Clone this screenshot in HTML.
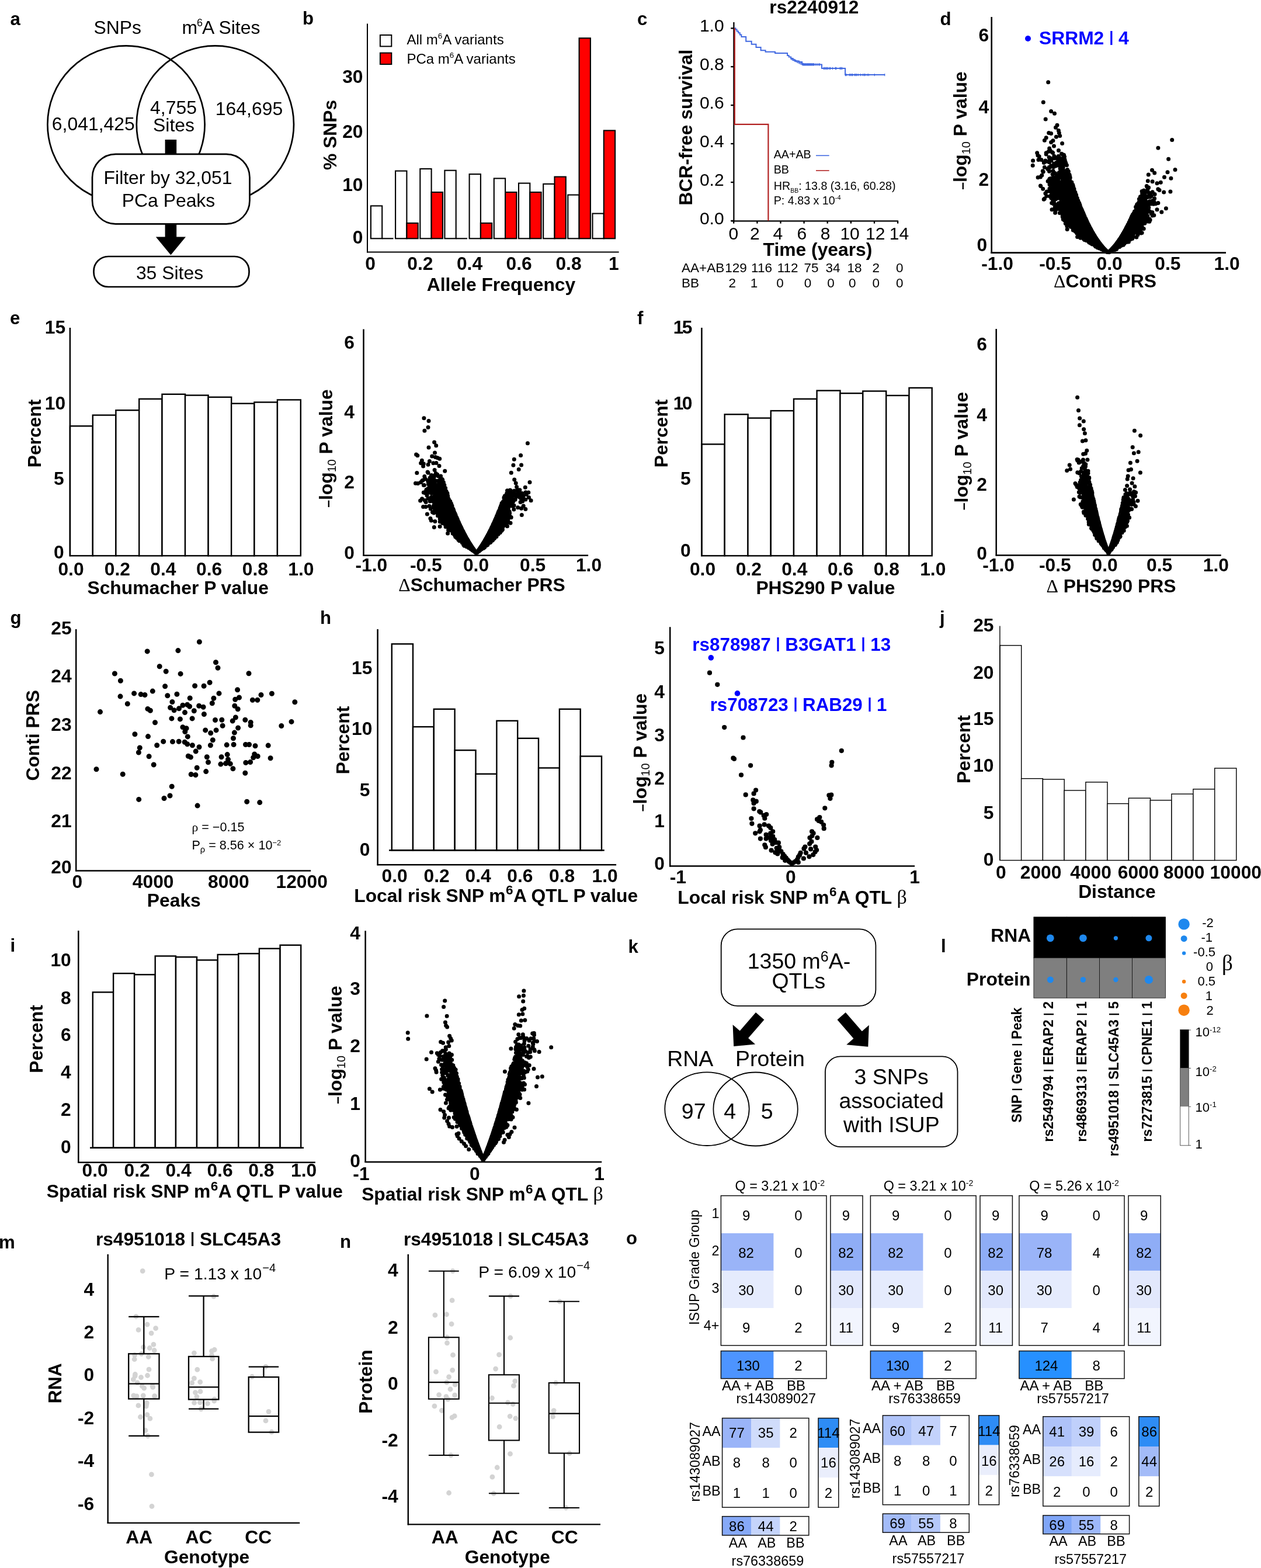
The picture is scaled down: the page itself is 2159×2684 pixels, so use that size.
<!DOCTYPE html>
<html lang="en"><head><meta charset="utf-8"><title>Figure</title>
<style>html,body{margin:0;padding:0;background:#fff}body{width:2159px;height:2684px;overflow:hidden}svg{display:block;font-family:"Liberation Sans",sans-serif;fill:#000}</style></head><body>
<svg xmlns="http://www.w3.org/2000/svg" width="2159" height="2684" viewBox="0 0 2159 2684">
<text x="17.5" y="43" font-size="31.2" font-weight="bold">a</text>
<circle cx="216" cy="213" r="134.6" fill="none" stroke="#000" stroke-width="2.7"/>
<circle cx="368.4" cy="213" r="134.6" fill="none" stroke="#000" stroke-width="2.7"/>
<text x="201.2" y="57.6" font-size="31.9" text-anchor="middle">SNPs</text>
<text x="311.5" y="57.6" font-size="31.9">m<tspan font-size="18" dy="-12.5" dx="-1">6</tspan><tspan dy="12.5" dx="-1">A Sites</tspan></text>
<text x="159.8" y="222.7" font-size="31.9" text-anchor="middle">6,041,425</text>
<text x="297" y="195.4" font-size="31.9" text-anchor="middle">4,755</text>
<text x="297.5" y="224.5" font-size="31.9" text-anchor="middle">Sites</text>
<text x="426.5" y="197" font-size="31.9" text-anchor="middle">164,695</text>
<rect x="282.6" y="239" width="19.6" height="26" fill="#000"/>
<rect x="158" y="263.8" width="269.5" height="119.5" fill="#fff" stroke="#000" stroke-width="2.7" rx="40"/>
<text x="287.5" y="315" font-size="31.9" text-anchor="middle">Filter by 32,051</text>
<text x="288.5" y="353.8" font-size="31.9" text-anchor="middle">PCa Peaks</text>
<path d="M282.6 382 H302.2 V405.5 H318 L292.4 436.5 L266.8 405.5 H282.6 Z" fill="#000"/>
<rect x="160.5" y="439" width="266" height="52" fill="#fff" stroke="#000" stroke-width="2.7" rx="25"/>
<text x="290.5" y="478.2" font-size="31.9" text-anchor="middle">35 Sites</text>
<text x="518" y="42.3" font-size="31.2" font-weight="bold">b</text>
<rect x="634.9" y="352.4" width="19.3" height="55.9" fill="#fff" stroke="#000" stroke-width="2.1"/>
<line x1="654.2" y1="408.3" x2="673.5" y2="408.3" stroke="#000" stroke-width="2.1"/>
<rect x="677.1" y="292.6" width="19.3" height="115.7" fill="#fff" stroke="#000" stroke-width="2.1"/>
<rect x="696.4" y="381.9" width="19.3" height="26.4" fill="#f00" stroke="#000" stroke-width="2.1"/>
<rect x="719.3" y="289" width="19.3" height="119.3" fill="#fff" stroke="#000" stroke-width="2.1"/>
<rect x="738.6" y="329" width="19.3" height="79.3" fill="#f00" stroke="#000" stroke-width="2.1"/>
<rect x="761.4" y="291.7" width="19.3" height="116.6" fill="#fff" stroke="#000" stroke-width="2.1"/>
<line x1="780.7" y1="408.3" x2="800" y2="408.3" stroke="#000" stroke-width="2.1"/>
<rect x="803.6" y="298.1" width="19.3" height="110.2" fill="#fff" stroke="#000" stroke-width="2.1"/>
<rect x="822.9" y="381.9" width="19.3" height="26.4" fill="#f00" stroke="#000" stroke-width="2.1"/>
<rect x="845.8" y="305.4" width="19.3" height="102.9" fill="#fff" stroke="#000" stroke-width="2.1"/>
<rect x="865.1" y="329" width="19.3" height="79.3" fill="#f00" stroke="#000" stroke-width="2.1"/>
<rect x="888" y="313.6" width="19.3" height="94.7" fill="#fff" stroke="#000" stroke-width="2.1"/>
<rect x="907.3" y="329" width="19.3" height="79.3" fill="#f00" stroke="#000" stroke-width="2.1"/>
<rect x="930.2" y="314.9" width="19.3" height="93.4" fill="#fff" stroke="#000" stroke-width="2.1"/>
<rect x="949.5" y="302.6" width="19.3" height="105.7" fill="#f00" stroke="#000" stroke-width="2.1"/>
<rect x="972.3" y="333.6" width="19.3" height="74.7" fill="#fff" stroke="#000" stroke-width="2.1"/>
<rect x="991.6" y="65.3" width="19.3" height="343" fill="#f00" stroke="#000" stroke-width="2.1"/>
<rect x="1014.5" y="365.5" width="19.3" height="42.8" fill="#fff" stroke="#000" stroke-width="2.1"/>
<rect x="1033.8" y="223.4" width="19.3" height="184.9" fill="#f00" stroke="#000" stroke-width="2.1"/>
<line x1="629" y1="40.5" x2="629" y2="432.6" stroke="#000" stroke-width="2"/>
<line x1="628" y1="431.6" x2="1059.6" y2="431.6" stroke="#000" stroke-width="2"/>
<text x="621.5" y="141.5" font-size="31.8" font-weight="bold" text-anchor="end">30</text>
<text x="621.5" y="235.8" font-size="31.8" font-weight="bold" text-anchor="end">20</text>
<text x="621.5" y="327.3" font-size="31.8" font-weight="bold" text-anchor="end">10</text>
<text x="621.5" y="417.3" font-size="31.8" font-weight="bold" text-anchor="end">0</text>
<text x="634" y="462.3" font-size="31.8" font-weight="bold" text-anchor="middle">0</text>
<text x="719.4" y="462.3" font-size="31.8" font-weight="bold" text-anchor="middle">0.2</text>
<text x="804" y="462.3" font-size="31.8" font-weight="bold" text-anchor="middle">0.4</text>
<text x="888.7" y="462.3" font-size="31.8" font-weight="bold" text-anchor="middle">0.6</text>
<text x="973.5" y="462.3" font-size="31.8" font-weight="bold" text-anchor="middle">0.8</text>
<text x="1050.8" y="462.3" font-size="31.8" font-weight="bold" text-anchor="middle">1</text>
<text x="858" y="498.3" font-size="31.8" font-weight="bold" text-anchor="middle">Allele Frequency</text>
<text transform="translate(576 231) rotate(-90)" font-size="31.8" font-weight="bold" text-anchor="middle">% SNPs</text>
<rect x="650.9" y="60" width="19.4" height="19.4" fill="#fff" stroke="#000" stroke-width="2"/>
<rect x="650.9" y="90.6" width="19.4" height="19.4" fill="#f00" stroke="#000" stroke-width="2"/>
<text x="696.4" y="75.6" font-size="24">All m<tspan font-size="13.5" dy="-9.5">6</tspan><tspan dy="9.5">A variants</tspan></text>
<text x="696.4" y="108.5" font-size="24">PCa m<tspan font-size="13.5" dy="-9.5">6</tspan><tspan dy="9.5">A variants</tspan></text>
<text x="1091" y="43.3" font-size="31.2" font-weight="bold">c</text>
<text x="1393.8" y="23.2" font-size="31.6" font-weight="bold" text-anchor="middle">rs2240912</text>
<line x1="1256.4" y1="38" x2="1256.4" y2="379.5" stroke="#000" stroke-width="2.3"/>
<line x1="1251.6" y1="378.4" x2="1537.9" y2="378.4" stroke="#000" stroke-width="2.3"/>
<line x1="1251.2" y1="48.4" x2="1256.4" y2="48.4" stroke="#000" stroke-width="2.3"/>
<text x="1239.6" y="54" font-size="30" text-anchor="end">1.0</text>
<line x1="1251.2" y1="114.2" x2="1256.4" y2="114.2" stroke="#000" stroke-width="2.3"/>
<text x="1239.6" y="119.8" font-size="30" text-anchor="end">0.8</text>
<line x1="1251.2" y1="180.1" x2="1256.4" y2="180.1" stroke="#000" stroke-width="2.3"/>
<text x="1239.6" y="185.7" font-size="30" text-anchor="end">0.6</text>
<line x1="1251.2" y1="246" x2="1256.4" y2="246" stroke="#000" stroke-width="2.3"/>
<text x="1239.6" y="251.6" font-size="30" text-anchor="end">0.4</text>
<line x1="1251.2" y1="312" x2="1256.4" y2="312" stroke="#000" stroke-width="2.3"/>
<text x="1239.6" y="317.6" font-size="30" text-anchor="end">0.2</text>
<line x1="1251.2" y1="377.9" x2="1256.4" y2="377.9" stroke="#000" stroke-width="2.3"/>
<text x="1239.6" y="383.5" font-size="30" text-anchor="end">0.0</text>
<line x1="1256.2" y1="378" x2="1256.2" y2="382.6" stroke="#000" stroke-width="2.3"/>
<text x="1255.8" y="409.8" font-size="30" text-anchor="middle">0</text>
<line x1="1296.4" y1="378" x2="1296.4" y2="382.6" stroke="#000" stroke-width="2.3"/>
<text x="1292.3" y="409.8" font-size="30" text-anchor="middle">2</text>
<line x1="1336.5" y1="378" x2="1336.5" y2="382.6" stroke="#000" stroke-width="2.3"/>
<text x="1331.9" y="409.8" font-size="30" text-anchor="middle">4</text>
<line x1="1376.6" y1="378" x2="1376.6" y2="382.6" stroke="#000" stroke-width="2.3"/>
<text x="1372.9" y="409.8" font-size="30" text-anchor="middle">6</text>
<line x1="1416.7" y1="378" x2="1416.7" y2="382.6" stroke="#000" stroke-width="2.3"/>
<text x="1413" y="409.8" font-size="30" text-anchor="middle">8</text>
<line x1="1456.9" y1="378" x2="1456.9" y2="382.6" stroke="#000" stroke-width="2.3"/>
<text x="1455.1" y="409.8" font-size="30" text-anchor="middle">10</text>
<line x1="1497" y1="378" x2="1497" y2="382.6" stroke="#000" stroke-width="2.3"/>
<text x="1498.8" y="409.8" font-size="30" text-anchor="middle">12</text>
<line x1="1537.1" y1="378" x2="1537.1" y2="382.6" stroke="#000" stroke-width="2.3"/>
<text x="1539.5" y="409.8" font-size="30" text-anchor="middle">14</text>
<text x="1400" y="438" font-size="31.8" font-weight="bold" text-anchor="middle">Time (years)</text>
<text transform="translate(1184.9 218) rotate(-90)" font-size="31.8" font-weight="bold" text-anchor="middle">BCR-free survival</text>
<path d="M1257.3 48.2H1259.4V50.4H1261.6V53.4H1264.2V56.3H1266.8V59.4H1269.4V62.9H1275.5V62.9H1277.2V70.7H1285.8V70.7H1286.7V75.8H1291.9V75.8H1294.5V81H1301.4V81H1302.6V86.2H1310.1V86.2H1310.6V88.8H1326V88.8H1327V90.9H1345.9V90.9H1348.1V94.9H1350.7V97.5H1354.2V100.1H1357.6V102.7H1361.1V104.4H1368V106.1H1373.2V108.7H1374.9V110.4H1406.1V110.4H1407V117H1445.9V117H1447.1V128.1H1515.1V128.1" fill="none" stroke="#4169e1" stroke-width="2"/>
<path d="M1354.2 97.9v4.4M1355.8 98.7v4.4M1357.4 99.5v4.4M1359 100.3v4.4M1360.6 101.1v4.4M1362.2 101.9v4.4M1363.8 102.7v4.4M1365.4 103.5v4.4M1367 104.3v4.4M1368.6 105.1v4.4M1370.2 105.9v4.4M1371.8 106.7v4.4M1373.4 107.5v4.4M1374.9 108.2v4.4M1375.8 108.2v4.4M1377 108.2v4.4M1378.2 108.2v4.4M1379.4 108.2v4.4M1380.7 108.2v4.4M1381.9 108.2v4.4M1383.1 108.2v4.4M1384.3 108.2v4.4M1385.5 108.2v4.4M1386.7 108.2v4.4M1387.9 108.2v4.4M1389.1 108.2v4.4M1390.3 108.2v4.4M1391.6 108.2v4.4M1392.8 108.2v4.4M1394 108.2v4.4M1396.6 108.2v4.4M1399.2 108.2v4.4M1401.8 108.2v4.4M1403.5 108.2v4.4M1410.4 114.8v4.4M1412.1 114.8v4.4M1413.9 114.8v4.4M1415.6 114.8v4.4M1417.3 114.8v4.4M1419.9 114.8v4.4M1421.7 114.8v4.4M1425.5 114.8v4.4M1430.3 114.8v4.4M1431.7 114.8v4.4M1438.1 114.8v4.4M1439.8 114.8v4.4M1441.6 114.8v4.4M1447.6 125.9v4.4M1449 125.9v4.4M1454.5 125.9v4.4M1456.3 125.9v4.4M1458.3 125.9v4.4M1459.7 125.9v4.4M1463.2 125.9v4.4M1464.9 125.9v4.4M1466.6 125.9v4.4M1469.2 125.9v4.4M1473.6 125.9v4.4M1477.4 125.9v4.4M1479.6 125.9v4.4M1481.3 125.9v4.4M1484.8 125.9v4.4M1487.4 125.9v4.4M1497.3 125.9v4.4M1514.7 125.9v4.4" fill="none" stroke="#4169e1" stroke-width="1.2"/>
<path d="M1257.8 48.2V212.8H1315.4V378" fill="none" stroke="#b22222" stroke-width="2.2"/>
<text x="1324.7" y="271" font-size="19.7">AA+AB</text>
<line x1="1397" y1="266.3" x2="1419.7" y2="266.3" stroke="#4169e1" stroke-width="1.6"/>
<text x="1324.7" y="296.5" font-size="19.7">BB</text>
<line x1="1397" y1="292" x2="1419.7" y2="292" stroke="#b22222" stroke-width="1.6"/>
<text x="1324.7" y="324.8" font-size="19.7">HR<tspan font-size="10.5" dy="5.5">BB</tspan><tspan dy="-5.5">: 13.8 (3.16, 60.28)</tspan></text>
<text x="1324.7" y="350.4" font-size="19.7">P: 4.83 x 10<tspan font-size="11" dy="-8">-4</tspan></text>
<text x="1167" y="466" font-size="22.5">AA+AB</text>
<text x="1167" y="492" font-size="22.5">BB</text>
<text x="1260" y="466" font-size="22.5" text-anchor="middle">129</text>
<text x="1304" y="466" font-size="22.5" text-anchor="middle">116</text>
<text x="1348.7" y="466" font-size="22.5" text-anchor="middle">112</text>
<text x="1389" y="466" font-size="22.5" text-anchor="middle">75</text>
<text x="1426" y="466" font-size="22.5" text-anchor="middle">34</text>
<text x="1463" y="466" font-size="22.5" text-anchor="middle">18</text>
<text x="1499.8" y="466" font-size="22.5" text-anchor="middle">2</text>
<text x="1540.3" y="466" font-size="22.5" text-anchor="middle">0</text>
<text x="1253.7" y="492" font-size="22.5" text-anchor="middle">2</text>
<text x="1291" y="492" font-size="22.5" text-anchor="middle">1</text>
<text x="1335.6" y="492" font-size="22.5" text-anchor="middle">0</text>
<text x="1383" y="492" font-size="22.5" text-anchor="middle">0</text>
<text x="1422.5" y="492" font-size="22.5" text-anchor="middle">0</text>
<text x="1459.3" y="492" font-size="22.5" text-anchor="middle">0</text>
<text x="1499.8" y="492" font-size="22.5" text-anchor="middle">0</text>
<text x="1540.3" y="492" font-size="22.5" text-anchor="middle">0</text>
<text x="1609.5" y="42.9" font-size="31.2" font-weight="bold">d</text>
<line x1="1697.7" y1="29" x2="1697.7" y2="433.9" stroke="#000" stroke-width="2.6"/>
<line x1="1696.4" y1="432.6" x2="2099" y2="432.6" stroke="#000" stroke-width="2.6"/>
<text x="1693.1" y="70.5" font-size="31.8" font-weight="bold" text-anchor="end">6</text>
<text x="1693.1" y="194.3" font-size="31.8" font-weight="bold" text-anchor="end">4</text>
<text x="1693.1" y="318" font-size="31.8" font-weight="bold" text-anchor="end">2</text>
<text x="1690.2" y="430.1" font-size="31.8" font-weight="bold" text-anchor="end">0</text>
<text x="1707.6" y="461.9" font-size="31.8" font-weight="bold" text-anchor="middle">-1.0</text>
<text x="1806.6" y="461.9" font-size="31.8" font-weight="bold" text-anchor="middle">-0.5</text>
<text x="1899.6" y="461.9" font-size="31.8" font-weight="bold" text-anchor="middle">0.0</text>
<text x="1999.4" y="461.9" font-size="31.8" font-weight="bold" text-anchor="middle">0.5</text>
<text x="2100.6" y="461.9" font-size="31.8" font-weight="bold" text-anchor="middle">1.0</text>
<text x="1892" y="492.4" font-size="31.8" font-weight="bold" text-anchor="middle"><tspan font-family="'Liberation Serif','DejaVu Serif',serif" font-weight="normal">Δ</tspan>Conti PRS</text>
<text transform="translate(1655 223.6) rotate(-90)" font-size="31.8" font-weight="bold" text-anchor="middle"><tspan font-size="23">–</tspan>log<tspan font-size="20" font-weight="normal" dy="5.5">10</tspan><tspan dy="-5.5"> P value</tspan></text>
<path d="M1794.7 140.8h0M1786.3 174.9h0M1799.6 190.6h0M1805.5 194.3h0M1790.2 203.9h0M1810 214.3h0M1807.5 218.2h0M1812.4 223.5h0M1813.3 227.5h0M1795.7 227.5h0M1799.6 228.4h0M1814.7 232.4h0M1808.4 234.3h0M1791.2 235.7h0M1788.4 240.2h0M1802.9 240.8h0M1799.6 243.5h0M1818.6 245.5h0M1804.5 250h0M1796.7 253.9h0M1798.2 257.8h0M1791.2 261.8h0M1796.1 269.2h0M1778 273.5h0M1782.9 273.5h0M1787.3 278.4h0M1768.2 283.3h0M1788.4 286.3h0M1793.7 289.2h0M1799.6 285.3h0M1804.5 284.3h0M1781.4 302.9h0M1781.8 318.4h0M1792.2 328h0M1799.6 334.3h0M1801 358.8h0M2006.7 239.4h0M1982.9 253.3h0M2000.6 272.2h0M2012 290.4h0M1972.5 291.2h0M1976.7 296.1h0M1999 294.7h0M1966.3 299h0M1993.5 303.3h0M2004.9 305.3h0M1965.3 309.8h0M1973.1 310.8h0M1987.3 312.2h0M1981 313.7h0M1992.7 329h0M1988.8 363.1h0M1982.9 347.5h0M1981 358.8h0M1977.1 332.4h0M1955.1 327.5h0M1973.1 369h0M1812.5 257.6h0M1795.4 259.3h0M1801.4 260.6h0M1802.6 261.6h0M1775.7 261.8h0M1817.5 263.2h0M1791.2 264h0M1819.2 264.4h0M1821.5 265.3h0M1776.9 266h0M1804.8 267.3h0M1812 267.5h0M1779.2 267.8h0M1822.5 268.3h0M1813.5 269.5h0M1809.4 270.2h0M1809.8 270.7h0M1819.8 271h0M1805 271.1h0M1798.6 271.1h0M1810.5 271.8h0M1817.8 272.4h0M1823 273.3h0M1813.6 273.3h0M1797.4 273.7h0M1813.5 274.5h0M1812 274.6h0M1789.9 275h0M1799.8 275h0M1768.6 275.1h0M1822.8 276h0M1791.9 276.2h0M1817.3 276.3h0M1820.4 276.6h0M1823.9 276.8h0M1796.5 277.7h0M1809 278.3h0M1817.9 278.3h0M1824.4 278.5h0M1816.9 279.4h0M1824.9 279.4h0M1804.6 280h0M1815 280.7h0M1824.1 281.5h0M1822.3 281.6h0M1820 281.7h0M1818.7 282.6h0M1826.4 282.7h0M1807.5 282.8h0M1810.4 282.8h0M1816.1 283.3h0M1799.7 283.8h0M1807.8 284.1h0M1814.9 284.8h0M1803.9 285.7h0M1796.2 286.3h0M1820.2 286.8h0M1815.1 288.8h0M1795.8 289h0M1827.5 290.5h0M1819.9 290.7h0M1803 292.4h0M1828.2 292.5h0M1821.9 292.6h0M1785.3 292.7h0M1796.5 293.3h0M1829.4 293.5h0M1786.2 293.9h0M1821.3 294.1h0M1821 294.5h0M1814.6 295h0M1817.9 295.3h0M1813.4 295.3h0M1804.2 295.5h0M1815.4 295.9h0M1828.1 295.9h0M1823.2 296h0M1806.5 296.4h0M1818.9 296.7h0M1821.6 297h0M1816 297.4h0M1802.1 298.4h0M1831 298.9h0M1813.5 299.3h0M1825.3 299.6h0M1783.8 300.1h0M1809.5 300.2h0M1813.8 300.5h0M1831.4 300.6h0M1825.8 300.7h0M1818.7 301.1h0M1822.4 301.4h0M1828.5 301.6h0M1831.5 302h0M1823.7 302.1h0M1829.8 302.8h0M1826.5 303h0M1832 303.2h0M1803.7 303.2h0M1818 303.3h0M1777.1 303.8h0M1817.4 304.1h0M1832.2 304.2h0M1813.5 304.6h0M1829.2 305h0M1827.4 305h0M1805.9 305h0M1802.5 305.6h0M1798.8 305.6h0M1797.2 305.9h0M1828.1 306h0M1830.9 306.1h0M1824.1 306.2h0M1809 306.4h0M1796.6 306.9h0M1811.8 306.9h0M1825.8 307.4h0M1801.4 307.5h0M1830.3 308h0M1822.1 308.2h0M1819.5 308.3h0M1821.9 308.8h0M1831.8 308.9h0M1807.3 309.4h0M1829.7 309.4h0M1830.1 309.7h0M1802.3 309.9h0M1812.5 310.2h0M1823.2 310.2h0M1794.1 310.3h0M1832 310.4h0M1830.7 310.8h0M1821 310.9h0M1813 311.2h0M1800.1 311.3h0M1819.4 311.3h0M1804.6 311.6h0M1826.9 311.8h0M1834.9 312h0M1822.1 312.2h0M1817.1 312.3h0M1810.4 312.6h0M1801.1 312.7h0M1820.3 312.9h0M1832.5 312.9h0M1830.5 313.2h0M1810 313.3h0M1820.9 313.5h0M1813.4 313.6h0M1820.1 313.8h0M1804.2 314.3h0M1827.3 314.4h0M1827.6 314.6h0M1829.7 314.8h0M1807.9 314.9h0M1824.3 315.2h0M1820.9 315.6h0M1824.3 315.7h0M1797 315.8h0M1830.7 315.9h0M1826.7 316.1h0M1811.2 316.2h0M1802.7 316.3h0M1836.7 316.3h0M1820.4 316.4h0M1832.3 316.6h0M1819.5 316.6h0M1836.5 317.2h0M1814.5 317.3h0M1824.7 317.7h0M1811.7 318h0M1826 318h0M1822.9 318h0M1819.2 318.1h0M1831.9 318.1h0M1781.4 318.1h0M1835.1 318.2h0M1815.9 318.3h0M1807.2 318.3h0M1803.6 318.3h0M1963.3 318.5h0M1836.6 318.5h0M1819.1 318.8h0M1802.8 318.8h0M1837.4 318.8h0M1833.3 319.1h0M1823.1 319.1h0M1963.6 319.2h0M1809.9 319.4h0M1825.6 319.4h0M1828.9 319.4h0M1833.6 319.6h0M1828.2 319.8h0M1824.7 319.8h0M1815.9 319.9h0M1798.9 320h0M1964.7 320.4h0M1815.9 320.5h0M1829.7 320.6h0M1809.6 320.7h0M1966.6 320.9h0M1822.2 320.9h0M1837.9 321.1h0M1821.2 321.7h0M1803.2 321.7h0M1823.8 321.7h0M1813.6 321.8h0M1832.9 322h0M1838.1 322.4h0M1812.6 322.5h0M1824.8 322.7h0M1836.5 322.7h0M1832.2 322.7h0M1822.2 322.8h0M1796.9 323.1h0M1828.7 323.1h0M1838.3 323.2h0M1785.7 323.3h0M1839 323.5h0M1836.4 323.7h0M1820.3 323.7h0M1982.8 323.8h0M1824.2 323.9h0M1808.6 324h0M1805.1 324.2h0M1816.1 324.2h0M1836.9 324.4h0M1810.7 324.5h0M1832.1 324.9h0M1837.5 325h0M1810.7 325.1h0M1818.7 325.2h0M1823.8 325.2h0M1964.8 325.2h0M1831 325.4h0M1985 325.5h0M1819.6 325.6h0M1836.6 325.7h0M1821.8 325.8h0M1824.6 325.8h0M1832.6 325.9h0M1808.8 325.9h0M1805.9 325.9h0M1958.4 326.1h0M1838.3 326.4h0M1806.1 326.6h0M1812.8 326.7h0M1801.4 326.7h0M1837.1 326.8h0M1821.5 326.9h0M1814.1 326.9h0M1825.6 327h0M1830.9 327.5h0M1813.3 327.6h0M1835.9 327.6h0M1839.7 327.6h0M1798.3 327.8h0M1825.3 328h0M1819.7 328h0M2003.9 328.1h0M1830.6 328.3h0M1838.8 328.4h0M1973.2 328.7h0M1827.2 328.8h0M1840.5 328.9h0M1833.2 328.9h0M1812.7 329h0M1804.9 329h0M1829.5 329h0M1814.8 329.1h0M1802.5 329.1h0M1961.2 329.1h0M1824.9 329.3h0M1808.6 329.4h0M1841 329.4h0M1840.2 329.7h0M1822.7 329.7h0M1830.4 329.8h0M1836.6 329.8h0M1826.2 330h0M1833.7 330.1h0M1967.2 330.1h0M1819.1 330.2h0M1809.2 330.2h0M1816.7 330.7h0M1821.6 330.8h0M1833.1 330.8h0M1825 330.8h0M1839.5 330.8h0M1789.9 331h0M1835.2 331.1h0M1955.6 331.2h0M1841 331.3h0M1968.7 331.5h0M1825.9 331.6h0M1816.6 331.7h0M1837.2 331.8h0M1821.1 331.8h0M1833.2 331.8h0M1839.8 331.9h0M1826.4 331.9h0M1830.7 332h0M1804.5 332.2h0M1837.3 332.7h0M1832.2 332.9h0M1820.7 333.1h0M1829.5 333.1h0M1814 333.2h0M1841.5 333.3h0M1842.5 333.5h0M1837.2 333.7h0M1818.8 333.7h0M1825.5 333.7h0M1827.5 333.9h0M1840.2 334h0M1842.4 334h0M1835.6 334.1h0M1811.1 334.2h0M1817.6 334.7h0M1824.1 334.7h0M1960.8 334.7h0M1810.5 334.7h0M1804.8 334.8h0M1840.8 335h0M1814.1 335h0M1842.7 335h0M1834.3 335.1h0M1829.4 335.2h0M1971.1 335.4h0M1823.7 335.4h0M1791.7 335.5h0M1819.8 335.6h0M1840 335.6h0M1822.9 335.7h0M1828.6 335.7h0M1817.4 336h0M1963.5 336.1h0M1797.5 336.1h0M1842.8 336.2h0M1829.6 336.2h0M1815 336.3h0M1832.7 336.4h0M1826.8 336.5h0M1839.3 336.5h0M1821.5 336.6h0M1952.4 336.7h0M1840 336.7h0M1837.4 336.8h0M1813.9 336.9h0M1832.1 336.9h0M1969.2 337.2h0M1964.6 337.4h0M1804.9 337.4h0M1842.2 337.5h0M1800.5 337.5h0M1831.3 337.6h0M1828 337.6h0M1842.7 337.6h0M1957 337.7h0M1843.3 337.9h0M1809.1 337.9h0M1822.4 338h0M1833.1 338.1h0M1957.7 338.2h0M1827.4 338.4h0M1838.8 338.4h0M1819 338.5h0M1816 338.6h0M1843.2 338.7h0M1824.5 338.8h0M1835.7 338.8h0M1799.8 338.9h0M1812.2 338.9h0M1832.5 339.1h0M1844.3 339.2h0M1840.2 339.3h0M1808.4 339.5h0M1824.5 339.6h0M1815.3 339.6h0M1976.6 339.8h0M1836.6 339.9h0M1840.1 339.9h0M1818.3 339.9h0M1951.3 339.9h0M1788.4 340h0M1830.5 340.1h0M1958.2 340.1h0M1841.8 340.5h0M1817.6 340.6h0M1958.4 340.6h0M1829.5 340.7h0M1823.9 340.7h0M1844.3 340.8h0M1950.4 340.8h0M1807.7 340.8h0M1837.5 341h0M1822.3 341.1h0M1816.8 341.2h0M1802.2 341.3h0M1787.2 341.3h0M1827.7 341.4h0M1841.3 341.4h0M1952 341.6h0M1833.4 341.6h0M1820.9 341.7h0M1831.2 341.8h0M1828.6 341.9h0M1825.8 342.1h0M1842.1 342.1h0M1838.3 342.2h0M1844.1 342.3h0M1821.1 342.4h0M1834 342.6h0M1830 342.8h0M1817.1 342.9h0M1957.2 342.9h0M1825.6 342.9h0M1821.4 343h0M1840.1 343.1h0M1954.3 343.1h0M1975.1 343.2h0M1845.3 343.4h0M1837.2 343.4h0M1845.9 343.4h0M1961.3 343.6h0M1825.7 343.6h0M1818.5 343.7h0M1842.1 343.8h0M1972.8 343.9h0M1837.9 343.9h0M1845.2 344h0M1831.4 344.1h0M1820.4 344.4h0M1950.7 344.6h0M1839.5 344.7h0M1830.1 344.7h0M1968.2 344.8h0M1836.2 344.8h0M1845.2 345.1h0M1958.2 345.3h0M1971.4 345.3h0M1962.7 345.4h0M1826.2 345.4h0M1840.1 345.8h0M1836.6 345.8h0M1821.2 345.9h0M1841.9 345.9h0M1832.8 346h0M1804.5 346h0M1976.1 346.1h0M1950.6 346.2h0M1962.6 346.2h0M1953.8 346.2h0M1830.9 346.3h0M1963.8 346.4h0M1841.7 346.6h0M1834.3 346.7h0M1824.5 346.7h0M1847.1 346.7h0M1832.3 346.8h0M1957.5 346.8h0M1828.9 346.9h0M1967.2 346.9h0M1839.6 347.2h0M1814.8 347.5h0M1844.5 347.5h0M1973 347.5h0M1825.5 347.5h0M1800.7 347.6h0M1823.8 347.6h0M1949.2 347.6h0M1836.4 347.7h0M1847.8 347.7h0M1829.8 347.8h0M1841.4 347.9h0M1812.3 347.9h0M1814.8 348.2h0M1834.5 348.2h0M1822 348.3h0M1958.9 348.3h0M1952.7 348.3h0M1967.3 348.5h0M1842 348.6h0M1821.5 348.6h0M1837.8 348.6h0M1977 348.6h0M1978.6 348.7h0M1952.6 348.8h0M1803.9 348.9h0M1830.2 348.9h0M1970.4 348.9h0M1818.1 348.9h0M1845.6 349h0M1950.2 349h0M1840 349.1h0M1848.2 349.2h0M1974.9 349.3h0M1836 349.5h0M1832.6 349.5h0M1843.8 349.7h0M1815.4 349.7h0M1826.9 349.7h0M1825.5 349.8h0M1946.9 349.8h0M1838.9 349.8h0M1818.8 349.8h0M1961.1 349.9h0M1829.2 350h0M1951.2 350h0M1847.2 350.2h0M1837.3 350.5h0M1808.8 350.5h0M1948.5 350.6h0M1839.7 350.6h0M1830.1 350.6h0M1824.5 350.7h0M1845.4 350.8h0M1819.3 350.9h0M1847.4 350.9h0M1849 350.9h0M1842.1 351h0M1952.5 351.1h0M1961.9 351.1h0M1825.9 351.3h0M1835.4 351.4h0M1965.2 351.5h0M1946.2 351.5h0M1814.5 351.6h0M1831.7 351.6h0M1807.9 351.7h0M1827.6 351.7h0M1824.7 351.7h0M1809.8 351.8h0M1838 351.8h0M1845.2 352h0M1822.2 352.1h0M1952.8 352.1h0M1835.3 352.1h0M1842.8 352.3h0M1806.7 352.3h0M1965.6 352.4h0M1848.6 352.5h0M1838.4 352.6h0M1952.4 352.7h0M1844.6 352.9h0M1820.5 352.9h0M1848.5 353h0M1830 353h0M1831.4 353h0M1840.2 353h0M1960.3 353.1h0M1835.4 353.1h0M1827 353.4h0M1965.6 353.5h0M1837 353.7h0M1965.1 353.7h0M1824.4 353.7h0M1843.9 353.7h0M1807.7 353.7h0M1945.8 353.7h0M1828.8 353.8h0M1948.2 353.8h0M1834.2 354h0M1952.1 354h0M1839.2 354h0M1816.9 354.1h0M1847.9 354.1h0M1849.8 354.1h0M1955.1 354.2h0M1944.6 354.2h0M1830.9 354.6h0M1806.2 354.7h0M1828.4 354.8h0M1847.1 354.8h0M1820.4 354.8h0M1833.4 354.9h0M1840 354.9h0M1849.9 354.9h0M1958.3 354.9h0M1843.6 355h0M1822.1 355.1h0M1946.3 355.3h0M1825.6 355.4h0M1949.2 355.4h0M1952.2 355.4h0M1966.8 355.5h0M1839.2 355.6h0M1829.4 355.7h0M1812.3 355.7h0M1846.9 355.8h0M1823.3 355.9h0M1834.6 355.9h0M1843.1 356.1h0M1966.3 356.2h0M1850.5 356.2h0M1955.5 356.3h0M1952.1 356.3h0M1818.9 356.4h0M1828.9 356.4h0M1839.8 356.4h0M1850.8 356.6h0M1948 356.6h0M1823.1 356.6h0M1996.4 356.7h0M1956.2 356.7h0M1952.9 356.7h0M1806.1 356.8h0M1829.3 356.8h0M1958.9 356.9h0M1816.7 356.9h0M1831 356.9h0M1838.1 356.9h0M1846.5 356.9h0M1842.8 356.9h0M1819.7 357h0M1835.5 357.1h0M1825.7 357.1h0M1960.9 357.3h0M1840.7 357.5h0M1812.1 357.5h0M1847.8 357.6h0M1849.6 357.6h0M1824.2 357.8h0M1964 357.8h0M1836.1 357.8h0M1960.4 357.9h0M1851.2 357.9h0M1830.9 357.9h0M1843.9 357.9h0M1828.8 358h0M1950 358.1h0M1946.1 358.1h0M1851.8 358.2h0M1838.4 358.2h0M1816.3 358.3h0M1847.8 358.6h0M1955.6 358.6h0M1835.5 358.6h0M1825.4 358.7h0M1843.9 358.7h0M1840.3 358.8h0M1818.5 358.9h0M1846.8 359.1h0M1945.1 359.2h0M1851.8 359.4h0M1957.7 359.4h0M1831.3 359.5h0M1835.7 359.5h0M1953 359.6h0M1958.3 359.6h0M1850.3 359.6h0M1826.1 359.7h0M1844 359.7h0M1946.7 359.7h0M1841.2 359.7h0M1848.3 359.8h0M1829.4 359.8h0M1835.1 359.9h0M1950.7 360.1h0M1832.5 360.2h0M1818.7 360.3h0M1820.1 360.3h0M1959.5 360.4h0M1945.2 360.6h0M1846.4 360.6h0M1837.3 360.6h0M1944.5 360.7h0M1852.9 360.7h0M1825.1 360.8h0M1819 360.9h0M1807 360.9h0M1850.5 360.9h0M1841.5 360.9h0M1953.8 361h0M1822.5 361.1h0M1832 361.2h0M1944 361.3h0M1949.3 361.3h0M1956.6 361.5h0M1838.3 361.6h0M1953.4 361.6h0M1846.6 361.6h0M1833 361.6h0M1844.8 361.7h0M1825.2 361.7h0M1835.7 361.9h0M1823.2 361.9h0M1963.8 361.9h0M1942.5 361.9h0M1851.7 361.9h0M1968.6 362.1h0M1831.7 362.1h0M1828.5 362.1h0M1957.9 362.2h0M1842.5 362.3h0M1949.4 362.3h0M1962.8 362.3h0M1847.6 362.6h0M1945.8 362.6h0M1845 362.7h0M1954.1 362.8h0M1943.1 362.8h0M1836.1 362.8h0M1853.5 362.8h0M1829.4 362.8h0M1841.4 362.9h0M1831.5 362.9h0M1853.7 363h0M1826.3 363.1h0M1820.5 363.5h0M1840.9 363.6h0M1972.9 363.6h0M1839.9 363.6h0M1851.2 363.7h0M1831 363.7h0M1822.2 363.7h0M1846.1 363.7h0M1836.2 363.8h0M1819.2 363.8h0M1849.2 363.9h0M1942.5 363.9h0M1853.5 364h0M1854.4 364.2h0M1949.2 364.2h0M1958.4 364.2h0M1806.6 364.3h0M1963.4 364.4h0M1814.3 364.4h0M1825 364.5h0M1843.7 364.6h0M1952.9 364.6h0M1834.2 364.7h0M1841.1 364.7h0M1941.8 364.7h0M1828.2 364.8h0M1944.1 364.8h0M1830.9 364.8h0M1854.6 364.9h0M1838 364.9h0M1824.4 364.9h0M1821.9 364.9h0M1848.7 365h0M1961.3 365.2h0M1947.4 365.3h0M1941 365.3h0M1854.9 365.4h0M1819 365.5h0M1971.1 365.5h0M1849.9 365.7h0M1838.1 365.8h0M1942.8 365.8h0M1844.6 365.8h0M1948.4 365.8h0M1841.8 365.8h0M1953.8 365.8h0M1852.2 365.9h0M1824.9 366.2h0M1959.9 366.2h0M1941 366.3h0M1950 366.3h0M1855.3 366.4h0M1834.1 366.5h0M1945.9 366.6h0M1846.8 366.6h0M1841.8 366.6h0M1827.8 366.7h0M1949.1 366.8h0M1942.2 366.8h0M1850.6 366.8h0M1835.6 366.9h0M1839.4 366.9h0M1847.8 367h0M1844.7 367.1h0M1854.5 367.1h0M1832.7 367.2h0M1822.4 367.3h0M1827.1 367.5h0M1939.3 367.5h0M1962.9 367.5h0M1853.1 367.7h0M1944.7 367.8h0M1840.1 367.8h0M1832.2 367.8h0M1942.3 367.8h0M1855.6 367.8h0M1835.3 367.9h0M1947.1 368.1h0M1843.5 368.1h0M1962.6 368.3h0M1848.7 368.3h0M1825.2 368.3h0M1856.1 368.5h0M1830.9 368.5h0M1975.8 368.6h0M1950.7 368.6h0M1846.2 368.6h0M1852.5 368.7h0M1840.1 368.7h0M1826 368.7h0M1953.3 368.8h0M1947 368.9h0M1953.7 368.9h0M1835.7 368.9h0M1828.9 368.9h0M1942.7 368.9h0M1855.5 369h0M1843.5 369h0M1832.6 369.1h0M1941.3 369.1h0M1958 369.2h0M1939.7 369.3h0M1851.1 369.3h0M1939.4 369.5h0M1819.2 369.5h0M1837.9 369.6h0M1849.8 369.6h0M1856.1 369.6h0M1853.1 369.7h0M1842 369.7h0M1945.3 369.7h0M1938.2 369.8h0M1832.1 369.8h0M1836.4 369.8h0M1844.7 369.9h0M1964.8 369.9h0M1963.5 370h0M1947.3 370h0M1856.9 370.2h0M1950.2 370.2h0M1940.4 370.2h0M1848.7 370.4h0M1840.4 370.6h0M1835.5 370.7h0M1844.9 370.7h0M1838 370.8h0M1851.6 370.8h0M1937.7 370.8h0M1952.9 370.9h0M1855.4 370.9h0M1847.8 371h0M1822.6 371h0M1856.9 371h0M1832.8 371.1h0M1956.3 371.1h0M1828.3 371.1h0M1941 371.3h0M1819.3 371.3h0M1945.1 371.3h0M1950.3 371.3h0M1843 371.6h0M1958.5 371.6h0M1846.1 371.7h0M1945.5 371.7h0M1942.1 371.7h0M1851 371.7h0M1953 371.7h0M1834.9 371.8h0M1856.3 371.8h0M1830.1 371.8h0M1841.3 371.8h0M1939.1 372h0M1838.6 372.1h0M1950 372.1h0M1956.1 372.3h0M1856.3 372.5h0M1850.2 372.5h0M1843.7 372.6h0M1855.4 372.6h0M1833.2 372.7h0M1937.7 372.7h0M1958.2 372.7h0M1946.3 372.7h0M1856.8 372.7h0M1846.3 372.8h0M1837.6 372.8h0M1827.2 372.8h0M1852.7 372.8h0M1857.6 372.9h0M1943.6 372.9h0M1958.9 372.9h0M1939.4 373.1h0M1959 373.2h0M1841.9 373.3h0M1936.6 373.3h0M1849.1 373.4h0M1834.5 373.6h0M1858.4 373.6h0M1959.6 373.6h0M1831.1 373.7h0M1844.2 373.7h0M1850.7 373.8h0M1936.8 373.8h0M1855.1 373.8h0M1838.3 373.9h0M1858.5 373.9h0M1954 374h0M1946.1 374h0M1828 374.1h0M1949 374.1h0M1848.9 374.2h0M1941.2 374.3h0M1826 374.3h0M1963.5 374.5h0M1858.9 374.6h0M1944.3 374.6h0M1950.7 374.6h0M1842.2 374.6h0M1851.9 374.7h0M1857 374.7h0M1830.1 374.7h0M1833.6 374.7h0M1838.8 374.7h0M1846 374.8h0M1953.3 374.8h0M1842.5 374.9h0M1849.1 375h0M1968.1 375.1h0M1939 375.2h0M1957.1 375.2h0M1827.1 375.3h0M1853.5 375.3h0M1820.3 375.4h0M1938.1 375.5h0M1944.4 375.5h0M1834.9 375.6h0M1857.7 375.6h0M1859.3 375.6h0M1852.9 375.7h0M1943 375.7h0M1847.9 375.8h0M1832.5 375.8h0M1840.7 375.8h0M1837.9 375.8h0M1845.1 375.8h0M1828.5 375.9h0M1965 375.9h0M1946.9 375.9h0M1937.7 376h0M1935.4 376.2h0M1856.1 376.5h0M1858.5 376.6h0M1848.3 376.6h0M1859.8 376.6h0M1833.1 376.6h0M1969.1 376.6h0M1845.6 376.6h0M1852.9 376.6h0M1946.4 376.7h0M1934.9 376.7h0M1948.4 376.7h0M1939.3 376.7h0M1841.9 376.8h0M1955.3 377h0M1942.1 377h0M1959.2 377.1h0M1822.4 377.1h0M1855.5 377.1h0M1849 377.3h0M1838.2 377.4h0M1830.8 377.4h0M1859.9 377.5h0M1843.6 377.6h0M1938.1 377.6h0M1825.4 377.6h0M1944.8 377.6h0M1949 377.6h0M1860 377.7h0M1840.4 377.8h0M1946.8 377.8h0M1939.7 377.8h0M1848.9 377.9h0M1855.5 377.9h0M1852.4 377.9h0M1935.2 377.9h0M1830.3 377.9h0M1836.7 378h0M1846.2 378h0M1955.4 378.1h0M1935 378.4h0M1833.4 378.4h0M1951.4 378.5h0M1860.7 378.5h0M1859.7 378.6h0M1840.3 378.7h0M1944.2 378.7h0M1940.9 378.7h0M1847.8 378.7h0M1854.8 378.7h0M1959.3 378.8h0M1947 378.8h0M1949.7 378.8h0M1963 378.8h0M1965.6 378.9h0M1843.4 378.9h0M1850.7 378.9h0M1860.7 378.9h0M1937 379h0M1834.4 379.2h0M1967.9 379.3h0M1837.6 379.5h0M1854.9 379.6h0M1859.3 379.6h0M1944.2 379.6h0M1937.1 379.6h0M1847.7 379.7h0M1836.9 379.7h0M1845 379.8h0M1933.7 379.8h0M1842.3 379.8h0M1857.5 379.9h0M1939 379.9h0M1949.3 379.9h0M1852.1 379.9h0M1861.1 379.9h0M1834.1 379.9h0M1952.8 380h0M1957.3 380.2h0M1832.6 380.3h0M1830.9 380.4h0M1945.3 380.5h0M1940.7 380.5h0M1852.1 380.6h0M1848.7 380.7h0M1861.3 380.7h0M1933.7 380.7h0M1841.4 380.7h0M1949.3 380.7h0M1854.8 380.8h0M1859 380.8h0M1939.2 380.8h0M1944.9 380.8h0M1933 380.9h0M1957.2 380.9h0M1861.8 380.9h0M1953.3 381h0M1936.7 381h0M1843.2 381.1h0M1827.5 381.1h0M1848.9 381.3h0M1835.4 381.5h0M1839.1 381.5h0M1851.5 381.6h0M1858.7 381.6h0M1945.8 381.6h0M1959 381.6h0M1932.8 381.6h0M1949.9 381.7h0M1861.8 381.7h0M1939.4 381.8h0M1943.5 381.8h0M1854.2 381.8h0M1832.7 381.9h0M1837.8 381.9h0M1842.9 382h0M1935.3 382h0M1862.2 382h0M1847.9 382h0M1959.9 382.3h0M1955.9 382.4h0M1848.3 382.5h0M1824.3 382.5h0M1859.5 382.5h0M1843.3 382.6h0M1838.5 382.6h0M1940.6 382.6h0M1854.3 382.6h0M1950.6 382.6h0M1948.1 382.8h0M1850.7 382.8h0M1934.8 382.8h0M1837.1 382.9h0M1846 382.9h0M1856.7 382.9h0M1834.4 383h0M1842.3 383h0M1942.6 383.1h0M1861.2 383.2h0M1955.8 383.3h0M1933.3 383.4h0M1862.7 383.4h0M1937.7 383.5h0M1850.8 383.6h0M1841.3 383.7h0M1848.1 383.7h0M1857.9 383.7h0M1853 383.8h0M1944.3 383.8h0M1862.1 383.8h0M1935.8 383.8h0M1939.5 383.9h0M1844.9 384h0M1830.4 384h0M1933 384.1h0M1863.3 384.1h0M1931.7 384.2h0M1836.8 384.4h0M1863.6 384.5h0M1858.1 384.5h0M1945.1 384.5h0M1941.7 384.6h0M1844.4 384.6h0M1857 384.6h0M1931.6 384.7h0M1851 384.7h0M1862.2 384.8h0M1931 384.8h0M1848 384.8h0M1935.5 384.9h0M1839.8 384.9h0M1863.7 384.9h0M1945.7 385h0M1854.2 385h0M1938.7 385.3h0M1947 385.3h0M1953.6 385.4h0M1837.3 385.5h0M1860.7 385.5h0M1863.9 385.5h0M1930.9 385.6h0M1854 385.7h0M1844.4 385.7h0M1849.8 385.7h0M1932.8 385.7h0M1948.5 385.7h0M1857.2 385.8h0M1941.3 385.8h0M1936.1 385.9h0M1951.6 385.9h0M1834.9 385.9h0M1861.6 386h0M1841.7 386h0M1944.2 386.1h0M1864.3 386.2h0M1847.1 386.2h0M1826.9 386.6h0M1939.6 386.6h0M1861.3 386.6h0M1946.4 386.7h0M1933.9 386.7h0M1856.8 386.7h0M1850.6 386.7h0M1847 386.7h0M1937.1 386.7h0M1864.5 386.8h0M1840.9 386.8h0M1864.7 386.8h0M1853.2 386.8h0M1931.5 386.9h0M1930.2 386.9h0M1826.8 387h0M1836.5 387.1h0M1833.8 387.1h0M1947.8 387.2h0M1943.9 387.3h0M1952.4 387.3h0M1860.7 387.3h0M1854.5 387.5h0M1865.1 387.6h0M1847.5 387.6h0M1844.8 387.7h0M1930.4 387.7h0M1942.4 387.7h0M1933.1 387.8h0M1858.7 387.8h0M1836.7 387.8h0M1862.3 387.8h0M1944.8 387.8h0M1849.6 387.9h0M1938.5 387.9h0M1929.4 388h0M1833.4 388.3h0M1855 388.3h0M1839.2 388.3h0M1955.3 388.4h0M1936.7 388.5h0M1863.8 388.5h0M1942.5 388.6h0M1951.8 388.6h0M1854.1 388.6h0M1841.5 388.7h0M1930.8 388.7h0M1865.4 388.7h0M1859.7 388.8h0M1934.2 388.8h0M1846 388.8h0M1857 388.9h0M1948.2 388.9h0M1940.3 388.9h0M1851.9 388.9h0M1944.1 389.1h0M1849 389.3h0M1929 389.3h0M1865.6 389.5h0M1863 389.5h0M1844.9 389.5h0M1937.6 389.6h0M1859.1 389.7h0M1849 389.7h0M1854.1 389.7h0M1865 389.7h0M1933.3 389.9h0M1940.3 390h0M1866.3 390h0M1836.5 390.1h0M1928.3 390.1h0M1944.8 390.2h0M1843.5 390.4h0M1866.7 390.5h0M1859.8 390.5h0M1858.4 390.5h0M1951.6 390.6h0M1843 390.6h0M1934.3 390.6h0M1929.9 390.7h0M1852.5 390.7h0M1849.3 390.8h0M1855.6 390.8h0M1945.2 390.9h0M1863.6 390.9h0M1940.5 390.9h0M1866.4 391h0M1937.3 391h0M1860.4 391.1h0M1842 391.1h0M1845.5 391.2h0M1867 391.4h0M1837.9 391.4h0M1946.5 391.5h0M1954.7 391.5h0M1930.3 391.5h0M1855.5 391.6h0M1850.8 391.6h0M1958.2 391.6h0M1860 391.7h0M1853 391.7h0M1867 391.7h0M1940 391.7h0M1942.8 391.8h0M1933.6 391.8h0M1863.9 391.8h0M1840.5 391.9h0M1937.2 391.9h0M1845.7 392h0M1947.5 392.1h0M1929.4 392.2h0M1867.6 392.2h0M1928.4 392.3h0M1927.3 392.3h0M1827.2 392.5h0M1856.1 392.5h0M1867.7 392.5h0M1841.4 392.6h0M1847.7 392.6h0M1863.2 392.6h0M1930.9 392.6h0M1933.5 392.6h0M1853.9 392.7h0M1859.2 392.8h0M1928 392.8h0M1844.2 392.8h0M1937.5 392.9h0M1865.8 393h0M1927 393h0M1839.5 393h0M1940.9 393.1h0M1943.7 393.1h0M1850.5 393.2h0M1868 393.4h0M1926.8 393.5h0M1861.5 393.6h0M1857.4 393.6h0M1866 393.7h0M1939.1 393.7h0M1932.7 393.7h0M1845.8 393.7h0M1850.8 393.8h0M1944.6 393.8h0M1841 393.8h0M1868.4 393.8h0M1854.8 393.9h0M1837.4 393.9h0M1935.1 393.9h0M1929.8 394h0M1948.2 394.1h0M1941.2 394.2h0M1861.1 394.4h0M1926 394.4h0M1866.3 394.6h0M1849.6 394.6h0M1868.3 394.6h0M1856 394.7h0M1852.5 394.7h0M1937.9 394.7h0M1863.9 394.7h0M1860 394.7h0M1927.8 394.7h0M1940 394.8h0M1931.3 394.8h0M1934.2 394.9h0M1943.4 394.9h0M1925.9 395.1h0M1869 395.1h0M1945.6 395.1h0M1847.9 395.2h0M1951.9 395.3h0M1852.1 395.5h0M1860.3 395.5h0M1936.4 395.6h0M1855 395.7h0M1868.8 395.7h0M1866.1 395.7h0M1862.9 395.8h0M1845.5 395.8h0M1926.7 395.8h0M1933.1 395.8h0M1930 395.8h0M1939 395.9h0M1850.4 395.9h0M1951.3 396h0M1858.1 396h0M1925.3 396h0M1869.6 396.2h0M1941.9 396.2h0M1949.6 396.2h0M1841.2 396.3h0M1945.8 396.3h0M1869.8 396.4h0M1861.4 396.6h0M1846 396.6h0M1925.5 396.6h0M1866.9 396.7h0M1936.7 396.7h0M1869.8 396.7h0M1858 396.7h0M1854.3 396.7h0M1864.1 396.8h0M1940.9 396.8h0M1930.2 396.8h0M1924.7 396.9h0M1932.9 396.9h0M1849.7 397h0M1845.4 397.1h0M1927.7 397.5h0M1870 397.6h0M1853.3 397.6h0M1858.1 397.6h0M1935.6 397.6h0M1924.5 397.7h0M1945.3 397.7h0M1862 397.7h0M1937.1 397.7h0M1870.5 397.7h0M1867.1 397.7h0M1924.2 397.7h0M1931 397.7h0M1856.1 397.8h0M1942.5 397.9h0M1927.6 398h0M1870.7 398h0M1955.1 398.4h0M1865.9 398.5h0M1860.6 398.5h0M1871.1 398.6h0M1852.9 398.6h0M1931.6 398.6h0M1938 398.6h0M1924.7 398.6h0M1851.4 398.7h0M1924 398.7h0M1869.1 398.7h0M1927.1 398.7h0M1940.9 398.7h0M1857.1 398.7h0M1935.2 398.7h0M1863.1 398.8h0M1953.8 398.9h0M1871.3 399h0M1923.5 399.2h0M1843.7 399.3h0M1931.2 399.3h0M1867.2 399.5h0M1854.2 399.5h0M1940.9 399.5h0M1848.5 399.5h0M1858.4 399.6h0M1938.6 399.7h0M1864.1 399.7h0M1929.8 399.7h0M1926.8 399.7h0M1936.1 399.8h0M1870 399.8h0M1924 399.9h0M1933.5 399.9h0M1851.8 399.9h0M1871.6 400h0M1860.6 400h0M1922.8 400.1h0M1872 400.3h0M1856.2 400.4h0M1865.9 400.5h0M1939.7 400.5h0M1847.8 400.6h0M1922.5 400.6h0M1870 400.7h0M1926 400.7h0M1863.2 400.7h0M1859.2 400.8h0M1932.6 400.8h0M1930.3 400.8h0M1855.5 400.9h0M1938 400.9h0M1872.4 400.9h0M1866.4 400.9h0M1922.9 401.6h0M1862.2 401.6h0M1928.4 401.6h0M1869.9 401.7h0M1925.9 401.7h0M1855.9 401.7h0M1932.8 401.7h0M1922.2 401.7h0M1933.8 401.7h0M1872.6 401.7h0M1865.2 401.7h0M1938 401.7h0M1859.3 401.9h0M1947.9 402.1h0M1851.3 402.4h0M1873.1 402.5h0M1868.8 402.5h0M1921.6 402.5h0M1927.5 402.6h0M1860.7 402.6h0M1873.5 402.6h0M1939.9 402.6h0M1855.4 402.7h0M1867.1 402.7h0M1929.4 402.7h0M1871.2 402.8h0M1938.6 402.8h0M1933.3 402.8h0M1925.2 402.8h0M1921.6 402.9h0M1864 402.9h0M1936.4 402.9h0M1858.8 403h0M1873.8 403h0M1921.4 403.1h0M1920.9 403.2h0M1853 403.3h0M1874 403.5h0M1849 403.6h0M1859.7 403.6h0M1928 403.7h0M1932.6 403.7h0M1921.8 403.7h0M1872 403.7h0M1867.9 403.7h0M1852.8 403.7h0M1864.2 403.8h0M1924.3 404h0M1856.1 404h0M1920.6 404.1h0M1936.5 404.1h0M1940 404.2h0M1932.1 404.3h0M1860.2 404.3h0M1874 404.3h0M1920.2 404.5h0M1868.5 404.6h0M1923 404.7h0M1874.1 404.7h0M1927 404.7h0M1859 404.7h0M1934.8 404.7h0M1871 404.7h0M1874.7 404.8h0M1865.9 404.8h0M1853.7 404.8h0M1931.3 404.8h0M1937.7 404.8h0M1863 404.9h0M1920.2 405h0M1851.2 405.4h0M1940.5 405.4h0M1874.8 405.5h0M1844.6 405.5h0M1922.7 405.6h0M1927.3 405.6h0M1919.7 405.6h0M1861.1 405.6h0M1932.3 405.7h0M1872 405.7h0M1869.1 405.7h0M1924.9 405.7h0M1929.7 405.8h0M1866.1 405.8h0M1858.2 405.9h0M1853.7 405.9h0M1875.4 405.9h0M1919.8 406h0M1945.8 406.1h0M1919.3 406.1h0M1875.7 406.2h0M1934.2 406.4h0M1861.3 406.5h0M1875.6 406.6h0M1865.7 406.6h0M1870.9 406.7h0M1925 406.7h0M1868.2 406.7h0M1922.2 406.7h0M1858.7 406.8h0M1932.7 406.8h0M1929.2 406.8h0M1919 406.8h0M1863.2 407h0M1934.6 407h0M1855.7 407h0M1876.2 407.1h0M1849.9 407.3h0M1938.2 407.3h0M1918.5 407.4h0M1875.4 407.5h0M1918.4 407.6h0M1932.4 407.6h0M1927.4 407.6h0M1869 407.7h0M1876.5 407.7h0M1861.9 407.7h0M1864.8 407.7h0M1923.9 407.7h0M1872 407.7h0M1859.3 407.8h0M1930.3 407.9h0M1936.9 408h0M1920.4 408h0M1876.8 408h0M1918 408.3h0M1938.6 408.4h0M1876.9 408.5h0M1875.5 408.5h0M1868.6 408.6h0M1924.6 408.6h0M1859.2 408.6h0M1872.8 408.8h0M1921.9 408.8h0M1919 408.8h0M1927.3 408.8h0M1865.8 408.8h0M1877.4 408.9h0M1930.1 408.9h0M1862.6 409h0M1934.4 409h0M1855.5 409.1h0M1917.9 409.1h0M1917.3 409.2h0M1877.9 409.5h0M1871.9 409.5h0M1930.7 409.6h0M1917.3 409.6h0M1868 409.7h0M1865 409.7h0M1877.1 409.7h0M1921 409.7h0M1860.2 409.7h0M1874.2 409.7h0M1916.7 409.8h0M1923.8 409.8h0M1878.2 410.1h0M1926.8 410.2h0M1934.6 410.2h0M1917 410.5h0M1870.7 410.5h0M1930.1 410.6h0M1856.7 410.6h0M1916.2 410.6h0M1925 410.7h0M1919.9 410.7h0M1875.1 410.7h0M1864.4 410.8h0M1877.6 410.8h0M1868.7 410.8h0M1878.6 410.8h0M1932.9 410.9h0M1861.9 410.9h0M1916.3 411h0M1929.6 411.1h0M1879.1 411.3h0M1859.6 411.4h0M1921.9 411.5h0M1873 411.5h0M1866.7 411.6h0M1924.8 411.6h0M1875.9 411.7h0M1916 411.7h0M1869.9 411.7h0M1865.1 411.7h0M1879 411.7h0M1920 411.7h0M1862.2 411.9h0M1879.5 412h0M1915.3 412h0M1931.5 412h0M1879.8 412.3h0M1872.9 412.5h0M1925.1 412.5h0M1867.6 412.6h0M1928.4 412.6h0M1916.4 412.6h0M1919 412.7h0M1879.9 412.7h0M1875.1 412.7h0M1915 412.7h0M1871.1 412.8h0M1863.1 412.8h0M1922.5 412.9h0M1931.2 412.9h0M1914.4 413.2h0M1880.1 413.3h0M1880.7 413.5h0M1867.2 413.6h0M1876.6 413.6h0M1914.4 413.6h0M1925.4 413.6h0M1918 413.7h0M1872.8 413.7h0M1922.7 413.8h0M1879.2 413.8h0M1868.7 413.8h0M1927.9 414h0M1932.4 414h0M1913.8 414.1h0M1881.1 414.3h0M1866.9 414.5h0M1917.8 414.5h0M1922.5 414.5h0M1873.3 414.6h0M1928.6 414.6h0M1879.9 414.7h0M1920.1 414.7h0M1876.2 414.7h0M1915.9 414.7h0M1913.3 414.8h0M1870.9 414.9h0M1864.8 415h0M1881.6 415h0M1913 415.1h0M1926.1 415.2h0M1881.9 415.3h0M1878.5 415.5h0M1881.9 415.6h0M1876 415.7h0M1919.1 415.7h0M1873 415.7h0M1915.9 415.7h0M1921.8 415.7h0M1913.1 415.8h0M1870.6 415.8h0M1912.4 415.9h0M1924.4 416h0M1882.3 416h0M1867.1 416.2h0M1882.7 416.3h0M1912 416.4h0M1882.9 416.5h0M1879.5 416.6h0M1923.1 416.7h0M1877 416.7h0M1873.2 416.7h0M1914.8 416.7h0M1912.1 416.7h0M1918.7 416.8h0M1882.5 416.9h0M1924.9 417h0M1883.2 417.5h0M1876.5 417.5h0M1911.8 417.5h0M1883.6 417.5h0M1871.7 417.6h0M1918.7 417.6h0M1911.3 417.6h0M1915.1 417.7h0M1880.9 417.7h0M1910.9 417.9h0M1874.1 417.9h0M1869.9 418h0M1923.7 418.1h0M1884.1 418.1h0M1919 418.2h0M1911 418.3h0M1878.1 418.5h0M1910.5 418.6h0M1884.5 418.6h0M1882 418.7h0M1874 418.7h0M1921.2 418.7h0M1913.1 418.8h0M1910.2 418.9h0M1916.9 418.9h0M1877.7 418.9h0M1884.7 419h0M1923.3 419.3h0M1884.8 419.5h0M1910.1 419.5h0M1913.7 419.6h0M1877.5 419.6h0M1916.6 419.6h0M1874.2 419.7h0M1880.1 419.7h0M1883 419.8h0M1909.5 419.8h0M1920 419.9h0M1885.3 420h0M1909.3 420.1h0M1885.8 420.4h0M1908.9 420.5h0M1915.8 420.5h0M1911.5 420.6h0M1886.1 420.6h0M1874.8 420.6h0M1881 420.7h0M1884.2 420.7h0M1918.8 420.7h0M1913.7 420.8h0M1877.6 420.8h0M1908.7 420.9h0M1886.7 421.3h0M1908.2 421.3h0M1886.6 421.6h0M1914.7 421.6h0M1908.1 421.7h0M1884.1 421.7h0M1880.9 421.7h0M1887 421.7h0M1911.9 421.7h0M1907.7 421.9h0M1878.7 422h0M1875.8 422.1h0M1915.8 422.3h0M1887.6 422.4h0M1907.2 422.4h0M1907.1 422.6h0M1887.5 422.6h0M1909.5 422.6h0M1916.8 422.6h0M1885.1 422.7h0M1911.8 422.8h0M1879.2 422.8h0M1881.7 422.9h0M1906.8 423h0M1888.2 423.2h0M1912.9 423.6h0M1888.6 423.6h0M1906.3 423.6h0M1909 423.7h0M1885 423.7h0M1878.9 423.7h0M1881.8 423.8h0M1888.7 423.9h0M1912.8 424.1h0M1905.7 424.1h0M1905.4 424.5h0M1889.2 424.5h0M1884.9 424.7h0M1889.6 424.7h0M1906.9 424.7h0M1905.2 424.7h0M1910.7 424.8h0M1889.7 425h0M1882 425.1h0M1904.7 425.2h0M1889.9 425.5h0M1907.5 425.6h0M1904.4 425.6h0M1888.3 425.6h0M1886 425.7h0M1890.6 425.8h0M1910 425.9h0M1904.3 426h0M1891 426.2h0M1911.6 426.4h0M1903.5 426.5h0M1903.4 426.6h0M1885.6 426.6h0M1891.4 426.6h0M1888.9 426.7h0M1905.9 426.7h0M1891.5 426.9h0M1903 427.2h0M1892 427.2h0M1892.3 427.6h0M1888.3 427.6h0M1908.8 427.6h0M1903.2 427.6h0M1902.4 427.7h0M1905.8 427.8h0M1892.6 427.9h0M1901.9 428.2h0M1893 428.3h0M1892.5 428.5h0M1901.5 428.6h0M1889.4 428.6h0M1904 428.7h0M1901.3 428.8h0M1893.6 428.8h0M1901 429.1h0M1893.9 429.2h0M1892.6 429.6h0M1900.5 429.6h0M1894.3 429.6h0M1903.5 429.6h0M1899.9 430.1h0M1894.9 430.5h0M1900.5 430.5h0M1895.5 430.9h0M1900 431.1h0M1895.5 431.5h0M1899 431.7h0" fill="none" stroke="#000" stroke-width="7" stroke-linecap="round"/>
<circle cx="1760" cy="66" r="5" fill="#00f"/>
<text x="1779" y="75.8" font-size="31.8" font-weight="bold" fill="#00f">SRRM2 <tspan font-size="25.4" dy="-4.1">|</tspan><tspan dy="4.1"> 4</tspan></text>
<text x="17" y="554.9" font-size="31.2" font-weight="bold">e</text>
<rect x="119.9" y="729.3" width="38.9" height="222" fill="#fff" stroke="#000" stroke-width="2.4"/>
<rect x="158.8" y="710.6" width="39.6" height="240.7" fill="#fff" stroke="#000" stroke-width="2.4"/>
<rect x="198.4" y="702.2" width="39.9" height="249.1" fill="#fff" stroke="#000" stroke-width="2.4"/>
<rect x="238.2" y="682.9" width="39.2" height="268.5" fill="#fff" stroke="#000" stroke-width="2.4"/>
<rect x="277.5" y="674.8" width="39.6" height="276.5" fill="#fff" stroke="#000" stroke-width="2.4"/>
<rect x="317" y="676.6" width="39.6" height="274.7" fill="#fff" stroke="#000" stroke-width="2.4"/>
<rect x="356.6" y="679.8" width="39.6" height="271.6" fill="#fff" stroke="#000" stroke-width="2.4"/>
<rect x="396.1" y="690.7" width="39.2" height="260.7" fill="#fff" stroke="#000" stroke-width="2.4"/>
<rect x="435.4" y="688.5" width="39.6" height="262.8" fill="#fff" stroke="#000" stroke-width="2.4"/>
<rect x="474.9" y="684.4" width="39.9" height="266.9" fill="#fff" stroke="#000" stroke-width="2.4"/>
<line x1="119.9" y1="561.1" x2="119.9" y2="952.3" stroke="#000" stroke-width="2.5"/>
<text x="112.2" y="570.6" font-size="31.8" font-weight="bold" text-anchor="end">15</text>
<text x="112.2" y="700.5" font-size="31.8" font-weight="bold" text-anchor="end">10</text>
<text x="109.6" y="830.2" font-size="31.8" font-weight="bold" text-anchor="end">5</text>
<text x="109.6" y="955.7" font-size="31.8" font-weight="bold" text-anchor="end">0</text>
<text x="121.5" y="984.8" font-size="31.8" font-weight="bold" text-anchor="middle">0.0</text>
<text x="200.9" y="984.8" font-size="31.8" font-weight="bold" text-anchor="middle">0.2</text>
<text x="279.4" y="984.8" font-size="31.8" font-weight="bold" text-anchor="middle">0.4</text>
<text x="358.1" y="984.8" font-size="31.8" font-weight="bold" text-anchor="middle">0.6</text>
<text x="436.9" y="984.8" font-size="31.8" font-weight="bold" text-anchor="middle">0.8</text>
<text x="515.4" y="984.8" font-size="31.8" font-weight="bold" text-anchor="middle">1.0</text>
<text x="304.7" y="1016.7" font-size="31.8" font-weight="bold" text-anchor="middle">Schumacher P value</text>
<text transform="translate(70.3 742) rotate(-90)" font-size="31.8" font-weight="bold" text-anchor="middle">Percent</text>
<line x1="622.5" y1="563.6" x2="622.5" y2="951.7" stroke="#000" stroke-width="2.5"/>
<line x1="621.5" y1="950.7" x2="1007.1" y2="950.7" stroke="#000" stroke-width="2.5"/>
<text x="607" y="597.4" font-size="31.8" font-weight="bold" text-anchor="end">6</text>
<text x="607" y="715.9" font-size="31.8" font-weight="bold" text-anchor="end">4</text>
<text x="607" y="835.7" font-size="31.8" font-weight="bold" text-anchor="end">2</text>
<text x="607" y="957.2" font-size="31.8" font-weight="bold" text-anchor="end">0</text>
<text x="635.9" y="977.8" font-size="31.8" font-weight="bold" text-anchor="middle">-1.0</text>
<text x="729.3" y="977.8" font-size="31.8" font-weight="bold" text-anchor="middle">-0.5</text>
<text x="815" y="977.8" font-size="31.8" font-weight="bold" text-anchor="middle">0.0</text>
<text x="912.1" y="977.8" font-size="31.8" font-weight="bold" text-anchor="middle">0.5</text>
<text x="1008" y="977.8" font-size="31.8" font-weight="bold" text-anchor="middle">1.0</text>
<text x="825" y="1012" font-size="31.8" font-weight="bold" text-anchor="middle"><tspan font-family="'Liberation Serif','DejaVu Serif',serif" font-weight="normal">Δ</tspan>Schumacher PRS</text>
<text transform="translate(569.4 767.6) rotate(-90)" font-size="31.8" font-weight="bold" text-anchor="middle"><tspan font-size="23">–</tspan>log<tspan font-size="20" font-weight="normal" dy="5.5">10</tspan><tspan dy="-5.5"> P value</tspan></text>
<path d="M725.9 715.7h0M734 720.4h0M733 731.4h0M726.9 737.3h0M743.6 757h0M746.7 762.8h0M734 766.1h0M744.5 775.1h0M712.6 777.9h0M714.8 779.7h0M739.7 781.1h0M745.5 782.6h0M749.1 783.7h0M752.7 785.2h0M722.4 788.3h0M720.6 792.7h0M725.3 793.8h0M735.4 789.5h0M733 795.2h0M724.6 798.1h0M741.9 792.7h0M746.9 792.4h0M752 797.4h0M761.7 806.3h0M744.1 804.6h0M733 809.2h0M726.8 815.4h0M740.5 814h0M728.2 819.8h0M732.5 822.6h0M733.3 825.5h0M726.3 830.6h0M735.4 833.5h0M725.3 843.1h0M733.3 842.8h0M719.6 857h0M724.6 867.6h0M728.9 867.6h0M731.4 880h0M736.9 887.5h0M740.5 876.7h0M738.3 891.1h0M743.3 902.4h0M744.8 892.6h0M903.4 758.8h0M891.6 779.4h0M880.3 786.3h0M878.9 796.3h0M892.6 796h0M888.2 803.5h0M875.3 809.2h0M880.7 820.9h0M907 825.5h0M883.2 827h0M884.6 833.5h0M899.3 834.2h0M904.8 843.1h0M901.2 846.4h0M905.5 851.5h0M909.1 856.8h0M899.8 855.1h0M894.7 858h0M891.1 859.4h0M896.2 865.9h0M892.6 870.2h0M899.8 871.4h0M893.3 881.5h0M732.1 807.9h0M713.8 809.4h0M746.2 810.2h0M748.7 812.3h0M738.7 813.6h0M738.2 814.7h0M754.6 814.9h0M750.4 815.1h0M743.4 815.9h0M739 816h0M736.1 818h0M740.2 819.2h0M755.4 820h0M756.9 820.3h0M738.8 821.1h0M753.5 821.1h0M757.7 821.2h0M724.1 822h0M744.6 822.5h0M722.9 822.7h0M749.4 823.2h0M755 823.4h0M738.8 823.8h0M750.8 824.3h0M756.6 824.3h0M744 824.4h0M737.2 824.9h0M755.1 825.1h0M756.7 825.1h0M720.5 825.5h0M756.6 825.6h0M759.4 825.7h0M737 826.7h0M711.5 827.2h0M752.3 827.4h0M715.5 827.6h0M755.7 828.2h0M757.1 828.3h0M759.4 828.4h0M752.7 828.5h0M752 828.6h0M734.7 828.6h0M733.5 828.8h0M742.8 828.9h0M750.7 829.3h0M756.7 829.3h0M743.3 829.4h0M747.1 830h0M760.1 830.1h0M760.9 830.3h0M756.2 830.4h0M725.4 830.4h0M738.8 830.7h0M754.2 830.9h0M758.9 831.5h0M749.6 831.7h0M745 831.8h0M755 831.9h0M742.4 832.9h0M758.2 833h0M748.2 833.4h0M755.4 833.6h0M745.2 833.6h0M750.1 833.7h0M739.2 834.5h0M746.4 834.9h0M742.4 835.4h0M762.6 835.5h0M747.5 835.6h0M733 835.9h0M749.2 836h0M759.5 836.1h0M741.4 836.1h0M761.4 836.6h0M746.4 836.6h0M734.8 836.9h0M756 837.1h0M743.9 837.1h0M732.1 837.2h0M752.3 837.6h0M761.1 837.6h0M740 837.7h0M749.8 838h0M754.8 838h0M757.6 838.1h0M736.2 838.1h0M886 838.2h0M729.9 838.3h0M889.9 838.7h0M760.3 838.8h0M740.4 838.8h0M873.4 839h0M753 839.4h0M741.7 839.5h0M754.6 839.6h0M868.5 839.7h0M761.6 839.9h0M757.9 840h0M874.4 840.1h0M762.3 840.1h0M886.7 840.2h0M880.5 840.2h0M739.2 840.4h0M764.1 841h0M737.1 841.1h0M744.2 841.3h0M755.6 841.4h0M750.2 841.5h0M748.6 841.6h0M728.6 841.7h0M754.8 841.8h0M760 841.8h0M740.4 841.8h0M871.4 841.8h0M752.6 842h0M764.1 842.1h0M764.4 842.6h0M900 842.7h0M870.9 842.7h0M760.5 842.9h0M764.6 842.9h0M734.4 843h0M746.6 843.1h0M756.9 843.1h0M752.1 843.3h0M886.8 843.4h0M763.5 843.8h0M760.5 843.9h0M754.3 843.9h0M728.1 844.1h0M765.9 844.2h0M744.6 844.3h0M878.7 844.3h0M872.3 844.4h0M738.9 844.4h0M757.5 844.5h0M867.7 844.5h0M894 844.6h0M756.8 844.9h0M745.2 845h0M763.3 845h0M749.8 845.2h0M874.3 845.3h0M766 845.4h0M757.9 845.6h0M889 845.6h0M756.1 845.6h0M747.7 845.7h0M869.4 845.7h0M751.6 845.7h0M881.3 845.8h0M759 845.9h0M888 845.9h0M763.8 845.9h0M766 846.1h0M756.2 846.5h0M878.6 846.5h0M763.1 846.8h0M747.3 846.9h0M750 847h0M890.5 847h0M755 847.1h0M765.3 847.2h0M879.2 847.2h0M763.5 847.5h0M756.4 847.6h0M752.7 847.7h0M760.8 847.8h0M746.4 847.8h0M750.1 848h0M865.8 848.2h0M731.1 848.2h0M877.4 848.2h0M871.4 848.2h0M865.3 848.4h0M882.7 848.4h0M745.3 848.6h0M752.8 848.6h0M865.9 848.7h0M761.3 848.7h0M760.1 848.9h0M766.7 848.9h0M748.5 849h0M757.9 849.1h0M864.2 849.1h0M895.8 849.2h0M763.7 849.4h0M754.4 849.4h0M764 849.7h0M871.4 849.7h0M884.2 849.7h0M876.6 849.8h0M864.4 849.8h0M749.6 850h0M874.1 850h0M760.9 850h0M743.6 850.1h0M752.2 850.3h0M865.7 850.4h0M765.8 850.8h0M747.6 850.9h0M889.6 851h0M863.6 851.1h0M876 851.2h0M895.3 851.3h0M766.8 851.3h0M752.3 851.3h0M738.4 851.3h0M754 851.4h0M758.5 851.6h0M863 851.6h0M764 851.6h0M875.6 851.8h0M755 851.9h0M871.5 851.9h0M749.8 852.3h0M862.9 852.3h0M742.6 852.3h0M745.6 852.5h0M891.1 852.6h0M742.4 852.7h0M766.5 852.7h0M866.5 852.7h0M764 852.8h0M759.1 852.9h0M755.1 852.9h0M873.7 853h0M750.3 853.2h0M732.9 853.2h0M767.6 853.6h0M736.8 853.6h0M877 853.7h0M741.1 853.7h0M722.6 853.8h0M865.8 854h0M762.1 854h0M882.4 854.1h0M757.4 854.1h0M753 854.3h0M870.1 854.3h0M741.2 854.4h0M745.3 854.4h0M766.9 854.4h0M865 854.5h0M768.3 854.5h0M872.6 854.8h0M759.1 854.8h0M764.9 854.8h0M747.8 854.9h0M754.1 855h0M882 855.2h0M763.1 855.3h0M739.9 855.3h0M735.9 855.5h0M754.8 855.5h0M867.2 855.6h0M868 855.8h0M873.7 855.8h0M758.4 855.8h0M745 855.9h0M768.4 855.9h0M764.2 855.9h0M754.1 856h0M752.9 856.1h0M875.1 856.2h0M759.8 856.3h0M727.3 856.6h0M769.2 856.8h0M745.7 856.8h0M747.8 856.8h0M753.3 856.9h0M873.2 857h0M764.5 857h0M757.6 857.1h0M863.3 857.2h0M867.5 857.2h0M751.8 857.6h0M754.5 857.6h0M770.3 857.8h0M759 857.9h0M736.4 858h0M749.5 858h0M760.2 858.2h0M763.7 858.2h0M875 858.2h0M770.8 858.3h0M865.8 858.4h0M861.5 858.5h0M878.7 858.5h0M868.5 858.5h0M759.5 858.6h0M742.1 858.6h0M767 858.7h0M754.1 858.7h0M756.4 859h0M747.9 859h0M873.7 859h0M769.8 859.1h0M761.7 859.1h0M771 859.2h0M729.2 859.5h0M751.9 859.5h0M763.8 859.6h0M863.7 859.7h0M743 859.7h0M861 859.9h0M868.2 860h0M760.7 860h0M767 860.1h0M769.5 860.1h0M757.6 860.2h0M876.3 860.7h0M863.6 860.7h0M745.6 860.9h0M767.6 860.9h0M771.6 860.9h0M759.5 861h0M861.7 861h0M859.5 861h0M876.9 861h0M761 861.1h0M758 861.2h0M749.5 861.4h0M752.9 861.4h0M869.7 861.5h0M764.7 861.5h0M767 861.7h0M859 861.8h0M757.6 861.9h0M747.4 862h0M744.4 862h0M864.4 862.1h0M769.5 862.1h0M772.5 862.1h0M874 862.2h0M858.9 862.3h0M763.5 862.3h0M756.3 862.5h0M770.1 862.8h0M762.7 863h0M757.5 863h0M766.7 863.1h0M867.6 863.2h0M873.6 863.3h0M772 863.3h0M745.2 863.5h0M860.9 863.6h0M757.6 863.7h0M872.1 863.7h0M762 864.1h0M773 864.1h0M745.6 864.1h0M866 864.2h0M754.9 864.3h0M767.1 864.3h0M773.2 864.4h0M762 864.5h0M750.5 864.6h0M770.4 864.6h0M764.9 864.9h0M757.4 865h0M761.8 865.1h0M773.2 865.1h0M880 865.3h0M857.8 865.4h0M755 865.4h0M870 865.4h0M742.6 865.5h0M863.7 865.5h0M764.9 865.7h0M772.2 865.7h0M756.3 865.9h0M773.5 866h0M876.1 866h0M774 866.1h0M864.6 866.1h0M862.7 866.2h0M770.1 866.2h0M735 866.2h0M748.4 866.3h0M867.1 866.4h0M764 866.4h0M871.2 866.5h0M749.9 866.5h0M758.3 866.6h0M765.7 866.6h0M753 866.6h0M742 866.7h0M767.6 866.8h0M864.6 867h0M857.3 867h0M748 867h0M867.7 867h0M770.5 867h0M755 867.1h0M762.8 867.4h0M774.1 867.4h0M861.8 867.6h0M772.1 867.7h0M755 867.8h0M767.3 867.8h0M757.6 868h0M751.2 868.3h0M868.1 868.3h0M762.6 868.3h0M769.2 868.5h0M765.9 868.6h0M864.5 868.7h0M857.4 868.7h0M747.8 868.7h0M763 868.7h0M760.1 868.8h0M886.7 868.8h0M859.6 868.8h0M746.4 869h0M865.9 869.2h0M772.4 869.3h0M753.4 869.3h0M769 869.5h0M856.2 869.5h0M752 869.5h0M863.5 869.5h0M760.1 869.7h0M870.4 869.7h0M766.9 869.7h0M754.1 869.7h0M748.7 869.8h0M866.1 869.9h0M772.5 869.9h0M764.2 870h0M858.9 870h0M744.1 870h0M862.2 870.1h0M774.2 870.3h0M856.5 870.4h0M775 870.5h0M756.2 870.6h0M771.4 870.6h0M762.4 870.7h0M774.7 870.8h0M857.4 870.8h0M759.5 870.9h0M753.6 870.9h0M737.3 871h0M775.9 871.2h0M764.9 871.4h0M855.8 871.5h0M770.6 871.5h0M857.4 871.6h0M751.8 871.7h0M861 871.7h0M774.9 871.7h0M768.3 871.8h0M865.3 871.9h0M744.5 871.9h0M867.8 872h0M879.8 872.1h0M869 872.1h0M771.1 872.1h0M870.3 872.2h0M765.7 872.4h0M761.8 872.6h0M863.6 872.6h0M774.7 872.7h0M856.3 872.7h0M770.1 872.8h0M765.9 872.8h0M755.3 872.8h0M857.5 872.8h0M752.9 873.2h0M760.3 873.2h0M776.6 873.3h0M860.8 873.4h0M755.9 873.6h0M766.5 873.6h0M763.1 873.6h0M856.9 873.6h0M774 873.6h0M752.6 873.8h0M771.2 873.9h0M854.6 873.9h0M756.7 873.9h0M775.7 874.1h0M858.5 874.1h0M866.6 874.1h0M863.1 874.1h0M776.7 874.4h0M870.5 874.6h0M762.1 874.7h0M768.8 874.7h0M756.1 874.8h0M862.6 874.8h0M854.6 874.8h0M777 874.9h0M745.9 874.9h0M859.1 874.9h0M759.1 875h0M772.8 875.1h0M765 875.3h0M753.8 875.4h0M776.9 875.4h0M867.4 875.4h0M862.7 875.7h0M759 875.7h0M854.8 875.7h0M869.7 875.7h0M743.1 875.8h0M776.3 875.8h0M753.8 875.8h0M872.2 875.8h0M858.6 875.9h0M750.9 876h0M769.8 876h0M866.7 876h0M763.1 876h0M853.5 876h0M766.7 876.2h0M777.6 876.5h0M770.6 876.5h0M862.5 876.6h0M759.2 876.6h0M773.4 876.7h0M871.7 876.7h0M868.9 876.8h0M853.3 876.8h0M766.7 876.8h0M859.7 877h0M855.9 877h0M761.7 877.1h0M775.1 877.1h0M777.7 877.3h0M865.4 877.4h0M754.1 877.4h0M751.4 877.5h0M766.2 877.5h0M757.7 877.6h0M853.5 877.6h0M769.1 877.6h0M773 877.7h0M775.9 877.8h0M872.5 877.8h0M742.8 877.9h0M765.5 878h0M857.4 878.1h0M777.1 878.2h0M872.6 878.4h0M749.3 878.4h0M778.7 878.5h0M852.7 878.6h0M859.9 878.6h0M756.6 878.7h0M869.1 878.7h0M762.9 878.7h0M770.2 878.8h0M760.6 878.8h0M777.2 878.8h0M857.4 878.9h0M774.2 879h0M865.9 879.1h0M862.9 879.1h0M766.8 879.1h0M749.5 879.4h0M853 879.4h0M852.3 879.5h0M771.4 879.6h0M775 879.7h0M778.2 879.7h0M852.1 879.7h0M755.6 879.8h0M765.1 879.8h0M769.4 879.9h0M854.9 880.2h0M869.1 880.3h0M763 880.3h0M757.5 880.4h0M749.7 880.4h0M778.4 880.5h0M856.5 880.6h0M859.5 880.6h0M772.3 880.6h0M766.1 880.7h0M862.7 880.7h0M760.5 880.8h0M853 880.8h0M770.1 880.9h0M779.5 881h0M775.5 881h0M757.7 881.1h0M852.3 881.1h0M752.4 881.2h0M780 881.2h0M864.8 881.2h0M762.1 881.3h0M868 881.5h0M768.7 881.6h0M857 881.6h0M776.9 881.7h0M757.8 881.8h0M863.5 881.8h0M860.8 881.8h0M764.9 882h0M853.3 882h0M773 882h0M851.4 882h0M779.2 882.2h0M780 882.3h0M768.9 882.4h0M774.3 882.6h0M761.7 882.6h0M859.4 882.7h0M779.9 882.8h0M765.3 882.8h0M852.4 882.8h0M749.5 882.8h0M862.4 882.8h0M769.9 882.8h0M866.7 882.9h0M777.2 883h0M756.5 883h0M858.3 883h0M854.3 883.1h0M871.3 883.3h0M850.6 883.3h0M872.7 883.4h0M774.1 883.5h0M768.8 883.5h0M763.6 883.6h0M777 883.7h0M767 883.9h0M752.7 883.9h0M855.9 883.9h0M773.5 883.9h0M851.6 883.9h0M780.3 883.9h0M868.8 884.1h0M761.4 884.1h0M861.4 884.1h0M755.6 884.2h0M873.5 884.3h0M865.5 884.5h0M772 884.5h0M765.4 884.6h0M855.1 884.7h0M860.3 884.7h0M781.2 884.7h0M851.4 884.8h0M762.5 884.9h0M772.5 884.9h0M753.8 885h0M776.8 885h0M769.1 885.1h0M858.9 885.1h0M758.7 885.1h0M850.1 885.1h0M865.9 885.4h0M875.2 885.5h0M768.8 885.6h0M851.7 885.6h0M850.1 885.7h0M780.9 885.7h0M875.1 885.7h0M864.8 885.7h0M778 885.8h0M774.8 885.8h0M772 885.9h0M781.9 886h0M857.1 886.1h0M853.7 886.1h0M861.9 886.2h0M762.3 886.4h0M765.8 886.5h0M850.1 886.6h0M868.7 886.7h0M781.5 886.7h0M766.9 886.7h0M754 886.7h0M779.2 886.7h0M761.9 886.8h0M775.6 886.8h0M771 886.8h0M853.5 886.9h0M857 886.9h0M756.6 886.9h0M849.1 887.1h0M862.9 887.1h0M782.2 887.3h0M765.4 887.6h0M774.5 887.6h0M849.1 887.6h0M757.4 887.7h0M758.9 887.7h0M782 887.7h0M769.9 887.7h0M777.3 887.8h0M857.1 887.8h0M853.3 887.8h0M867.6 888.1h0M862.8 888.1h0M753.2 888.2h0M761 888.2h0M782.9 888.3h0M781.3 888.5h0M771.5 888.6h0M851 888.7h0M854.3 888.7h0M756.3 888.8h0M776.1 888.8h0M765.1 888.8h0M769 888.8h0M856.7 888.9h0M783.1 888.9h0M848.6 889h0M869.9 889h0M760 889.1h0M779.6 889.1h0M864.8 889.4h0M774 889.5h0M783.4 889.6h0M767.4 889.6h0M857.8 889.6h0M860.4 889.6h0M761.8 889.7h0M853 889.7h0M781.2 889.7h0M847.8 889.8h0M775.9 889.8h0M770.1 889.9h0M757.9 890.1h0M755 890.3h0M864.6 890.4h0M856.8 890.4h0M777.6 890.5h0M859.5 890.5h0M774.1 890.6h0M765.6 890.6h0M849.4 890.6h0M856.9 890.7h0M776 890.7h0M780.9 890.8h0M783.6 890.8h0M866 890.8h0M771.7 890.8h0M862.4 891h0M851.7 891.1h0M762.6 891.1h0M768.2 891.2h0M761 891.5h0M779.5 891.5h0M784 891.6h0M848.6 891.6h0M847.5 891.6h0M854.3 891.6h0M775.9 891.7h0M782.3 891.8h0M770.3 891.8h0M773.5 891.9h0M863.1 892h0M850.7 892.1h0M766.7 892.1h0M860.9 892.2h0M857.5 892.2h0M784.2 892.2h0M846.7 892.4h0M754.5 892.4h0M867.4 892.5h0M763.8 892.6h0M778.5 892.6h0M854.5 892.6h0M784.1 892.7h0M784.7 892.7h0M768.1 892.8h0M773.4 892.8h0M775.8 892.9h0M850.4 893h0M781.1 893h0M857.3 893.1h0M753.3 893.1h0M861.3 893.2h0M847 893.4h0M756.4 893.4h0M764 893.5h0M784.6 893.5h0M866.9 893.5h0M768.5 893.6h0M774.9 893.7h0M851.1 893.7h0M777.9 893.7h0M848.8 893.7h0M770.1 893.8h0M854.8 893.8h0M761.1 893.8h0M781 893.8h0M857.6 893.9h0M784.7 893.9h0M860.6 894h0M870.6 894h0M846.5 894h0M846.2 894.1h0M764.3 894.1h0M785.5 894.2h0M773.9 894.5h0M864.9 894.5h0M853.5 894.6h0M781.5 894.6h0M757.9 894.6h0M855.9 894.7h0M779.2 894.7h0M764.6 894.7h0M846.6 894.7h0M849 894.7h0M866.4 894.8h0M783.9 894.8h0M769.1 894.8h0M862.6 894.8h0M776.4 894.9h0M860.4 894.9h0M785.1 895.1h0M874 895.2h0M772.7 895.2h0M759 895.3h0M785.8 895.5h0M851.1 895.6h0M765.6 895.6h0M757.8 895.6h0M849 895.7h0M774.9 895.7h0M845.2 895.8h0M855.2 895.8h0M781.4 895.9h0M862.3 895.9h0M856.5 896h0M772.2 896h0M778.2 896h0M786.1 896.1h0M771.1 896.5h0M845.1 896.5h0M851.6 896.5h0M786 896.7h0M768 896.7h0M776 896.7h0M780.2 896.7h0M783.1 896.8h0M764.8 896.8h0M853.5 896.9h0M860.9 896.9h0M845.6 896.9h0M848.4 897h0M858.8 897.2h0M844.5 897.3h0M773.5 897.3h0M786.1 897.5h0M861.8 897.5h0M780.4 897.6h0M855.1 897.6h0M849.9 897.6h0M787 897.7h0M765.9 897.7h0M762.1 897.7h0M844.2 897.7h0M771 897.8h0M860.2 897.9h0M784.3 897.9h0M777.2 897.9h0M853 898h0M773.5 898.1h0M847.3 898.3h0M779.7 898.5h0M786.8 898.6h0M764.5 898.6h0M851.3 898.7h0M863.3 898.7h0M844.9 898.7h0M782.2 898.8h0M856.4 898.8h0M773.8 898.8h0M848.6 898.9h0M777 898.9h0M859.8 899h0M843.8 899h0M770.2 899h0M787.5 899h0M787.8 899.4h0M767.9 899.4h0M846.5 899.5h0M859.8 899.6h0M778.3 899.6h0M784.4 899.6h0M773.5 899.6h0M787 899.7h0M771 899.7h0M852.2 899.7h0M781.2 899.7h0M849.6 899.8h0M775.6 899.8h0M844.1 900h0M768.1 900h0M855.2 900.1h0M843.5 900.1h0M861.9 900.3h0M787.7 900.5h0M782.5 900.6h0M773.1 900.7h0M787.1 900.7h0M846.8 900.7h0M843 900.7h0M868.5 900.7h0M858.5 900.7h0M768.3 900.8h0M854 900.8h0M767.6 900.9h0M775.8 900.9h0M779.3 900.9h0M848.6 900.9h0M788.4 900.9h0M753.1 901.2h0M782.9 901.3h0M860.9 901.6h0M842.8 901.6h0M842.5 901.7h0M772 901.7h0M855.4 901.7h0M775.9 901.7h0M854 901.7h0M780 901.8h0M787.7 901.8h0M763.1 901.8h0M847.8 901.8h0M783.3 901.8h0M789 901.8h0M845.6 902h0M852.5 902.1h0M858.1 902.2h0M768.9 902.2h0M786.7 902.5h0M789.2 902.6h0M842.7 902.6h0M777.8 902.6h0M842.2 902.7h0M845.9 902.7h0M853.8 902.8h0M783.3 902.8h0M850 902.8h0M780.1 902.9h0M773 902.9h0M786.7 903h0M768.4 903h0M841.8 903.1h0M789.3 903.2h0M857.2 903.3h0M789.8 903.5h0M849.4 903.6h0M845.5 903.6h0M852.7 903.6h0M789 903.7h0M777.1 903.7h0M843.3 903.7h0M855.1 903.8h0M780.6 903.8h0M773 903.9h0M784.3 903.9h0M841.5 904.1h0M841.2 904.2h0M789.7 904.4h0M777.1 904.5h0M787 904.5h0M847.7 904.6h0M843 904.7h0M846 904.7h0M769.4 904.7h0M850.8 904.7h0M783.2 904.7h0M779.1 904.7h0M860.3 904.7h0M788.8 904.8h0M772.7 904.8h0M775.8 904.9h0M790.5 904.9h0M853.7 904.9h0M857.3 905h0M841.7 905.1h0M841 905.5h0M784 905.5h0M848.8 905.6h0M772 905.7h0M781.9 905.7h0M790.6 905.7h0M787.1 905.8h0M842.9 905.8h0M852.4 905.8h0M775.3 905.9h0M778.3 906h0M846.9 906.1h0M855.5 906.1h0M840.8 906.1h0M770.3 906.2h0M790.7 906.2h0M860.4 906.4h0M840.4 906.5h0M784.5 906.6h0M790.9 906.7h0M848.5 906.7h0M845 906.7h0M857.1 906.7h0M788 906.8h0M779.2 906.8h0M841.9 906.8h0M775.3 906.8h0M782.5 906.9h0M839.9 907h0M851.8 907.1h0M767.6 907.2h0M791.2 907.2h0M791.6 907.5h0M787.4 907.6h0M853.1 907.6h0M848.3 907.6h0M774.2 907.6h0M839.9 907.7h0M782.9 907.7h0M790.8 907.7h0M844.2 907.8h0M850.8 907.8h0M780.3 907.9h0M855.9 908h0M774.9 908.1h0M772.1 908.1h0M792 908.2h0M787.2 908.4h0M839.8 908.4h0M839.1 908.5h0M845.1 908.5h0M777.7 908.5h0M858.8 908.6h0M792.2 908.7h0M840.1 908.7h0M780 908.7h0M785.9 908.8h0M852.6 908.8h0M849.4 908.8h0M790.1 908.8h0M775.2 908.8h0M783.7 908.9h0M843.7 908.9h0M792.5 908.9h0M854.4 909.1h0M846 909.5h0M792.6 909.6h0M785.6 909.6h0M777.6 909.6h0M840.2 909.6h0M789.1 909.7h0M850.6 909.7h0M838.7 909.8h0M782.6 909.8h0M844 909.9h0M838.4 910h0M779.7 910h0M847.7 910h0M793.1 910.1h0M854.1 910.1h0M838.3 910.5h0M791.5 910.6h0M786.4 910.6h0M850.6 910.6h0M840.7 910.6h0M847 910.7h0M838.1 910.7h0M853 910.8h0M783.8 910.8h0M844.3 910.9h0M775.9 910.9h0M779 910.9h0M788.8 911h0M775.3 911.1h0M793.2 911.2h0M856.4 911.5h0M838 911.5h0M780.6 911.5h0M842.5 911.6h0M793.7 911.6h0M775.9 911.7h0M844.9 911.7h0M788.1 911.7h0M783 911.7h0M791.2 911.8h0M840.3 911.8h0M848.5 911.8h0M837.3 912h0M794.1 912.2h0M850.8 912.2h0M779.4 912.5h0M786.1 912.5h0M789 912.7h0M780 912.7h0M792.1 912.7h0M841.8 912.7h0M837.3 912.7h0M777.2 912.9h0M847 912.9h0M850.4 912.9h0M784 912.9h0M852.4 912.9h0M775.1 913h0M794.5 913h0M766.6 913h0M837.2 913h0M845 913.5h0M836.8 913.5h0M838.4 913.6h0M788.7 913.6h0M783.3 913.6h0M794.4 913.6h0M841.9 913.7h0M791.1 913.7h0M847.1 913.7h0M836.4 913.9h0M795 913.9h0M786.1 914h0M779.5 914h0M853.3 914.2h0M795 914.3h0M849.7 914.3h0M837.7 914.6h0M783.2 914.6h0M836.3 914.6h0M842.9 914.6h0M789 914.7h0M793.9 914.7h0M786 914.8h0M845.1 914.8h0M839.7 914.8h0M795.4 914.9h0M777.8 914.9h0M847.1 915.1h0M780.3 915.1h0M835.8 915.2h0M795.8 915.3h0M793 915.5h0M835.5 915.6h0M848.8 915.7h0M842.9 915.7h0M785.1 915.7h0M788.1 915.7h0M839 915.7h0M796 915.8h0M791 915.8h0M846.5 915.9h0M782.8 916h0M835.3 916.1h0M849.8 916.2h0M795.9 916.4h0M841.4 916.6h0M835.1 916.6h0M796.1 916.7h0M789.9 916.7h0M792.8 916.7h0M835 916.8h0M779 916.8h0M843.8 916.8h0M838.7 916.8h0M786.2 916.8h0M847.1 917h0M796.6 917h0M782.4 917h0M796.8 917.5h0M789.7 917.6h0M838.7 917.6h0M835.1 917.6h0M793.1 917.7h0M786.9 917.7h0M834.3 917.7h0M842.8 917.8h0M782.6 917.9h0M796.8 917.9h0M846.8 917.9h0M780.3 918.1h0M839 918.1h0M848.5 918.2h0M797.3 918.2h0M849.3 918.3h0M834.2 918.5h0M850 918.5h0M793.5 918.5h0M791.7 918.6h0M844.8 918.6h0M834.1 918.7h0M837.1 918.7h0M785.4 918.7h0M788.9 918.7h0M839.9 918.8h0M782.1 918.8h0M796.2 918.8h0M779.8 918.9h0M797.5 918.9h0M833.6 919h0M797.7 919.1h0M843.7 919.4h0M789.4 919.6h0M833.5 919.6h0M784.6 919.7h0M845 919.7h0M797.4 919.7h0M839 919.7h0M794.9 919.7h0M835.9 919.7h0M792.2 919.7h0M833.2 919.9h0M841.6 920h0M787.2 920h0M798.2 920h0M782.8 920.3h0M833.1 920.5h0M847 920.6h0M836 920.7h0M796 920.7h0M789.9 920.7h0M839 920.7h0M792.7 920.8h0M782.1 920.8h0M787 920.8h0M843.4 920.8h0M798.7 921h0M832.5 921h0M846.6 921.5h0M832.5 921.6h0M839.1 921.6h0M798.8 921.7h0M837 921.7h0M793 921.7h0M790 921.7h0M795.8 921.8h0M842.4 921.8h0M832.1 921.8h0M844.7 921.9h0M799.3 922h0M786 922h0M831.8 922.3h0M799.7 922.5h0M834.6 922.6h0M790.2 922.6h0M838 922.7h0M797.9 922.7h0M793 922.7h0M832 922.7h0M844.9 922.8h0M799.9 922.8h0M841.3 922.9h0M786.6 923h0M831.3 923.1h0M794 923.5h0M800.1 923.5h0M831.4 923.6h0M838.5 923.6h0M789.6 923.6h0M798 923.7h0M791.8 923.7h0M833.8 923.7h0M784.7 923.7h0M840.8 923.8h0M800.6 923.9h0M830.8 924h0M843.7 924.2h0M837.1 924.5h0M796.3 924.5h0M800.9 924.6h0M832 924.7h0M799 924.7h0M789 924.7h0M830.5 924.7h0M835.2 924.7h0M785.8 924.8h0M791.8 924.8h0M839.4 924.8h0M830.2 925h0M795.6 925h0M843.4 925.1h0M801.3 925.1h0M801.5 925.6h0M839.2 925.6h0M830.4 925.6h0M796 925.7h0M836 925.7h0M833 925.7h0M841.7 925.8h0M786.6 925.8h0M799.1 925.8h0M801.6 925.8h0M791.6 925.9h0M829.8 926h0M829.4 926.5h0M801.8 926.5h0M829.4 926.6h0M793.6 926.6h0M836.9 926.7h0M833 926.7h0M790.7 926.7h0M795.9 926.7h0M799.9 926.7h0M802.2 927h0M829.1 927.1h0M839 927.4h0M829 927.5h0M802.6 927.5h0M795.6 927.6h0M836.5 927.6h0M801 927.7h0M832.1 927.7h0M793.8 927.7h0M797.8 927.7h0M828.7 927.8h0M840 927.9h0M791.9 928.2h0M835.9 928.3h0M802.9 928.3h0M828.2 928.4h0M799.9 928.7h0M828.2 928.7h0M830.9 928.7h0M834.1 928.7h0M802.8 928.7h0M795.1 928.7h0M839.1 928.7h0M803.5 928.9h0M827.8 929.1h0M791.4 929.1h0M837.2 929.5h0M799.2 929.5h0M803.8 929.5h0M827.5 929.6h0M832 929.7h0M804 929.7h0M801 929.7h0M797 929.8h0M834.8 929.8h0M827.3 929.8h0M827.1 930.3h0M803.9 930.5h0M794.7 930.5h0M829.5 930.6h0M802.2 930.7h0M832.9 930.7h0M827.3 930.8h0M797.1 930.8h0M804.6 930.8h0M835.4 930.9h0M826.7 931h0M805 931.3h0M826.4 931.5h0M798.6 931.5h0M828.6 931.6h0M802.1 931.7h0M795.3 931.7h0M834.2 931.7h0M805.2 931.7h0M830.9 931.8h0M826.3 931.8h0M795.3 932h0M825.9 932.1h0M805.6 932.3h0M798.9 932.5h0M833.5 932.6h0M793.6 932.6h0M805.8 932.6h0M829 932.7h0M825.6 932.7h0M803.9 932.7h0M800.7 932.8h0M796 932.8h0M834.7 932.8h0M825.4 933h0M806.1 933.1h0M825.1 933.4h0M830.3 933.5h0M799.5 933.5h0M827 933.7h0M806.4 933.7h0M802.9 933.7h0M833 933.8h0M806.5 933.9h0M824.7 934h0M795 934.2h0M806.9 934.3h0M800.1 934.5h0M828.5 934.6h0M824.4 934.6h0M805 934.7h0M807.2 934.7h0M802.2 934.8h0M830.7 934.8h0M824.3 935h0M798.2 935h0M807.5 935.2h0M824.1 935.5h0M827.5 935.6h0M807.7 935.6h0M804.9 935.7h0M801.8 935.7h0M807.9 935.8h0M823.6 935.8h0M799.2 936h0M823.3 936.1h0M828.2 936.5h0M808.1 936.5h0M823.1 936.5h0M829.3 936.6h0M825.1 936.7h0M806.1 936.7h0M802.1 936.7h0M829.8 936.8h0M808.5 936.9h0M822.7 937h0M808.9 937.3h0M828.1 937.5h0M822.3 937.5h0M805.3 937.6h0M825 937.7h0M808.1 937.7h0M822.2 937.7h0M809.3 938h0M802.9 938h0M828.1 938.2h0M809.6 938.5h0M822 938.5h0M809.8 938.6h0M824 938.7h0M807.2 938.7h0M821.5 938.8h0M810.1 939.1h0M821.2 939.3h0M823.6 939.6h0M810.5 939.6h0M807.5 939.6h0M821 939.6h0M810.6 939.8h0M824.5 939.9h0M806.2 940h0M820.7 940h0M810.9 940.2h0M820.4 940.4h0M811.2 940.6h0M820.2 940.7h0M809.1 940.7h0M823.1 940.7h0M811.5 941.1h0M819.9 941.1h0M811.8 941.5h0M808.4 941.6h0M819.5 941.6h0M812 941.7h0M822.1 941.7h0M819.3 941.9h0M809 942.1h0M819 942.3h0M812.1 942.5h0M819.1 942.7h0M812.7 942.8h0M810.6 942.9h0M818.9 943.2h0M818.4 943.5h0M812.7 943.6h0M820 943.7h0M813 944.2h0M818 944.5h0M812.5 944.6h0M817.5 944.9h0M814 945.5h0M817 945.7h0M815 946.5h0M815.5 946.8h0" fill="none" stroke="#000" stroke-width="7" stroke-linecap="round"/>
<text x="1091" y="554.9" font-size="31.2" font-weight="bold">f</text>
<rect x="1201.4" y="760.4" width="39.2" height="190.9" fill="#fff" stroke="#000" stroke-width="2.4"/>
<rect x="1240.7" y="709.3" width="39.9" height="242" fill="#fff" stroke="#000" stroke-width="2.4"/>
<rect x="1280.5" y="715.6" width="39.2" height="235.8" fill="#fff" stroke="#000" stroke-width="2.4"/>
<rect x="1319.8" y="703.1" width="39.2" height="248.2" fill="#fff" stroke="#000" stroke-width="2.4"/>
<rect x="1359" y="682.9" width="39.6" height="268.5" fill="#fff" stroke="#000" stroke-width="2.4"/>
<rect x="1398.6" y="668.6" width="39.9" height="282.8" fill="#fff" stroke="#000" stroke-width="2.4"/>
<rect x="1438.4" y="673.2" width="38.9" height="278.1" fill="#fff" stroke="#000" stroke-width="2.4"/>
<rect x="1477.3" y="669.5" width="39.9" height="281.8" fill="#fff" stroke="#000" stroke-width="2.4"/>
<rect x="1517.2" y="677" width="39.2" height="274.4" fill="#fff" stroke="#000" stroke-width="2.4"/>
<rect x="1556.5" y="663.9" width="39.2" height="287.4" fill="#fff" stroke="#000" stroke-width="2.4"/>
<line x1="1201.4" y1="561.1" x2="1201.4" y2="952.3" stroke="#000" stroke-width="2.5"/>
<text x="1183" y="570.6" font-size="31.8" font-weight="bold" text-anchor="end" letter-spacing="-2.5">15</text>
<text x="1183" y="700.5" font-size="31.8" font-weight="bold" text-anchor="end" letter-spacing="-2.5">10</text>
<text x="1182.8" y="830.2" font-size="31.8" font-weight="bold" text-anchor="end">5</text>
<text x="1182.8" y="952.7" font-size="31.8" font-weight="bold" text-anchor="end">0</text>
<text x="1203" y="984.8" font-size="31.8" font-weight="bold" text-anchor="middle">0.0</text>
<text x="1281.8" y="984.8" font-size="31.8" font-weight="bold" text-anchor="middle">0.2</text>
<text x="1360.3" y="984.8" font-size="31.8" font-weight="bold" text-anchor="middle">0.4</text>
<text x="1439" y="984.8" font-size="31.8" font-weight="bold" text-anchor="middle">0.6</text>
<text x="1517.8" y="984.8" font-size="31.8" font-weight="bold" text-anchor="middle">0.8</text>
<text x="1597.3" y="984.8" font-size="31.8" font-weight="bold" text-anchor="middle">1.0</text>
<text x="1413.4" y="1016.7" font-size="31.8" font-weight="bold" text-anchor="middle">PHS290 P value</text>
<text transform="translate(1142.7 742) rotate(-90)" font-size="31.8" font-weight="bold" text-anchor="middle">Percent</text>
<line x1="1705.7" y1="562.9" x2="1705.7" y2="951.4" stroke="#000" stroke-width="2.5"/>
<line x1="1704.7" y1="950.4" x2="2090.7" y2="950.4" stroke="#000" stroke-width="2.5"/>
<text x="1690" y="599.9" font-size="31.8" font-weight="bold" text-anchor="end">6</text>
<text x="1690" y="720.7" font-size="31.8" font-weight="bold" text-anchor="end">4</text>
<text x="1690" y="839.8" font-size="31.8" font-weight="bold" text-anchor="end">2</text>
<text x="1690" y="958.4" font-size="31.8" font-weight="bold" text-anchor="end">0</text>
<text x="1709.6" y="977.8" font-size="31.8" font-weight="bold" text-anchor="middle">-1.0</text>
<text x="1806.3" y="977.8" font-size="31.8" font-weight="bold" text-anchor="middle">-0.5</text>
<text x="1891.7" y="977.8" font-size="31.8" font-weight="bold" text-anchor="middle">0.0</text>
<text x="1985.2" y="977.8" font-size="31.8" font-weight="bold" text-anchor="middle">0.5</text>
<text x="2081.9" y="977.8" font-size="31.8" font-weight="bold" text-anchor="middle">1.0</text>
<text x="1902.5" y="1014.2" font-size="31.8" font-weight="bold" text-anchor="middle"><tspan font-family="'Liberation Serif','DejaVu Serif',serif" font-weight="normal">Δ</tspan> PHS290 PRS</text>
<text transform="translate(1657.4 772) rotate(-90)" font-size="31.8" font-weight="bold" text-anchor="middle"><tspan font-size="23">–</tspan>log<tspan font-size="20" font-weight="normal" dy="5.5">10</tspan><tspan dy="-5.5"> P value</tspan></text>
<path d="M1844.6 680.2h0M1846.5 702.4h0M1848.6 716h0M1855.3 721.1h0M1848.4 727.7h0M1855.6 734.7h0M1857.4 741.8h0M1853.4 755h0M1858.9 753.8h0M1860.8 771.2h0M1854.7 777.3h0M1858.5 776.3h0M1844.8 788.3h0M1850.9 790.2h0M1854.5 787.1h0M1861.9 787.1h0M1852.2 801.6h0M1854.7 797.8h0M1852.4 820h0M1850.5 830.4h0M1849.6 838.4h0M1847.3 842.6h0M1848 850.1h0M1856 847.3h0M1942.4 737.3h0M1952.6 745.4h0M1939.2 765.5h0M1949.2 773.7h0M1941.4 775.8h0M1947.1 789.2h0M1935.4 792.3h0M1932.1 804.8h0M1936.5 803.5h0M1952.4 809h0M1931.2 815h0M1940.1 818.8h0M1930.2 820h0M1938.1 827h0M1929.6 831.5h0M1942.9 832.7h0M1926.4 838.4h0M1934.6 837.8h0M1941.6 841.6h0M1943.5 849.2h0M1939.7 854.9h0M1948 857.2h0M1941 859.4h0M1944.4 866.4h0M1844.1 786.6h0M1846 787h0M1847.2 792h0M1855.9 792.4h0M1858.8 794.8h0M1831.2 795.9h0M1858.5 798.5h0M1857 800.4h0M1832.6 803.1h0M1857.8 804.1h0M1826.7 805.4h0M1863 806.2h0M1861.7 806.5h0M1850.7 806.7h0M1858.3 806.7h0M1858.5 808.6h0M1844.8 808.8h0M1855.2 808.9h0M1847.8 809.9h0M1863 810h0M1856.3 810.6h0M1861.9 811.3h0M1861.1 813h0M1858.2 813.2h0M1855.1 813.4h0M1859.7 814.4h0M1859.2 814.9h0M1861.2 815.1h0M1851.4 815.3h0M1855.3 816h0M1859.8 817.3h0M1864.7 817.5h0M1864.8 818.2h0M1859.8 818.7h0M1864.3 819.3h0M1853.9 819.5h0M1857.1 820.8h0M1861.5 821.7h0M1850.6 821.8h0M1864.1 821.9h0M1854.1 822h0M1858.4 822.9h0M1861.4 823.3h0M1863.3 824.8h0M1865 825.4h0M1849 825.7h0M1864.4 825.9h0M1853.5 825.9h0M1855.3 826.5h0M1861 826.7h0M1841 827.5h0M1859.9 827.6h0M1866.6 829.7h0M1856.8 829.9h0M1842.7 830h0M1848.2 830.3h0M1852.3 830.8h0M1866.2 831.7h0M1858.5 832.5h0M1852.8 832.7h0M1859.1 832.8h0M1860.2 833h0M1844.3 833.6h0M1862.8 833.7h0M1866.9 834.2h0M1847.1 834.3h0M1863.4 835.4h0M1853.5 835.7h0M1856 835.8h0M1868.1 835.9h0M1847.7 836h0M1864.9 836.1h0M1857.1 836.3h0M1864 836.5h0M1860.4 836.7h0M1856 836.7h0M1867.2 837.3h0M1860.8 837.6h0M1857 838.2h0M1866 838.9h0M1868.6 839.2h0M1861.2 839.4h0M1858.4 839.7h0M1856.9 839.9h0M1865.4 840.3h0M1862.3 840.4h0M1869.3 840.7h0M1862.5 841.3h0M1859 841.4h0M1869.3 841.6h0M1860.2 842.1h0M1864.3 842.2h0M1854.4 842.2h0M1853 843h0M1944.6 843.1h0M1862.7 843.2h0M1869.9 843.3h0M1934.9 843.3h0M1849.2 843.6h0M1864.9 843.8h0M1869.8 843.8h0M1937.9 844.4h0M1928.9 844.5h0M1858.8 844.6h0M1867.9 844.7h0M1864.5 844.8h0M1869.9 845.4h0M1865.6 845.7h0M1934.5 845.8h0M1937.8 846.1h0M1862.8 846.2h0M1868.6 846.3h0M1926.9 846.3h0M1929.6 846.5h0M1862.1 846.6h0M1867.3 847.1h0M1862 847.5h0M1862.4 847.9h0M1868.4 848.1h0M1941.1 848.5h0M1869 848.5h0M1855.3 848.6h0M1865.3 848.7h0M1939.1 849.1h0M1869 849.2h0M1870.4 849.4h0M1859.3 849.7h0M1870.4 849.8h0M1866.6 849.9h0M1860.4 850h0M1856.9 850h0M1929.6 850h0M1863.2 850.1h0M1855.6 850.9h0M1929.9 850.9h0M1868.4 850.9h0M1864.3 850.9h0M1849.5 851h0M1930.3 851h0M1924 851.4h0M1858.5 851.7h0M1869.8 851.8h0M1853.8 852.1h0M1928.4 852.1h0M1867 852.3h0M1930.2 852.3h0M1871.1 852.3h0M1862 852.5h0M1860.1 852.8h0M1870.5 852.9h0M1865.8 852.9h0M1923.7 853h0M1930.3 853.1h0M1864.1 853.5h0M1930.8 853.6h0M1871.5 853.7h0M1868.8 853.9h0M1857.9 854h0M1865.3 854.2h0M1872 854.3h0M1932.3 854.3h0M1863.1 854.7h0M1924.8 854.9h0M1869.8 855h0M1862.6 855h0M1838.4 855.1h0M1872 855.2h0M1856.9 855.4h0M1923.2 855.8h0M1868.2 855.9h0M1927.9 856h0M1862.4 856.2h0M1930.5 856.2h0M1932.5 856.4h0M1861.3 856.5h0M1925.4 856.6h0M1938.1 856.6h0M1867 856.9h0M1859.7 856.9h0M1872.5 857h0M1872.8 857.4h0M1861.1 857.5h0M1868.1 857.5h0M1863.5 857.8h0M1870.8 858h0M1932.5 858h0M1860 858.2h0M1864.7 858.4h0M1853.8 858.4h0M1871.7 858.6h0M1934.9 858.8h0M1866.4 858.9h0M1872.5 859.1h0M1859.1 859.3h0M1870.7 859.5h0M1862.5 859.6h0M1935.6 859.7h0M1867 860.1h0M1927.6 860.1h0M1860.1 860.1h0M1854.8 860.1h0M1873.2 860.2h0M1924.9 860.2h0M1933.2 860.3h0M1937.9 860.4h0M1863.5 860.6h0M1871 860.6h0M1858.9 860.7h0M1922.6 860.7h0M1922.2 861h0M1870.2 861.2h0M1931.5 861.4h0M1865 861.4h0M1870.2 861.6h0M1941 861.8h0M1871.5 862h0M1868.2 862h0M1931.2 862h0M1922.9 862h0M1861.1 862.1h0M1864.2 862.2h0M1854.1 862.3h0M1926.8 862.3h0M1870 862.7h0M1932.6 862.8h0M1863.8 862.8h0M1871.7 863.1h0M1873.6 863.1h0M1939.2 863.2h0M1850.2 863.2h0M1937.6 863.4h0M1859.4 863.5h0M1927.4 863.7h0M1869.4 863.7h0M1865.7 863.9h0M1925 863.9h0M1855.8 864h0M1861.7 864h0M1932 864h0M1873.1 864h0M1854 864.2h0M1874.3 864.5h0M1866 864.5h0M1870.3 864.7h0M1925.2 864.8h0M1874.1 864.8h0M1861.9 865h0M1867.6 865.1h0M1859.7 865.5h0M1921.5 865.6h0M1874.5 865.6h0M1851.9 865.7h0M1868 865.8h0M1926.8 866.1h0M1928.1 866.2h0M1859.4 866.2h0M1869.8 866.4h0M1853.2 866.4h0M1930.2 866.4h0M1871.1 866.6h0M1929.8 866.8h0M1921.8 866.8h0M1868.9 866.9h0M1873.1 867.1h0M1862.4 867.4h0M1926.8 867.5h0M1868.5 867.6h0M1922.1 867.7h0M1871.1 867.7h0M1874.6 867.8h0M1865.5 867.9h0M1862.3 868h0M1853.1 868.3h0M1856.8 868.4h0M1931.5 868.5h0M1874.9 868.7h0M1925.9 868.7h0M1920.9 868.7h0M1862 868.8h0M1929.3 869h0M1868.9 869.4h0M1931.7 869.4h0M1864.1 869.6h0M1869.4 869.8h0M1922.7 869.8h0M1865.7 869.9h0M1874.6 870h0M1921.3 870.1h0M1874.7 870.5h0M1869.7 870.6h0M1866 870.7h0M1920.4 870.7h0M1862 870.8h0M1936.9 870.9h0M1873.5 871h0M1860.7 871.1h0M1936.4 871.2h0M1875.9 871.4h0M1919.8 871.4h0M1927.5 871.5h0M1922.4 871.5h0M1937.6 871.6h0M1928 871.6h0M1924.6 871.7h0M1872.8 871.7h0M1868.7 871.8h0M1874.8 871.8h0M1919.6 871.9h0M1928.6 872.2h0M1859.9 872.5h0M1874.8 872.6h0M1873.1 872.7h0M1921.3 872.7h0M1929.7 872.9h0M1862.9 872.9h0M1875.9 873h0M1860.4 873.1h0M1869.9 873.2h0M1926.3 873.3h0M1921.9 873.3h0M1867.6 873.4h0M1920 873.5h0M1932.6 873.6h0M1869.1 873.8h0M1925.7 873.9h0M1921.9 873.9h0M1865.9 873.9h0M1919.6 873.9h0M1875 873.9h0M1876 874h0M1872.9 874.2h0M1862.1 874.6h0M1869 874.7h0M1876.6 874.7h0M1873.8 874.8h0M1924.5 874.8h0M1926.1 874.9h0M1859.4 875.1h0M1929.8 875.2h0M1864.5 875.2h0M1857.9 875.3h0M1922.1 875.5h0M1869.1 875.7h0M1876.5 875.7h0M1871.5 875.8h0M1920.3 875.8h0M1925.5 875.9h0M1864.6 875.9h0M1919.3 876h0M1859.3 876.1h0M1855.4 876.1h0M1876 876.5h0M1860.8 876.5h0M1866.7 876.6h0M1877 876.7h0M1921 876.7h0M1927.1 876.8h0M1871 876.8h0M1923.7 877.2h0M1919.5 877.3h0M1930.3 877.3h0M1862.9 877.4h0M1874 877.5h0M1876.6 877.6h0M1870.4 877.8h0M1855.8 877.9h0M1877.3 878h0M1872.9 878h0M1866.4 878.1h0M1924.4 878.2h0M1921.4 878.3h0M1875.6 878.6h0M1919.5 878.6h0M1868.1 878.8h0M1871.4 878.8h0M1922.5 878.8h0M1918.5 879.2h0M1927.9 879.3h0M1866.1 879.4h0M1871.4 879.6h0M1873.6 879.7h0M1918.3 879.7h0M1923.6 879.7h0M1874.9 879.7h0M1863.6 879.7h0M1867.1 879.7h0M1876.8 879.8h0M1929.5 880h0M1921.7 880h0M1862.9 880.4h0M1877.8 880.5h0M1925 880.6h0M1860.8 880.6h0M1871.2 880.6h0M1873.8 880.8h0M1920.8 880.9h0M1877.7 880.9h0M1867.4 880.9h0M1930 881h0M1926.4 881.1h0M1931.5 881.1h0M1919.6 881.4h0M1863.9 881.4h0M1878 881.5h0M1923.9 881.6h0M1918.8 881.7h0M1872.2 881.7h0M1869.7 881.8h0M1875.2 881.8h0M1926.1 882.1h0M1858.9 882.3h0M1917.8 882.3h0M1930.6 882.3h0M1866.3 882.5h0M1921.1 882.5h0M1875 882.6h0M1877.7 882.7h0M1869.9 882.7h0M1919.3 882.8h0M1862.2 882.9h0M1867.4 883h0M1923.7 883h0M1874 883.2h0M1925.9 883.3h0M1878.3 883.5h0M1928.6 883.6h0M1917.8 883.7h0M1872.1 883.8h0M1926.1 883.8h0M1878.3 883.8h0M1922.2 883.8h0M1865.3 884h0M1868.8 884.2h0M1874.8 884.2h0M1921.5 884.6h0M1878.3 884.6h0M1876.1 884.7h0M1862.8 884.7h0M1928.3 884.7h0M1919.1 884.8h0M1872.4 884.8h0M1917.6 884.9h0M1878.9 884.9h0M1865.8 884.9h0M1923.4 884.9h0M1869.6 885.3h0M1930 885.3h0M1916.5 885.5h0M1875.8 885.7h0M1869.8 885.7h0M1865 885.7h0M1923.9 885.8h0M1873.5 885.9h0M1917.5 885.9h0M1878.2 885.9h0M1879.3 886h0M1933.6 886.1h0M1921.3 886.3h0M1927.4 886.4h0M1868.2 886.7h0M1922 886.7h0M1918 886.7h0M1877.7 886.8h0M1866.4 886.8h0M1873.6 886.8h0M1926.1 886.9h0M1871.3 887h0M1930 887h0M1916 887.1h0M1879 887.3h0M1877.3 887.6h0M1927.2 887.7h0M1872 887.7h0M1879.6 887.7h0M1919.1 887.7h0M1874.7 887.8h0M1866.6 887.8h0M1869.1 887.8h0M1921.6 887.8h0M1862.6 887.9h0M1916.7 888h0M1923.9 888.1h0M1879.8 888.6h0M1918.1 888.8h0M1915.6 888.8h0M1922.3 888.8h0M1876.3 888.9h0M1868.7 888.9h0M1879.6 889h0M1926.8 889h0M1873.2 889h0M1880 889.3h0M1872.8 889.6h0M1868.5 889.7h0M1877.9 889.7h0M1921.2 889.7h0M1875.2 889.7h0M1919.2 889.8h0M1924.4 889.9h0M1915.3 889.9h0M1866.6 890.4h0M1872.1 890.6h0M1917.7 890.6h0M1878.9 890.6h0M1880 890.8h0M1876 890.8h0M1921.8 890.9h0M1915.6 891h0M1867.5 891h0M1923.6 891.3h0M1930.5 891.4h0M1871.9 891.5h0M1866.4 891.6h0M1864.5 891.6h0M1918.4 891.7h0M1880.1 891.7h0M1916 891.7h0M1914.9 891.7h0M1872.1 891.8h0M1877.2 891.8h0M1920.7 891.9h0M1925.2 892h0M1880.6 892.1h0M1868.3 892.3h0M1880.8 892.5h0M1876.3 892.6h0M1874.2 892.8h0M1924.2 892.8h0M1878.7 892.8h0M1871.5 892.9h0M1864.2 893h0M1918.8 893h0M1881.1 893.2h0M1924.1 893.3h0M1915.7 893.4h0M1867.9 893.4h0M1929.6 893.5h0M1914.9 893.6h0M1919.4 893.6h0M1864.1 893.6h0M1925 893.7h0M1917.1 893.7h0M1878 893.7h0M1873.1 893.7h0M1868.3 893.8h0M1880.6 893.9h0M1921.1 894.1h0M1928.9 894.1h0M1876.2 894.6h0M1881.5 894.6h0M1879 894.7h0M1872 894.7h0M1915.9 894.7h0M1914.5 894.7h0M1918.2 894.8h0M1923.8 894.8h0M1866.9 894.9h0M1875.5 894.9h0M1921.2 895.4h0M1925.6 895.5h0M1914.3 895.5h0M1869.3 895.6h0M1881.7 895.7h0M1876.9 895.7h0M1867.1 895.7h0M1917.9 895.7h0M1921.3 896h0M1874.3 896h0M1913.9 896.1h0M1881.6 896.4h0M1926.6 896.5h0M1872.3 896.6h0M1879.1 896.6h0M1917.5 896.7h0M1866.6 896.7h0M1881.5 896.8h0M1877.3 896.8h0M1874.2 896.9h0M1919.9 896.9h0M1914.1 897h0M1922.4 897h0M1864.8 897.2h0M1882 897.4h0M1870.4 897.5h0M1864.3 897.6h0M1914.3 897.6h0M1919.9 897.7h0M1913.3 897.7h0M1879 897.8h0M1881.8 897.9h0M1872.8 897.9h0M1876.2 898h0M1869.5 898.1h0M1917.6 898.2h0M1882 898.5h0M1922 898.6h0M1914.3 898.6h0M1876.9 898.7h0M1922.8 898.7h0M1916.8 898.7h0M1873.8 898.8h0M1879.6 898.8h0M1924.1 898.8h0M1870.2 898.8h0M1920.4 898.9h0M1913.7 899h0M1882.6 899.2h0M1913.1 899.5h0M1926.4 899.7h0M1882.5 899.7h0M1880.1 899.7h0M1914.9 899.8h0M1876.9 899.8h0M1874.2 899.8h0M1920.5 899.9h0M1929.4 900.2h0M1919.5 900.5h0M1922 900.6h0M1913.7 900.6h0M1873.8 900.6h0M1881.9 900.6h0M1882.9 900.7h0M1878.1 900.7h0M1915.8 900.7h0M1869.3 900.7h0M1913 900.9h0M1921.7 901.1h0M1869.4 901.2h0M1883.1 901.2h0M1924 901.3h0M1875.6 901.6h0M1912.5 901.6h0M1879.6 901.6h0M1874.3 901.6h0M1918.3 901.6h0M1915 901.7h0M1882.8 901.7h0M1868.9 901.8h0M1912.2 901.9h0M1922 902h0M1871.8 902.1h0M1924.2 902.3h0M1879.1 902.3h0M1925.9 902.5h0M1918.5 902.6h0M1882.9 902.6h0M1878.9 902.7h0M1920.9 902.7h0M1915 902.7h0M1875.5 902.8h0M1883.4 902.9h0M1924.3 902.9h0M1912.1 902.9h0M1872.3 902.9h0M1883.6 903.5h0M1918.5 903.5h0M1877.3 903.6h0M1882.6 903.6h0M1872.3 903.6h0M1874.8 903.8h0M1916.1 903.8h0M1912.9 903.9h0M1883.8 903.9h0M1879.6 904h0M1921.5 904h0M1868.5 904.2h0M1911.9 904.3h0M1883.9 904.6h0M1922.4 904.7h0M1911.9 904.7h0M1881 904.7h0M1916.1 904.7h0M1875.4 904.8h0M1919.6 904.9h0M1873.2 904.9h0M1878.1 905.2h0M1869.5 905.2h0M1884.1 905.2h0M1911.6 905.5h0M1911.3 905.5h0M1915.7 905.6h0M1878.9 905.7h0M1881.9 905.7h0M1871.8 905.7h0M1884.4 905.8h0M1923.3 905.8h0M1875.1 905.8h0M1913.1 905.8h0M1920.2 906.1h0M1911.1 906.2h0M1884.6 906.5h0M1917.1 906.5h0M1878.4 906.6h0M1875 906.7h0M1881 906.7h0M1912.1 906.7h0M1884.2 906.7h0M1918.8 906.8h0M1921.7 906.8h0M1914.5 907.1h0M1911.2 907.4h0M1884.8 907.5h0M1879.2 907.6h0M1913.2 907.7h0M1875.8 907.7h0M1882.2 907.7h0M1917 907.8h0M1911 907.8h0M1884.9 907.8h0M1873.3 907.8h0M1871.8 908h0M1920.3 908.1h0M1924.2 908.2h0M1885 908.5h0M1910.7 908.6h0M1880.5 908.6h0M1912.6 908.6h0M1920.1 908.7h0M1883 908.7h0M1877.7 908.9h0M1914.7 909h0M1874.8 909h0M1910.3 909.1h0M1885.3 909.2h0M1914.5 909.5h0M1916.3 909.6h0M1910.2 909.6h0M1873.7 909.7h0M1877.2 909.7h0M1881.8 909.8h0M1918.8 909.8h0M1884.9 909.9h0M1885.6 910.3h0M1910.2 910.3h0M1880.1 910.5h0M1913.6 910.6h0M1882 910.7h0M1873.3 910.8h0M1885.5 910.8h0M1921.2 910.8h0M1909.9 910.8h0M1917 910.8h0M1885.8 911h0M1876.9 911h0M1913 911.5h0M1885.9 911.5h0M1909.8 911.5h0M1876.3 911.6h0M1879.4 911.6h0M1884 911.7h0M1921 911.7h0M1909.6 911.8h0M1914.9 911.8h0M1917.4 912.1h0M1886.1 912.1h0M1880.1 912.4h0M1909.4 912.5h0M1909.7 912.6h0M1913 912.7h0M1878.8 912.7h0M1885.9 912.8h0M1882.9 912.8h0M1877.3 912.8h0M1909.4 913h0M1916.9 913.1h0M1877.1 913.5h0M1883.4 913.6h0M1912.6 913.6h0M1909.1 913.6h0M1885.8 913.6h0M1886.6 913.6h0M1916.5 913.7h0M1876.2 913.7h0M1880.9 913.7h0M1909.5 914h0M1917.2 914.1h0M1886.8 914.4h0M1909 914.5h0M1913.2 914.5h0M1877.2 914.5h0M1886.8 914.6h0M1884.1 914.7h0M1915.8 914.7h0M1910.7 914.7h0M1879 914.8h0M1875.5 915.1h0M1908.8 915.1h0M1887 915.2h0M1874.6 915.4h0M1883.3 915.5h0M1912.8 915.7h0M1885 915.7h0M1908.5 915.7h0M1915.5 915.7h0M1880.6 915.9h0M1908.3 916h0M1877.6 916.1h0M1887.2 916.1h0M1917.1 916.5h0M1910.6 916.6h0M1915.2 916.6h0M1908.3 916.7h0M1883.9 916.7h0M1886.9 916.7h0M1881.3 916.8h0M1877.7 916.8h0M1887.6 916.9h0M1912.8 916.9h0M1907.9 917.3h0M1887.8 917.5h0M1917.2 917.6h0M1885 917.7h0M1908.9 917.7h0M1881 917.7h0M1914.8 917.8h0M1911.6 917.8h0M1887.9 917.8h0M1918.1 918h0M1907.6 918.1h0M1878.5 918.5h0M1888 918.5h0M1882.7 918.6h0M1910.9 918.7h0M1908.2 918.7h0M1885.9 918.7h0M1917.6 918.8h0M1878.2 918.9h0M1888.3 919.1h0M1914.7 919.1h0M1907.4 919.1h0M1882.1 919.2h0M1877.4 919.3h0M1907.5 919.5h0M1883 919.7h0M1911.9 919.7h0M1888.5 919.7h0M1907.1 919.7h0M1885.7 919.8h0M1880.2 920h0M1914.4 920.3h0M1877.6 920.3h0M1888.6 920.4h0M1907 920.4h0M1915.7 920.6h0M1907.7 920.6h0M1913 920.6h0M1888 920.7h0M1884 920.7h0M1910 920.8h0M1888.8 920.9h0M1906.7 921.1h0M1881.2 921.1h0M1888.8 921.5h0M1877.8 921.6h0M1886.5 921.6h0M1910.1 921.7h0M1884 921.7h0M1906.6 921.7h0M1906.5 922h0M1880.9 922h0M1913.5 922.1h0M1889 922.1h0M1906.5 922.6h0M1888.9 922.7h0M1883.9 922.7h0M1910.9 922.7h0M1914 922.9h0M1889.4 923h0M1906.3 923.1h0M1889.6 923.5h0M1886.2 923.5h0M1906.2 923.5h0M1907.6 923.6h0M1882.7 923.6h0M1888.9 923.7h0M1882.1 923.7h0M1909.9 923.9h0M1885.2 924h0M1905.9 924.1h0M1913.1 924.2h0M1880.9 924.2h0M1889.8 924.3h0M1914 924.4h0M1887 924.7h0M1889.9 924.7h0M1906.9 924.7h0M1910 924.8h0M1882.6 924.8h0M1905.7 925h0M1912.5 925.1h0M1905.3 925.5h0M1890 925.5h0M1881.5 925.6h0M1887.5 925.6h0M1908 925.7h0M1905.3 925.8h0M1885.1 925.8h0M1890.3 925.8h0M1881 925.8h0M1910.9 925.9h0M1905.1 926.4h0M1912.6 926.4h0M1889.5 926.6h0M1884.6 926.7h0M1907.9 926.7h0M1905 926.7h0M1887 926.7h0M1890.6 926.8h0M1911.5 927h0M1890.9 927.3h0M1905 927.5h0M1890.1 927.7h0M1908.8 927.7h0M1887.3 927.8h0M1905.5 927.9h0M1885.4 927.9h0M1911.1 928h0M1891.1 928.1h0M1904.4 928.2h0M1912.4 928.3h0M1904.4 928.6h0M1890 928.7h0M1907 928.7h0M1887.2 928.7h0M1904.3 928.8h0M1891.3 928.9h0M1910.8 929.1h0M1885.4 929.5h0M1904.4 929.6h0M1891.5 929.6h0M1907 929.7h0M1884.9 929.7h0M1888.1 929.7h0M1910.5 929.7h0M1891.7 929.8h0M1903.9 930.1h0M1891.9 930.3h0M1891.8 930.6h0M1907.4 930.6h0M1910.3 930.7h0M1904 930.7h0M1888.1 930.8h0M1885.8 931h0M1903.5 931h0M1892.1 931.1h0M1890.5 931.5h0M1908 931.6h0M1903.5 931.6h0M1887.9 931.7h0M1892.4 931.8h0M1905.6 931.8h0M1903.1 932.3h0M1892.6 932.4h0M1907.7 932.5h0M1892.5 932.5h0M1903.2 932.6h0M1909.2 932.7h0M1890.1 932.7h0M1887.2 932.7h0M1906 932.8h0M1902.8 933.1h0M1892.9 933.3h0M1893 933.7h0M1903 933.7h0M1890.2 933.7h0M1906.8 933.8h0M1893.1 934.1h0M1902.4 934.2h0M1902.4 934.5h0M1903.5 934.5h0M1890.5 934.6h0M1893.1 934.7h0M1888.8 934.7h0M1906.1 935h0M1893.6 935.2h0M1902.2 935.3h0M1893.6 935.5h0M1905.5 935.6h0M1902.2 935.6h0M1892 935.7h0M1901.7 936.1h0M1893.9 936.2h0M1890.2 936.5h0M1903.6 936.6h0M1893.8 936.6h0M1891 936.7h0M1901.6 936.7h0M1905.5 936.8h0M1894.2 937h0M1901.4 937.1h0M1901.4 937.6h0M1894.4 937.7h0M1892.2 937.7h0M1903.9 937.8h0M1890.4 937.9h0M1901 938.1h0M1894.7 938.5h0M1901.2 938.6h0M1892.9 938.7h0M1903.8 938.8h0M1900.7 939h0M1894.9 939.5h0M1900.5 939.6h0M1893.5 939.6h0M1903.5 939.8h0M1892.6 939.9h0M1900.2 940.3h0M1894.9 940.5h0M1901 940.7h0M1894.5 940.9h0M1902.2 941.2h0M1899.9 941.5h0M1895.6 941.6h0M1894 941.7h0M1900.4 941.9h0M1896.1 942.5h0M1900.6 942.6h0M1895.6 942.9h0M1900 943.2h0M1896 943.7h0M1899 943.7h0M1896.4 944.6h0M1899.3 944.6h0M1898.9 945.4h0M1897.3 945.6h0M1898.1 946.2h0M1897.5 946.5h0M1897.8 947.3h0" fill="none" stroke="#000" stroke-width="7" stroke-linecap="round"/>
<text x="17.5" y="1067.5" font-size="31.2" font-weight="bold">g</text>
<line x1="130.2" y1="1077.1" x2="130.2" y2="1491.5" stroke="#000" stroke-width="2.5"/>
<line x1="129.2" y1="1490.5" x2="532.2" y2="1490.5" stroke="#000" stroke-width="2.5"/>
<text x="122.7" y="1085.6" font-size="31.8" font-weight="bold" text-anchor="end">25</text>
<text x="122.7" y="1168.2" font-size="31.8" font-weight="bold" text-anchor="end">24</text>
<text x="122.7" y="1251.2" font-size="31.8" font-weight="bold" text-anchor="end">23</text>
<text x="122.7" y="1333.6" font-size="31.8" font-weight="bold" text-anchor="end">22</text>
<text x="122.7" y="1416" font-size="31.8" font-weight="bold" text-anchor="end">21</text>
<text x="122.7" y="1495.1" font-size="31.8" font-weight="bold" text-anchor="end">20</text>
<text x="132.4" y="1519.6" font-size="31.8" font-weight="bold" text-anchor="middle">0</text>
<text x="262.2" y="1519.6" font-size="31.8" font-weight="bold" text-anchor="middle">4000</text>
<text x="391.4" y="1519.6" font-size="31.8" font-weight="bold" text-anchor="middle">8000</text>
<text x="516.7" y="1519.6" font-size="31.8" font-weight="bold" text-anchor="middle">12000</text>
<text x="297.8" y="1551.9" font-size="31.8" font-weight="bold" text-anchor="middle">Peaks</text>
<text transform="translate(66.5 1258.8) rotate(-90)" font-size="31.8" font-weight="bold" text-anchor="middle">Conti PRS</text>
<text x="328.4" y="1423.3" font-size="21.6"><tspan font-family="'Liberation Serif','DejaVu Serif',serif" font-weight="normal">ρ</tspan> = −0.15</text>
<text x="328.4" y="1454.4" font-size="21.6">P<tspan font-size="14.7" font-weight="normal" dy="4.3">ρ</tspan><tspan dy="-4.3"> = 8.56 × 10</tspan><tspan font-size="13" dy="-7.8">−2</tspan></text>
<path d="M341.4 1098.8h0M252.2 1114.9h0M304.9 1113.6h0M369.5 1133.7h0M373 1143.3h0M273.2 1140.8h0M284.2 1149.2h0M196.4 1153h0M309.1 1153.4h0M426 1152.7h0M206.4 1165.3h0M359.1 1168.2h0M333.6 1174h0M349.1 1174.3h0M282.6 1174.7h0M406.6 1180.8h0M261.3 1183.1h0M229.6 1186.9h0M241.2 1188.6h0M248 1189.5h0M302.9 1188.2h0M375 1186.9h0M447 1189.5h0M465.4 1187.3h0M206 1192.1h0M286.8 1190.8h0M325.2 1195h0M365.9 1195.3h0M409.5 1194h0M402.7 1197.3h0M432.4 1198.2h0M440.8 1198.2h0M294.9 1201.5h0M504.8 1201.8h0M218.3 1204.7h0M363.3 1203.7h0M312.9 1207.3h0M320.7 1206.3h0M324.6 1209.2h0M340.7 1208.3h0M348.1 1210.2h0M401.8 1208.3h0M291.6 1211.2h0M306.5 1212.8h0M298.1 1215.7h0M332.3 1216.7h0M407.2 1213.8h0M252.9 1213.4h0M257.4 1216.3h0M171.5 1218.6h0M316.5 1219.6h0M349.4 1222.5h0M403.4 1228h0M293.9 1229.9h0M308.4 1230.9h0M329.1 1229.9h0M368.5 1232.5h0M379.8 1232.2h0M398.2 1234.1h0M419.8 1232.2h0M429.2 1236.4h0M265.5 1236.7h0M499 1235.4h0M381.1 1242.2h0M429.2 1241.8h0M481.8 1242.5h0M312.9 1244.8h0M319.1 1246.7h0M407.6 1246h0M351.7 1249.9h0M370.1 1249.9h0M316.8 1252.5h0M360.7 1254.8h0M401.4 1254.1h0M230.9 1256.7h0M253.5 1260.6h0M321.3 1260.9h0M399.5 1263.8h0M364.3 1266.7h0M279.7 1269.3h0M295.5 1269.6h0M306.2 1269.3h0M316.2 1270.3h0M320.7 1273.8h0M329.4 1275.8h0M360.4 1275.8h0M388.2 1275.1h0M400.1 1274.5h0M420.5 1274.5h0M426.6 1274.5h0M437 1276.7h0M459.2 1276.1h0M268.7 1275.8h0M239.3 1280h0M341 1278.7h0M237.4 1288h0M335.2 1286.1h0M389.2 1291.6h0M435.7 1290.9h0M255.1 1294.8h0M322.3 1294.2h0M326.5 1296.1h0M354.3 1295.8h0M379.1 1295.8h0M441.2 1294.5h0M433.7 1296.7h0M463.1 1297.7h0M390.5 1300h0M356.5 1304.8h0M377.9 1308.1h0M386.6 1306.8h0M394.3 1307.4h0M420.8 1305.5h0M428.6 1304.5h0M263.2 1309h0M337.2 1314.2h0M398.9 1315.8h0M165 1316.8h0M352.7 1320.6h0M419.8 1323.2h0M210.2 1325.2h0M327.2 1325.5h0M334.9 1326.5h0M294.2 1346.2h0M291 1362h0M281 1366.5h0M237.7 1368.4h0M422.7 1372.3h0M444.7 1373.6h0M338.1 1379.1h0" fill="none" stroke="#000" stroke-width="9" stroke-linecap="round"/>
<text x="548" y="1068.4" font-size="31.2" font-weight="bold">h</text>
<rect x="670.8" y="1102.3" width="36.2" height="353.3" fill="#fff" stroke="#000" stroke-width="2.4"/>
<rect x="707" y="1244.1" width="35.8" height="211.5" fill="#fff" stroke="#000" stroke-width="2.4"/>
<rect x="742.8" y="1213.8" width="35.8" height="241.9" fill="#fff" stroke="#000" stroke-width="2.4"/>
<rect x="778.7" y="1284.2" width="35.8" height="171.5" fill="#fff" stroke="#000" stroke-width="2.4"/>
<rect x="814.5" y="1324.8" width="35.8" height="130.8" fill="#fff" stroke="#000" stroke-width="2.4"/>
<rect x="850.4" y="1233.8" width="35.8" height="221.9" fill="#fff" stroke="#000" stroke-width="2.4"/>
<rect x="886.2" y="1263.8" width="35.8" height="191.8" fill="#fff" stroke="#000" stroke-width="2.4"/>
<rect x="922.1" y="1314.5" width="35.8" height="141.1" fill="#fff" stroke="#000" stroke-width="2.4"/>
<rect x="957.9" y="1213.8" width="35.8" height="241.9" fill="#fff" stroke="#000" stroke-width="2.4"/>
<rect x="993.8" y="1294.5" width="36.2" height="161.2" fill="#fff" stroke="#000" stroke-width="2.4"/>
<line x1="666" y1="1455.6" x2="1034.8" y2="1455.6" stroke="#000" stroke-width="2.5"/>
<line x1="646.6" y1="1077.1" x2="646.6" y2="1481.2" stroke="#000" stroke-width="2.5"/>
<line x1="645.6" y1="1480.2" x2="1055.1" y2="1480.2" stroke="#000" stroke-width="2.5"/>
<text x="637.4" y="1154.4" font-size="31.8" font-weight="bold" text-anchor="end">15</text>
<text x="637.4" y="1257.7" font-size="31.8" font-weight="bold" text-anchor="end">10</text>
<text x="633.5" y="1362.8" font-size="31.8" font-weight="bold" text-anchor="end">5</text>
<text x="633.5" y="1464.6" font-size="31.8" font-weight="bold" text-anchor="end">0</text>
<text x="675.6" y="1509.9" font-size="31.8" font-weight="bold" text-anchor="middle">0.0</text>
<text x="747.7" y="1509.9" font-size="31.8" font-weight="bold" text-anchor="middle">0.2</text>
<text x="818.7" y="1509.9" font-size="31.8" font-weight="bold" text-anchor="middle">0.4</text>
<text x="890.4" y="1509.9" font-size="31.8" font-weight="bold" text-anchor="middle">0.6</text>
<text x="962.1" y="1509.9" font-size="31.8" font-weight="bold" text-anchor="middle">0.8</text>
<text x="1035.7" y="1509.9" font-size="31.8" font-weight="bold" text-anchor="middle">1.0</text>
<text x="849.2" y="1543.6" font-size="31.8" font-weight="bold" text-anchor="middle">Local risk SNP m<tspan font-size="22.5" dy="-12.5" dx="0.5">6</tspan><tspan dy="12.5" dx="0.5">A</tspan> QTL P value</text>
<text transform="translate(597.7 1267) rotate(-90)" font-size="31.8" font-weight="bold" text-anchor="middle">Percent</text>
<line x1="1147.2" y1="1073.3" x2="1147.2" y2="1483.7" stroke="#000" stroke-width="2.5"/>
<line x1="1146" y1="1482.5" x2="1566.1" y2="1482.5" stroke="#000" stroke-width="2.5"/>
<text x="1138" y="1120.2" font-size="31.8" font-weight="bold" text-anchor="end">5</text>
<text x="1138" y="1194.7" font-size="31.8" font-weight="bold" text-anchor="end">4</text>
<text x="1138" y="1269.2" font-size="31.8" font-weight="bold" text-anchor="end">3</text>
<text x="1138" y="1342.6" font-size="31.8" font-weight="bold" text-anchor="end">2</text>
<text x="1138" y="1416.1" font-size="31.8" font-weight="bold" text-anchor="end">1</text>
<text x="1138" y="1488.6" font-size="31.8" font-weight="bold" text-anchor="end">0</text>
<text x="1160.8" y="1511.5" font-size="31.8" font-weight="bold" text-anchor="middle">-1</text>
<text x="1353.9" y="1511.5" font-size="31.8" font-weight="bold" text-anchor="middle">0</text>
<text x="1566.1" y="1511.5" font-size="31.8" font-weight="bold" text-anchor="middle">1</text>
<text x="1356.6" y="1546.6" font-size="31.8" font-weight="bold" text-anchor="middle">Local risk SNP m<tspan font-size="22.5" dy="-12.5" dx="0.5">6</tspan><tspan dy="12.5" dx="0.5">A</tspan> QTL <tspan font-family="Liberation Serif,DejaVu Serif,serif" font-weight="normal" font-size="34">β</tspan></text>
<text transform="translate(1106.5 1288) rotate(-90)" font-size="31.8" font-weight="bold" text-anchor="middle"><tspan font-size="23">–</tspan>log<tspan font-size="20" font-weight="normal" dy="5.5">10</tspan><tspan dy="-5.5"> P value</tspan></text>
<text x="1185.3" y="1113.6" font-size="31.4" font-weight="bold" fill="#00f">rs878987 <tspan font-size="25.1" dy="-4.1">|</tspan><tspan dy="4.1"> B3GAT1 </tspan><tspan font-size="25.1" dy="-4.1">|</tspan><tspan dy="4.1"> 13</tspan></text>
<text x="1215.7" y="1217" font-size="31.3" font-weight="bold" fill="#00f">rs708723 <tspan font-size="25" dy="-4.1">|</tspan><tspan dy="4.1"> RAB29 </tspan><tspan font-size="25" dy="-4.1">|</tspan><tspan dy="4.1"> 1</tspan></text>
<path d="M1215 1151.7h0M1228.3 1171.8h0M1240.2 1245.1h0M1272.5 1262.5h0M1440.8 1285.1h0M1255.4 1297.7h0M1257 1299h0M1424.3 1304.8h0M1423.6 1310.3h0M1285.1 1310.3h0M1269 1326.5h0M1294.1 1352.6h0M1290.6 1358.4h0M1276.7 1360.4h0M1423.3 1360.7h0M1419.4 1361.3h0M1421.4 1366.8h0M1289.3 1369.4h0M1294.8 1371.7h0M1290.6 1374.9h0M1412.3 1383.3h0M1290.6 1384.3h0M1300.3 1389.1h0M1302.2 1390.4h0M1312.2 1394h0M1307.7 1395.9h0M1403.3 1399.1h0M1309.3 1400.7h0M1286.4 1401.1h0M1399.1 1402.4h0M1401.7 1404.9h0M1406.2 1406.9h0M1287.4 1409.8h0M1308.7 1411.4h0M1410.1 1412h0M1300.6 1413.7h0M1316.1 1413.7h0M1319.3 1416.9h0M1410.7 1418.2h0M1301.9 1420.8h0M1300.6 1423.3h0M1323.2 1423.3h0M1390.1 1423.3h0M1293.2 1426.3h0M1319.3 1426.3h0M1392.6 1426.3h0M1311.6 1428.8h0M1390.4 1430.8h0M1323.2 1431.7h0M1316.7 1433.4h0M1386.5 1434h0M1399.4 1434h0M1301.9 1435.6h0M1311.6 1435.6h0M1326.1 1437.2h0M1320 1438.9h0M1389.4 1440.5h0M1328.4 1442.1h0M1332.9 1442.7h0M1386.2 1444.3h0M1322.6 1444.7h0M1309.3 1446.3h0M1378.4 1449.5h0M1396.2 1449.5h0M1310.9 1450.2h0M1334.2 1450.2h0M1329.7 1451.8h0M1376.5 1452.7h0M1388.1 1453.4h0M1334.2 1455h0M1320.6 1455.6h0M1398.1 1455h0M1337.4 1457.3h0M1327.4 1459.2h0M1395.6 1458.2h0M1370.7 1459.8h0M1380 1459.8h0M1340.6 1462.1h0M1331.3 1461.5h0M1392.3 1463.1h0M1369.1 1463.7h0M1343.2 1465.7h0M1385.5 1466.3h0M1366.8 1466.9h0M1345.8 1468.6h0M1375.9 1469.5h0M1339.7 1467.9h0M1365.2 1471.1h0M1348.4 1471.8h0M1350.7 1474.4h0M1362 1474.4h0M1353.2 1476.6h0M1358.7 1476.6h0M1355.8 1478.3h0M1366.8 1476h0M1344.2 1472.8h0" fill="none" stroke="#000" stroke-width="8.2" stroke-linecap="round"/>
<circle cx="1217.3" cy="1125.9" r="4.8" fill="#00f"/>
<circle cx="1262.5" cy="1186.9" r="4.8" fill="#00f"/>
<text x="1609" y="1068.4" font-size="31.2" font-weight="bold">j</text>
<rect x="1711.9" y="1104.8" width="36.8" height="367.8" fill="#fff" stroke="#000" stroke-width="1.4"/>
<rect x="1748.6" y="1332.7" width="36.8" height="139.9" fill="#fff" stroke="#000" stroke-width="1.4"/>
<rect x="1785.4" y="1334" width="36.8" height="138.6" fill="#fff" stroke="#000" stroke-width="1.4"/>
<rect x="1822.1" y="1353" width="36.8" height="119.6" fill="#fff" stroke="#000" stroke-width="1.4"/>
<rect x="1858.9" y="1338.8" width="37.1" height="133.8" fill="#fff" stroke="#000" stroke-width="1.4"/>
<rect x="1895.9" y="1375.6" width="36.4" height="97" fill="#fff" stroke="#000" stroke-width="1.4"/>
<rect x="1932.4" y="1366.2" width="37.1" height="106.4" fill="#fff" stroke="#000" stroke-width="1.4"/>
<rect x="1969.4" y="1369.8" width="36.4" height="102.8" fill="#fff" stroke="#000" stroke-width="1.4"/>
<rect x="2005.9" y="1359.1" width="37.1" height="113.5" fill="#fff" stroke="#000" stroke-width="1.4"/>
<rect x="2042.9" y="1350.8" width="36.8" height="121.9" fill="#fff" stroke="#000" stroke-width="1.4"/>
<rect x="2079.7" y="1315" width="37.1" height="157.6" fill="#fff" stroke="#000" stroke-width="1.4"/>
<line x1="1711.9" y1="1071.6" x2="1711.9" y2="1472.6" stroke="#000" stroke-width="1.4"/>
<text x="1701.5" y="1081" font-size="31.8" font-weight="bold" text-anchor="end">25</text>
<text x="1701.5" y="1161.6" font-size="31.8" font-weight="bold" text-anchor="end">20</text>
<text x="1701.5" y="1241.2" font-size="31.8" font-weight="bold" text-anchor="end">15</text>
<text x="1701.5" y="1321.2" font-size="31.8" font-weight="bold" text-anchor="end">10</text>
<text x="1701.5" y="1401.8" font-size="31.8" font-weight="bold" text-anchor="end">5</text>
<text x="1701.5" y="1481.7" font-size="31.8" font-weight="bold" text-anchor="end">0</text>
<text x="1713.8" y="1504.2" font-size="31.8" font-weight="bold" text-anchor="middle">0</text>
<text x="1782.1" y="1504.2" font-size="31.8" font-weight="bold" text-anchor="middle">2000</text>
<text x="1867.6" y="1504.2" font-size="31.8" font-weight="bold" text-anchor="middle">4000</text>
<text x="1949.1" y="1504.2" font-size="31.8" font-weight="bold" text-anchor="middle">6000</text>
<text x="2027.1" y="1504.2" font-size="31.8" font-weight="bold" text-anchor="middle">8000</text>
<text x="2115.8" y="1504.2" font-size="31.8" font-weight="bold" text-anchor="middle">10000</text>
<text x="1912.4" y="1537.4" font-size="31.8" font-weight="bold" text-anchor="middle">Distance</text>
<text transform="translate(1660.9 1282.6) rotate(-90)" font-size="31.8" font-weight="bold" text-anchor="middle">Percent</text>
<text x="17.5" y="1629.2" font-size="31.2" font-weight="bold">i</text>
<rect x="158.8" y="1698.4" width="35.3" height="266.4" fill="#fff" stroke="#000" stroke-width="2.4"/>
<rect x="194.1" y="1666.2" width="36" height="298.6" fill="#fff" stroke="#000" stroke-width="2.4"/>
<rect x="230.1" y="1668.3" width="35.6" height="296.5" fill="#fff" stroke="#000" stroke-width="2.4"/>
<rect x="265.7" y="1636.5" width="35.3" height="328.4" fill="#fff" stroke="#000" stroke-width="2.4"/>
<rect x="301" y="1638.2" width="36" height="326.6" fill="#fff" stroke="#000" stroke-width="2.4"/>
<rect x="337" y="1643.4" width="35.6" height="321.5" fill="#fff" stroke="#000" stroke-width="2.4"/>
<rect x="372.7" y="1634" width="35.6" height="330.8" fill="#fff" stroke="#000" stroke-width="2.4"/>
<rect x="408.3" y="1632.3" width="35.6" height="332.5" fill="#fff" stroke="#000" stroke-width="2.4"/>
<rect x="443.9" y="1623.7" width="35.6" height="341.2" fill="#fff" stroke="#000" stroke-width="2.4"/>
<rect x="479.6" y="1617.8" width="35.6" height="347.1" fill="#fff" stroke="#000" stroke-width="2.4"/>
<line x1="154" y1="1964.8" x2="520.1" y2="1964.8" stroke="#000" stroke-width="2.5"/>
<line x1="134.3" y1="1592.9" x2="134.3" y2="1990.8" stroke="#000" stroke-width="2.5"/>
<line x1="133.3" y1="1989.8" x2="539.8" y2="1989.8" stroke="#000" stroke-width="2.5"/>
<text x="121.8" y="1654.2" font-size="31.8" font-weight="bold" text-anchor="end">10</text>
<text x="121.8" y="1718.9" font-size="31.8" font-weight="bold" text-anchor="end">8</text>
<text x="121.8" y="1782.2" font-size="31.8" font-weight="bold" text-anchor="end">6</text>
<text x="121.8" y="1846.2" font-size="31.8" font-weight="bold" text-anchor="end">4</text>
<text x="121.8" y="1910.2" font-size="31.8" font-weight="bold" text-anchor="end">2</text>
<text x="121.8" y="1973.6" font-size="31.8" font-weight="bold" text-anchor="end">0</text>
<text x="162.6" y="2014.3" font-size="31.8" font-weight="bold" text-anchor="middle">0.0</text>
<text x="234.6" y="2014.3" font-size="31.8" font-weight="bold" text-anchor="middle">0.2</text>
<text x="305.5" y="2014.3" font-size="31.8" font-weight="bold" text-anchor="middle">0.4</text>
<text x="376.5" y="2014.3" font-size="31.8" font-weight="bold" text-anchor="middle">0.6</text>
<text x="447.4" y="2014.3" font-size="31.8" font-weight="bold" text-anchor="middle">0.8</text>
<text x="520.1" y="2014.3" font-size="31.8" font-weight="bold" text-anchor="middle">1.0</text>
<text x="333.4" y="2050.4" font-size="31.8" font-weight="bold" text-anchor="middle">Spatial risk SNP m<tspan font-size="22.5" dy="-12.5" dx="0.5">6</tspan><tspan dy="12.5" dx="0.5">A</tspan> QTL P value</text>
<text transform="translate(73.4 1778.5) rotate(-90)" font-size="31.8" font-weight="bold" text-anchor="middle">Percent</text>
<line x1="625.6" y1="1593.3" x2="625.6" y2="1989.9" stroke="#000" stroke-width="2.5"/>
<line x1="624.6" y1="1988.9" x2="1030.2" y2="1988.9" stroke="#000" stroke-width="2.5"/>
<text x="616.9" y="1607.7" font-size="31.8" font-weight="bold" text-anchor="end">4</text>
<text x="616.9" y="1703.4" font-size="31.8" font-weight="bold" text-anchor="end">3</text>
<text x="616.9" y="1801" font-size="31.8" font-weight="bold" text-anchor="end">2</text>
<text x="616.9" y="1899.5" font-size="31.8" font-weight="bold" text-anchor="end">1</text>
<text x="616.9" y="1998.3" font-size="31.8" font-weight="bold" text-anchor="end">0</text>
<text x="618.5" y="2020.2" font-size="31.8" font-weight="bold" text-anchor="middle">-1</text>
<text x="812.9" y="2020.2" font-size="31.8" font-weight="bold" text-anchor="middle">0</text>
<text x="1026" y="2020.2" font-size="31.8" font-weight="bold" text-anchor="middle">1</text>
<text x="826" y="2055" font-size="31.8" font-weight="bold" text-anchor="middle">Spatial risk SNP m<tspan font-size="22.5" dy="-12.5" dx="0.5">6</tspan><tspan dy="12.5" dx="0.5">A</tspan> QTL <tspan font-family="Liberation Serif,DejaVu Serif,serif" font-weight="normal" font-size="34">β</tspan></text>
<text transform="translate(585 1788.5) rotate(-90)" font-size="31.8" font-weight="bold" text-anchor="middle"><tspan font-size="23">–</tspan>log<tspan font-size="20" font-weight="normal" dy="5.5">10</tspan><tspan dy="-5.5"> P value</tspan></text>
<path d="M761.7 1713.1h0M759.6 1723.6h0M730.9 1738.9h0M765.1 1739.3h0M762.4 1749.9h0M763.6 1755.4h0M765.6 1758h0M698.2 1767.7h0M698.7 1778.2h0M769.6 1773.2h0M771.6 1777.4h0M773.3 1780.9h0M767.7 1784.1h0M768.8 1790.6h0M748.3 1802.7h0M753.1 1807.6h0M750.4 1817.3h0M762.4 1817.6h0M765.6 1817.6h0M765.1 1828.6h0M756.7 1835.8h0M757.8 1840.7h0M760.3 1844.7h0M768 1840.3h0M764.3 1854.9h0M770.4 1851.2h0M765.6 1862.5h0M768 1868.9h0M769.6 1873.8h0M772.8 1878.6h0M735.4 1863.8h0M740.2 1868.9h0M754 1899.6h0M759.6 1902.8h0M761.5 1908.5h0M760.7 1913.3h0M768.5 1913.3h0M765.6 1919h0M768 1923.8h0M769.6 1927.9h0M774.5 1929.5h0M782.1 1928.3h0M782.1 1941.6h0M785 1940h0M783.3 1944.8h0M786.1 1948.9h0M790.3 1953.7h0M794.6 1957.7h0M797.6 1961.8h0M802.7 1967.4h0M896.9 1696.1h0M888.6 1705.8h0M896.4 1704.2h0M895.7 1713.9h0M897.7 1726.3h0M894 1728.4h0M888.3 1736.8h0M894.8 1735.7h0M898.8 1746.2h0M892.3 1747h0M881.8 1753.5h0M886.7 1755.4h0M890.7 1755.9h0M880.2 1760.3h0M887.8 1770.7h0M914.5 1771.6h0M913.8 1777.4h0M898 1777.7h0M885.9 1778.5h0M882.6 1783.3h0M887.5 1790.9h0M943.7 1792.7h0M908 1795.9h0M874.9 1795h0M901.5 1820h0M889.4 1826.1h0M864.4 1834.2h0M898.8 1835.5h0M896.4 1841.5h0M891.9 1845.2h0M928.3 1842.8h0M891.5 1856.8h0M918.5 1859.4h0M888.3 1864.1h0M886.7 1868.1h0M884.3 1875.4h0M881.8 1883.5h0M904.9 1888.3h0M881 1930h0M875.9 1937.5h0M873 1941.6h0M868.9 1942.4h0M871.3 1946.4h0M864.1 1951.3h0M862.5 1955.3h0M914.3 1768.5h0M911.7 1769h0M895.3 1770.7h0M895.8 1774.4h0M892.4 1776.4h0M889.7 1776.8h0M901.7 1777.6h0M908.8 1777.8h0M906 1781.2h0M898 1781.5h0M914.9 1782h0M919.5 1782.5h0M754.6 1783.6h0M912.2 1784.9h0M758.5 1785.3h0M897.4 1786.5h0M912.8 1787.3h0M887.9 1788.1h0M884.8 1789.6h0M891.9 1789.7h0M904.8 1790.3h0M912.3 1791.7h0M890.8 1792.2h0M883.4 1792.4h0M889 1792.6h0M763.2 1792.8h0M898 1793.1h0M890.6 1793.2h0M897.8 1793.9h0M895.5 1794.3h0M896.3 1795.2h0M882.9 1796h0M894.3 1796.3h0M763.4 1796.3h0M914.8 1796.7h0M889.4 1796.9h0M758.8 1798.8h0M757.4 1798.8h0M915.4 1798.8h0M899.1 1798.9h0M886.7 1799h0M761.3 1799.1h0M895.7 1799.3h0M923.1 1800.4h0M907.7 1800.7h0M897.8 1800.8h0M754.5 1801.2h0M738.5 1801.3h0M903.9 1801.6h0M883.5 1802.1h0M769.2 1803.1h0M890.2 1803.3h0M762.7 1803.5h0M886.1 1805.1h0M768.7 1805.2h0M773.4 1805.4h0M750.4 1805.4h0M895.4 1805.5h0M891.6 1805.7h0M763.4 1806h0M902.7 1807.5h0M902.3 1807.8h0M771 1808h0M887.2 1808.2h0M901.5 1808.2h0M759 1808.5h0M763.2 1808.8h0M908.3 1809.1h0M882.5 1809.1h0M766.9 1809.7h0M763.4 1810.3h0M905.5 1810.6h0M881.5 1811h0M761.6 1811.1h0M891.2 1811.4h0M888.1 1812h0M751.9 1812.2h0M882.7 1812.3h0M763.4 1812.5h0M730.2 1813h0M880.8 1813.5h0M888.9 1813.5h0M773.7 1814.2h0M756.9 1814.3h0M769.6 1814.4h0M886.5 1814.6h0M883.5 1814.9h0M894.5 1815.7h0M769 1816h0M885.1 1817.4h0M886.9 1817.5h0M766.3 1818h0M884.7 1818h0M891.8 1818.2h0M771 1818.3h0M898.5 1818.8h0M762.2 1819.1h0M771.4 1819.7h0M879.3 1820.3h0M765.4 1821.5h0M884.9 1821.5h0M887.8 1821.8h0M878.5 1822h0M760 1822.4h0M755.5 1822.7h0M774.5 1822.9h0M897.5 1823.2h0M906.2 1823.4h0M894.3 1823.4h0M758.4 1823.7h0M775.9 1823.8h0M880 1824.3h0M768.5 1824.5h0M757.8 1824.6h0M882.2 1824.7h0M884.5 1825.1h0M764 1825.4h0M875.8 1825.5h0M876.4 1825.7h0M881.5 1825.9h0M884.5 1826h0M902.8 1826.3h0M893.8 1826.4h0M891.4 1826.9h0M773.5 1827h0M878.4 1827.2h0M770.2 1827.4h0M875.6 1827.6h0M884.8 1827.6h0M893.5 1827.9h0M777.6 1828h0M773.8 1828.3h0M874.5 1828.7h0M745 1828.7h0M887.8 1828.7h0M768.8 1828.8h0M773.4 1828.9h0M892 1829.4h0M914 1829.6h0M765.1 1829.7h0M888.9 1829.8h0M756.6 1830.2h0M761.1 1830.5h0M878.3 1830.5h0M904.3 1830.6h0M768.2 1830.6h0M775 1830.7h0M880 1830.8h0M881.2 1830.9h0M763.6 1831.1h0M780.1 1831.1h0M882.9 1831.2h0M773.6 1831.4h0M886.6 1831.5h0M778.9 1831.5h0M888.8 1831.6h0M882.1 1832.1h0M746.6 1832.2h0M886.6 1832.4h0M889.9 1832.8h0M775.7 1832.8h0M764.7 1832.9h0M770.2 1833h0M874.6 1833.1h0M875.5 1833.3h0M897.5 1833.6h0M885.9 1834h0M880.5 1834h0M902.8 1834h0M874.3 1834.2h0M876.7 1834.7h0M895.4 1834.8h0M763.8 1834.8h0M890.5 1834.9h0M773 1835h0M747.1 1835.3h0M874.4 1835.4h0M776.8 1835.4h0M873.2 1835.7h0M878.7 1835.8h0M876.1 1836h0M763.7 1836.1h0M883.1 1836.2h0M893.3 1836.4h0M762.3 1836.4h0M779.3 1836.5h0M873.1 1836.6h0M885.3 1836.8h0M880.2 1837h0M781.5 1837.3h0M773.9 1837.5h0M887.6 1837.6h0M877.1 1837.7h0M872.7 1838h0M888.7 1838.2h0M881.8 1838.3h0M779.2 1838.4h0M872.2 1838.7h0M889.1 1838.7h0M877.3 1839.2h0M881.8 1839.7h0M773.2 1839.8h0M884.9 1839.9h0M876.3 1840h0M888.6 1840.3h0M766.8 1841h0M886.3 1841.2h0M879.6 1841.3h0M770.7 1841.4h0M874.7 1841.5h0M781.3 1841.7h0M775.2 1842h0M772.6 1842.1h0M883.1 1842.1h0M877.5 1842.1h0M769.5 1842.2h0M886 1842.4h0M775.5 1842.8h0M782.3 1843h0M880.2 1843h0M874.6 1843h0M883.5 1843h0M780.9 1843.2h0M920.5 1844h0M777.6 1844h0M871.8 1844.3h0M884.4 1844.4h0M878.5 1844.5h0M770.1 1844.5h0M778.1 1844.8h0M897.3 1844.9h0M873.1 1845h0M887.1 1845.1h0M779.1 1845.2h0M877.7 1845.2h0M771.7 1845.3h0M886 1845.7h0M780.4 1845.9h0M892.6 1846.1h0M875.4 1846.3h0M768.4 1846.4h0M873 1846.6h0M774.5 1846.7h0M876.8 1846.8h0M784 1847.2h0M757.6 1847.3h0M777.6 1847.3h0M755.6 1847.3h0M870.6 1847.6h0M872.9 1847.8h0M775.1 1848h0M883.1 1848.3h0M869.9 1848.3h0M872.4 1848.8h0M762.6 1848.9h0M883.9 1848.9h0M763.7 1849h0M784 1849.2h0M781.2 1849.3h0M871.3 1849.5h0M873.8 1849.7h0M775.3 1849.8h0M880.3 1849.8h0M887.1 1850h0M779.4 1850.1h0M882.8 1850.2h0M877.7 1850.3h0M882.8 1850.7h0M880.1 1850.7h0M779.4 1850.8h0M876.3 1850.9h0M870.2 1851.5h0M770.4 1851.6h0M888.4 1851.7h0M871.7 1851.8h0M763.5 1852h0M779.5 1852h0M875.7 1852h0M886.1 1852.1h0M869.7 1852.2h0M781.7 1852.2h0M869.1 1852.3h0M759.7 1852.4h0M778.2 1852.6h0M883.3 1852.7h0M775 1852.7h0M767.8 1852.8h0M784.1 1853h0M881.5 1853.1h0M874.7 1853.6h0M768.9 1853.7h0M780.3 1853.8h0M874.4 1853.9h0M870.7 1853.9h0M784 1854h0M896.5 1854h0M776.7 1854.1h0M785.2 1854.2h0M880.3 1854.2h0M891.9 1854.2h0M772.9 1854.2h0M887.1 1854.2h0M785.6 1854.4h0M875.6 1854.6h0M772 1854.8h0M774.9 1854.8h0M784.3 1854.9h0M887.5 1855.1h0M872.3 1855.1h0M882.8 1855.1h0M767.4 1855.3h0M770.8 1855.7h0M780.5 1855.7h0M875.6 1855.8h0M782.5 1855.9h0M761.3 1855.9h0M877.6 1855.9h0M869.2 1856h0M871.5 1856.2h0M884 1856.3h0M898.5 1856.3h0M774.2 1856.6h0M784.2 1856.6h0M768.1 1856.6h0M871.9 1856.7h0M775.2 1856.7h0M882.8 1856.7h0M776.9 1856.8h0M779.9 1856.8h0M868.5 1856.9h0M878.6 1857.3h0M881.2 1857.8h0M780.9 1857.8h0M872.5 1857.9h0M883.6 1857.9h0M769.8 1858h0M887.6 1858.1h0M878.9 1858.2h0M763.1 1858.2h0M784.2 1858.5h0M868.2 1858.5h0M874.4 1858.5h0M772.8 1858.7h0M780.5 1858.7h0M785 1858.7h0M774.5 1858.8h0M874.5 1858.9h0M880.1 1859.1h0M781 1859.5h0M880.5 1859.6h0M779.9 1859.6h0M877.7 1859.8h0M872.1 1859.8h0M894.1 1859.8h0M870.7 1860h0M775 1860h0M770.1 1860.1h0M787 1860.1h0M783.4 1860.1h0M867.2 1860.2h0M874.5 1860.3h0M759.3 1860.4h0M884.1 1860.5h0M775.3 1860.5h0M876.4 1861.1h0M776 1861.1h0M786.7 1861.1h0M870.8 1861.2h0M867.5 1861.3h0M785.2 1861.6h0M781.8 1861.6h0M787.1 1861.7h0M873.8 1861.7h0M867 1861.7h0M780.2 1861.9h0M764.3 1861.9h0M881.3 1862h0M773.5 1862h0M890 1862.2h0M872.1 1862.5h0M869.2 1862.7h0M768.5 1862.7h0M876 1862.7h0M873.5 1862.9h0M777.3 1863h0M784.1 1863h0M877.3 1863.1h0M759.1 1863.2h0M868.1 1863.3h0M866.7 1863.4h0M866.5 1863.7h0M779.1 1863.8h0M882.7 1863.8h0M787.2 1863.9h0M869.7 1863.9h0M768.8 1864h0M782.7 1864h0M873.5 1864.2h0M879.3 1864.4h0M870.5 1864.7h0M766.2 1864.7h0M873.2 1864.8h0M763.9 1864.9h0M779.1 1865h0M897.6 1865.1h0M893.9 1865.3h0M753.4 1865.3h0M776 1865.3h0M875.4 1865.4h0M780.9 1865.4h0M784.6 1865.6h0M876.3 1865.6h0M866.9 1865.6h0M771.3 1865.7h0M787.6 1865.7h0M866.3 1865.7h0M773.8 1865.9h0M870.7 1865.9h0M779.3 1866.3h0M880.8 1866.4h0M868.7 1866.5h0M788.2 1866.6h0M774.3 1866.6h0M876.2 1866.6h0M867.4 1866.8h0M874.6 1866.8h0M775.9 1866.8h0M784 1867h0M789.2 1867.3h0M778.6 1867.3h0M865.7 1867.4h0M870.5 1867.5h0M880.9 1867.6h0M772.7 1867.7h0M780.1 1867.7h0M787 1867.8h0M865.6 1867.9h0M777.2 1867.9h0M782 1868.1h0M874.8 1868.1h0M868.2 1868.1h0M876.1 1868.6h0M880.8 1868.7h0M868.9 1868.8h0M887.7 1869h0M780.9 1869h0M882.2 1869h0M875.7 1869h0M872.8 1869.1h0M785.8 1869.2h0M864.7 1869.2h0M788.6 1869.4h0M864.4 1869.4h0M776.7 1869.5h0M865.7 1869.7h0M875.6 1869.8h0M780.1 1869.8h0M773.3 1869.9h0M789.9 1869.9h0M867.9 1870h0M871.6 1870h0M781.3 1870.1h0M864.4 1870.7h0M784.5 1870.8h0M870.3 1870.8h0M786.5 1870.8h0M775.4 1870.9h0M877.5 1871h0M782.8 1871h0M879 1871.3h0M871.5 1871.5h0M874.4 1871.6h0M879.1 1871.8h0M865.2 1871.8h0M781 1871.9h0M868 1872h0M790.3 1872.1h0M777.3 1872.3h0M783.6 1872.3h0M863.8 1872.3h0M786.8 1872.5h0M775.6 1872.6h0M889.3 1872.6h0M874.9 1872.7h0M870.7 1872.8h0M866.9 1872.8h0M790.5 1872.8h0M864.3 1873h0M879.9 1873.1h0M768.2 1873.3h0M785.6 1873.3h0M778.2 1873.4h0M890 1873.5h0M874.6 1873.5h0M787.7 1873.7h0M782.9 1873.7h0M790.8 1873.8h0M780.1 1873.8h0M777.3 1873.8h0M867.9 1873.8h0M865.5 1874h0M762.5 1874h0M875.1 1874.2h0M879.4 1874.3h0M871.4 1874.4h0M886.7 1874.6h0M788.1 1874.8h0M869.1 1874.8h0M785.1 1874.9h0M876.3 1875.1h0M863.5 1875.1h0M790.3 1875.3h0M863 1875.5h0M869.6 1875.6h0M790.5 1875.7h0M864.4 1875.8h0M785.1 1875.9h0M876.8 1875.9h0M791.1 1875.9h0M867.6 1876h0M871.2 1876h0M783 1876.1h0M775.2 1876.3h0M883.1 1876.4h0M766.3 1876.4h0M791.2 1876.5h0M874.7 1876.7h0M782.9 1876.7h0M786.7 1876.7h0M867.2 1876.7h0M882.4 1876.9h0M781.8 1876.9h0M871.5 1876.9h0M863 1876.9h0M790.6 1877h0M786.3 1877.6h0M782.9 1877.8h0M873.9 1877.8h0M862.5 1878h0M870.3 1878.1h0M776.2 1878.2h0M791.9 1878.2h0M866.3 1878.2h0M875.1 1878.4h0M787.4 1878.4h0M778.4 1878.5h0M873.8 1878.7h0M869.1 1878.8h0M784 1878.8h0M780.6 1878.9h0M862.1 1878.9h0M864.7 1878.9h0M787.4 1878.9h0M790.5 1879h0M877.8 1879h0M884.8 1879.1h0M774.3 1879.1h0M890.8 1879.5h0M777.9 1879.5h0M791.5 1879.6h0M862.2 1879.6h0M871.7 1879.6h0M785 1879.7h0M768.4 1879.8h0M866.8 1879.9h0M875.8 1880h0M792.1 1880.1h0M789.3 1880.2h0M777.1 1880.4h0M864.5 1880.5h0M862.5 1880.6h0M867 1880.8h0M785 1880.8h0M869.8 1880.9h0M790.3 1881h0M875.2 1881.2h0M773.8 1881.4h0M772.2 1881.5h0M861.5 1881.5h0M778.6 1881.6h0M784.1 1881.7h0M873.8 1881.7h0M876.6 1881.8h0M793.1 1881.8h0M786.1 1881.8h0M866.7 1881.8h0M862.5 1881.9h0M869.6 1882h0M765.4 1882.2h0M790.4 1882.5h0M777.3 1882.5h0M861.8 1882.7h0M789.8 1882.7h0M875.2 1882.7h0M869.3 1882.7h0M877.6 1882.7h0M864.9 1882.8h0M777 1882.9h0M784.6 1883h0M871.9 1883.1h0M778.5 1883.1h0M792.5 1883.2h0M861.5 1883.3h0M861.3 1883.5h0M782.8 1883.5h0M788.2 1883.6h0M865.4 1883.6h0M883 1883.7h0M868 1883.8h0M791.8 1883.8h0M778.3 1883.8h0M785.9 1883.9h0M781.4 1883.9h0M771.5 1883.9h0M861.2 1884h0M872 1884.2h0M792.2 1884.3h0M793.2 1884.5h0M874.8 1884.6h0M860.6 1884.7h0M866.1 1884.7h0M792.9 1884.8h0M777.4 1884.9h0M785.2 1884.9h0M870.8 1885.1h0M793.8 1885.1h0M791.1 1885.1h0M788.6 1885.1h0M782.5 1885.4h0M879.2 1885.4h0M862.7 1885.4h0M793.6 1885.6h0M875.6 1885.7h0M864.9 1885.8h0M870 1885.8h0M780.4 1885.8h0M788.4 1885.8h0M861.3 1885.9h0M791 1885.9h0M785.5 1886h0M771.7 1886.1h0M882.2 1886.5h0M876.9 1886.6h0M864.7 1886.6h0M860.4 1886.6h0M875.7 1886.6h0M870.5 1886.7h0M783.2 1886.7h0M791.1 1886.8h0M794.2 1887h0M868.8 1887.1h0M883.4 1887.1h0M788.4 1887.1h0M771.7 1887.3h0M783.2 1887.4h0M780.9 1887.4h0M775 1887.4h0M871.2 1887.5h0M865.2 1887.6h0M786.4 1887.6h0M794.4 1887.6h0M781.9 1887.8h0M862.1 1887.8h0M873.8 1887.8h0M881.8 1887.9h0M859.5 1888h0M763.4 1888.1h0M866.7 1888.2h0M789.5 1888.2h0M794.9 1888.4h0M877.4 1888.5h0M868.1 1888.6h0M785.5 1888.6h0M874.2 1888.7h0M789.6 1888.7h0M869.9 1888.7h0M860.8 1888.9h0M771.9 1888.9h0M777.7 1888.9h0M859.2 1888.9h0M783.5 1889h0M877.7 1889.1h0M864.9 1889.1h0M791.6 1889.2h0M873.5 1889.5h0M866.4 1889.6h0M785.2 1889.6h0M879.8 1889.6h0M791.4 1889.7h0M861 1889.8h0M790.5 1889.9h0M875.5 1889.9h0M881 1889.9h0M795.3 1890h0M859.4 1890.1h0M863.2 1890.2h0M868.2 1890.2h0M858.9 1890.3h0M783 1890.3h0M779.7 1890.6h0M789.6 1890.6h0M794.8 1890.7h0M869.5 1890.7h0M859 1890.8h0M863.4 1890.8h0M865.7 1890.8h0M782 1891h0M786.2 1891h0M772 1891.2h0M777.7 1891.3h0M873.9 1891.3h0M791.4 1891.4h0M794.6 1891.7h0M795.5 1891.7h0M791 1891.8h0M870.3 1891.8h0M781 1891.8h0M788.1 1891.8h0M864.5 1891.9h0M861.3 1891.9h0M872.7 1892h0M878 1892.2h0M859.1 1892.3h0M858.4 1892.4h0M777.5 1892.4h0M785.3 1892.5h0M866 1892.5h0M793.5 1892.6h0M788.9 1892.8h0M861 1892.8h0M864.1 1892.9h0M795.9 1893h0M858.9 1893.1h0M786.2 1893.1h0M870.6 1893.2h0M873.3 1893.3h0M781.8 1893.4h0M858.2 1893.5h0M789.3 1893.7h0M782 1893.7h0M771.6 1893.7h0M871 1893.7h0M780.4 1893.9h0M794 1893.9h0M868 1893.9h0M796.1 1893.9h0M862.4 1894h0M785.2 1894h0M857.9 1894.1h0M790.3 1894.4h0M769.3 1894.7h0M865.9 1894.7h0M861.6 1894.8h0M780.2 1894.8h0M790.8 1894.8h0M858 1894.8h0M788.9 1894.8h0M795.2 1894.8h0M796.6 1894.9h0M869.4 1894.9h0M876 1895h0M784.3 1895.1h0M880.1 1895.1h0M871.9 1895.5h0M862.4 1895.5h0M783.9 1895.7h0M784.9 1895.7h0M862.4 1895.8h0M867.7 1895.8h0M788.7 1895.9h0M796.1 1895.9h0M873.2 1896h0M864.5 1896h0M793.2 1896h0M859.5 1896h0M780.3 1896h0M858.2 1896h0M774.1 1896.1h0M792.4 1896.6h0M857.5 1896.6h0M796 1896.6h0M797.2 1896.7h0M867.9 1896.8h0M862.3 1896.8h0M788.5 1896.8h0M871.1 1896.8h0M857.3 1896.8h0M784.6 1896.9h0M877.7 1896.9h0M768.1 1897h0M864.5 1897h0M781.7 1897.2h0M792.8 1897.4h0M872.6 1897.4h0M857.7 1897.5h0M786.5 1897.6h0M780.9 1897.7h0M879.4 1897.7h0M868.2 1897.7h0M793.1 1897.8h0M789.5 1897.9h0M870.5 1897.9h0M780.2 1898h0M861.1 1898h0M857.7 1898h0M795.4 1898.1h0M774.5 1898.3h0M783.9 1898.3h0M797.6 1898.4h0M879.6 1898.4h0M857 1898.6h0M864.6 1898.6h0M793.1 1898.7h0M869.6 1898.8h0M856.7 1898.8h0M787.8 1898.9h0M784.7 1898.9h0M797 1899h0M866.6 1899.1h0M861.4 1899.2h0M884.4 1899.2h0M856.2 1899.4h0M797.3 1899.5h0M797.7 1899.6h0M792.7 1899.6h0M858.8 1899.7h0M860.9 1899.8h0M790.7 1899.8h0M797.9 1900.1h0M868.7 1900.2h0M865.3 1900.2h0M871.7 1900.2h0M779.2 1900.3h0M771.7 1900.3h0M789.3 1900.4h0M856.1 1900.5h0M792.5 1900.5h0M776.8 1900.6h0M872.5 1900.6h0M784.3 1900.7h0M780 1900.7h0M860.6 1900.8h0M868.8 1900.8h0M790.2 1900.8h0M874.4 1900.8h0M858.1 1900.9h0M794.5 1900.9h0M862.5 1901.1h0M865.7 1901.1h0M797.5 1901.2h0M856.1 1901.4h0M875.9 1901.5h0M790.4 1901.6h0M794 1901.7h0M798.2 1901.7h0M782.4 1901.7h0M872.2 1901.7h0M859.7 1901.8h0M785.4 1901.8h0M863.9 1901.9h0M856.6 1901.9h0M798.6 1902h0M866.5 1902h0M787.6 1902.2h0M860.4 1902.6h0M856.4 1902.6h0M780.7 1902.6h0M875.6 1902.6h0M784.8 1902.6h0M795.1 1902.6h0M791.1 1902.7h0M798.9 1902.7h0M855.6 1902.7h0M787.7 1902.9h0M862.8 1902.9h0M867 1902.9h0M876.9 1903h0M855.2 1903.2h0M873.6 1903.2h0M867.1 1903.3h0M799 1903.3h0M792.2 1903.3h0M781 1903.4h0M857.1 1903.5h0M871.2 1903.6h0M792 1903.7h0M861.1 1903.7h0M786.2 1903.7h0M855.2 1903.8h0M866.6 1903.8h0M795.7 1903.8h0M799.1 1903.8h0M782.5 1904.1h0M875.1 1904.2h0M864.2 1904.2h0M859.1 1904.5h0M798.9 1904.6h0M795.9 1904.7h0M856.3 1904.8h0M792.5 1904.8h0M863.9 1904.8h0M860.8 1904.8h0M789.7 1904.8h0M785.3 1904.9h0M854.9 1904.9h0M867.2 1905.2h0M780.7 1905.3h0M869.6 1905.3h0M858.5 1905.5h0M787.4 1905.6h0M793.5 1905.6h0M799.4 1905.7h0M855.1 1905.7h0M861.5 1905.9h0M779 1905.9h0M789.7 1905.9h0M797.3 1906h0M864.5 1906h0M786 1906.3h0M854.9 1906.3h0M781.3 1906.3h0M872.1 1906.3h0M798.6 1906.6h0M867.2 1906.6h0M791.6 1906.6h0M796.2 1906.7h0M870.9 1906.7h0M860.8 1906.8h0M854.7 1906.8h0M863.9 1906.9h0M786.1 1906.9h0M799.4 1906.9h0M781.2 1906.9h0M858 1907h0M789.1 1907h0M793.2 1907.1h0M854.3 1907.2h0M854.2 1907.6h0M866.9 1907.7h0M793.8 1907.7h0M783.6 1907.7h0M860.8 1907.8h0M858.5 1907.8h0M789 1907.9h0M871 1908h0M797.5 1908.1h0M786.6 1908.2h0M865.1 1908.3h0M854.1 1908.3h0M793.6 1908.6h0M799.2 1908.6h0M800.3 1908.6h0M781.7 1908.6h0M868.7 1908.6h0M795.8 1908.8h0M858.8 1908.8h0M856.4 1908.9h0M790.1 1908.9h0M865.4 1909h0M787 1909.2h0M861.3 1909.2h0M870 1909.2h0M853.4 1909.3h0M794.2 1909.6h0M798.8 1909.6h0M862.9 1909.7h0M800.6 1909.7h0M857 1909.8h0M791 1909.8h0M788.1 1909.9h0M865.7 1910h0M860.1 1910.1h0M853.4 1910.1h0M875.6 1910.1h0M801 1910.2h0M795.1 1910.3h0M868 1910.3h0M784.5 1910.6h0M799 1910.7h0M856.1 1910.7h0M792.8 1910.7h0M873.2 1910.7h0M861.9 1910.8h0M865.6 1910.8h0M795.5 1910.8h0M782.9 1910.9h0M858.5 1910.9h0M853.7 1911h0M801.3 1911.1h0M787.1 1911.1h0M781.6 1911.3h0M791.9 1911.5h0M852.9 1911.7h0M801 1911.7h0M855 1911.7h0M860.1 1911.8h0M866.9 1911.8h0M796.8 1911.8h0M863.5 1911.9h0M794.1 1912h0M786.3 1912h0M872.8 1912.1h0M801.2 1912.3h0M777.2 1912.5h0M801.8 1912.5h0M784.2 1912.6h0M856.2 1912.6h0M868 1912.6h0M878 1912.6h0M852.8 1912.7h0M858.1 1912.7h0M801.8 1912.8h0M798.8 1912.8h0M788.7 1912.8h0M793.9 1912.9h0M862.9 1912.9h0M867.4 1913.1h0M860.2 1913.5h0M792.1 1913.5h0M796.1 1913.6h0M852.4 1913.6h0M862.5 1913.6h0M869 1913.7h0M856.4 1913.7h0M797.8 1913.8h0M793.9 1913.9h0M859.5 1914h0M865.9 1914h0M800.9 1914.1h0M802.3 1914.1h0M871.6 1914.2h0M852.8 1914.3h0M791.7 1914.6h0M852.4 1914.7h0M802.1 1914.7h0M796.8 1914.7h0M857.1 1914.8h0M787.1 1914.8h0M863.1 1914.8h0M869.2 1914.9h0M793.6 1914.9h0M860 1915.1h0M865.2 1915.1h0M781.3 1915.1h0M779.3 1915.2h0M851.8 1915.3h0M802.7 1915.4h0M800.2 1915.5h0M852.5 1915.6h0M857.9 1915.7h0M863.2 1915.7h0M794.8 1915.7h0M787.4 1915.8h0M870.9 1915.8h0M802.1 1915.8h0M868 1915.9h0M854.7 1915.9h0M797.5 1916h0M851.4 1916h0M791.5 1916.1h0M875.1 1916.1h0M785.7 1916.2h0M802.7 1916.5h0M790.5 1916.6h0M860.6 1916.6h0M851.5 1916.6h0M866.1 1916.7h0M803 1916.7h0M855.1 1916.7h0M857.8 1916.8h0M793.7 1916.8h0M797.1 1916.8h0M799.7 1916.9h0M788.1 1916.9h0M861.8 1917.4h0M851.1 1917.4h0M784.9 1917.4h0M851.2 1917.7h0M795.1 1917.7h0M802 1917.7h0M862.2 1917.8h0M855.8 1917.8h0M790.5 1917.8h0M799.2 1917.9h0M803.3 1918h0M864.3 1918.1h0M858.2 1918.2h0M851 1918.4h0M796.4 1918.6h0M853.7 1918.6h0M802.1 1918.7h0M851.1 1918.8h0M865.3 1918.8h0M795.4 1918.8h0M855.5 1918.9h0M789.3 1919h0M783.7 1919h0M858.1 1919.1h0M799.1 1919.1h0M803.3 1919.2h0M859.9 1919.5h0M786.6 1919.5h0M789.8 1919.6h0M854 1919.7h0M850.5 1919.7h0M799.2 1919.7h0M858.2 1919.8h0M803.9 1919.8h0M792.7 1919.9h0M796.2 1919.9h0M804.1 1920.3h0M783 1920.4h0M863.2 1920.4h0M854.1 1920.5h0M851.3 1920.6h0M792.6 1920.6h0M801.9 1920.7h0M862.1 1920.7h0M858 1920.8h0M796.7 1920.8h0M850 1920.8h0M788.5 1921h0M854.8 1921h0M865.1 1921.3h0M804.6 1921.4h0M849.8 1921.5h0M797.9 1921.5h0M793.8 1921.6h0M789.1 1921.7h0M851.9 1921.7h0M803 1921.7h0M856.1 1921.7h0M863.9 1921.8h0M799.7 1921.8h0M861 1921.9h0M804.3 1922h0M787.9 1922h0M793 1922.2h0M849.5 1922.4h0M860.1 1922.5h0M797.2 1922.6h0M863.7 1922.6h0M854.3 1922.6h0M856.9 1922.7h0M850 1922.7h0M804.5 1922.7h0M800.1 1922.8h0M804.8 1922.8h0M793.3 1923h0M865 1923.1h0M860.4 1923.1h0M805 1923.2h0M849.5 1923.4h0M851.9 1923.5h0M800.1 1923.5h0M796.7 1923.7h0M791.4 1923.7h0M856.9 1923.8h0M850.2 1923.8h0M804.5 1923.8h0M862.1 1923.9h0M853.8 1923.9h0M849 1923.9h0M799.5 1923.9h0M789 1924h0M793.4 1924h0M787.4 1924.2h0M805.4 1924.4h0M848.9 1924.5h0M860.5 1924.5h0M801.4 1924.6h0M858.9 1924.7h0M852.1 1924.7h0M805.4 1924.7h0M796.8 1924.8h0M856.1 1924.8h0M848.7 1924.8h0M794.8 1925h0M863.3 1925h0M867.7 1925.1h0M804.7 1925.4h0M798.2 1925.5h0M793.1 1925.6h0M848.8 1925.6h0M851 1925.7h0M804.1 1925.7h0M855.1 1925.7h0M861.7 1925.8h0M795.3 1925.8h0M800.3 1925.8h0M805.5 1925.9h0M868.9 1926.1h0M792.6 1926.2h0M848.4 1926.3h0M859.6 1926.4h0M788.8 1926.5h0M800.5 1926.6h0M853.5 1926.6h0M855.3 1926.7h0M797.6 1926.7h0M805.4 1926.7h0M803.2 1926.8h0M849.8 1926.8h0M848.5 1926.9h0M795.6 1926.9h0M858.6 1926.9h0M805.7 1927h0M863.3 1927.1h0M789.4 1927.1h0M801.5 1927.6h0M850.7 1927.6h0M848.5 1927.6h0M806 1927.6h0M852.9 1927.7h0M859.7 1927.7h0M795.9 1927.7h0M855.9 1927.8h0M867.6 1927.8h0M848.1 1927.9h0M806.5 1927.9h0M864 1927.9h0M793 1928.2h0M801.8 1928.3h0M848.1 1928.5h0M796.2 1928.6h0M799.3 1928.7h0M860.4 1928.7h0M806.4 1928.7h0M852.9 1928.7h0M847.7 1928.8h0M857.6 1928.9h0M801.4 1928.9h0M806.9 1929.1h0M866.8 1929.3h0M847.4 1929.4h0M793.8 1929.4h0M853.1 1929.5h0M861.4 1929.6h0M798.6 1929.6h0M804.4 1929.6h0M847.2 1929.7h0M806.9 1929.7h0M850.7 1929.7h0M795.1 1929.7h0M802.6 1930h0M858.2 1930h0M864 1930.1h0M854.4 1930.1h0M850.1 1930.5h0M807 1930.5h0M798.7 1930.6h0M804.9 1930.7h0M853.2 1930.7h0M802.1 1930.7h0M848.2 1930.7h0M795.5 1930.8h0M856 1930.8h0M863.4 1930.8h0M858.4 1930.9h0M846.8 1930.9h0M793.1 1930.9h0M798.5 1931.2h0M807.6 1931.4h0M790.6 1931.5h0M851.4 1931.6h0M847.3 1931.6h0M859.8 1931.7h0M802 1931.7h0M855.9 1931.7h0M796.7 1931.8h0M846.5 1931.8h0M806.7 1931.8h0M794.2 1931.8h0M807.9 1932.1h0M851 1932.2h0M805.2 1932.5h0M846.5 1932.5h0M808.1 1932.5h0M799 1932.5h0M854.4 1932.6h0M800.8 1932.7h0M797.2 1932.8h0M852.1 1932.8h0M859.2 1932.8h0M846.8 1932.9h0M808.2 1932.9h0M804.8 1933.1h0M794.6 1933.2h0M846.3 1933.5h0M849.9 1933.5h0M857.7 1933.6h0M797 1933.7h0M859 1933.7h0M852.9 1933.7h0M846 1933.7h0M801.1 1933.7h0M806.2 1933.7h0M808 1933.8h0M849.7 1934h0M808.1 1934.5h0M804 1934.5h0M808.5 1934.6h0M853.1 1934.7h0M802 1934.7h0M846.2 1934.7h0M855 1934.7h0M850 1934.7h0M858.9 1934.7h0M795.3 1934.8h0M798.8 1934.8h0M805.9 1934.8h0M808.7 1934.9h0M845.4 1935.1h0M850 1935.5h0M809.1 1935.6h0M860.1 1935.6h0M797.4 1935.6h0M846 1935.7h0M855 1935.7h0M806.9 1935.7h0M794.1 1935.7h0M801.8 1935.8h0M845.2 1935.9h0M852 1935.9h0M809.2 1936.3h0M858.8 1936.4h0M796.8 1936.5h0M803.7 1936.5h0M845.5 1936.6h0M847.8 1936.6h0M800.1 1936.7h0M855.1 1936.7h0M807 1936.7h0M850 1936.8h0M803.5 1937h0M809.6 1937.2h0M845 1937.2h0M857.7 1937.4h0M797.7 1937.6h0M854 1937.6h0M849.1 1937.7h0M799.9 1937.7h0M857.7 1937.7h0M808 1937.7h0M846 1937.7h0M844.6 1937.8h0M803.8 1937.8h0M851.7 1937.9h0M809.6 1937.9h0M796 1938.1h0M794.8 1938.2h0M861.2 1938.3h0M810 1938.4h0M844.4 1938.5h0M799.7 1938.6h0M853.2 1938.6h0M806.6 1938.6h0M857.2 1938.6h0M845.8 1938.7h0M802 1938.7h0M850.1 1938.8h0M809.2 1938.8h0M844.3 1938.8h0M810.1 1939.1h0M797.4 1939.2h0M854.2 1939.4h0M805.4 1939.6h0M844.4 1939.6h0M849.4 1939.6h0M809.9 1939.7h0M847 1939.7h0M855.4 1939.8h0M801.1 1939.8h0M810.5 1939.8h0M798.7 1940h0M856.8 1940h0M851.8 1940.1h0M805 1940.2h0M796.8 1940.2h0M843.9 1940.3h0M808.7 1940.6h0M853.1 1940.7h0M849.2 1940.7h0M810.6 1940.7h0M846 1940.7h0M804.3 1940.8h0M801.1 1940.9h0M843.5 1941h0M797.1 1941.4h0M805 1941.5h0M853.2 1941.5h0M810.3 1941.6h0M811.1 1941.7h0M849.9 1941.7h0M846 1941.7h0M843.5 1941.8h0M808.3 1941.8h0M854.6 1941.9h0M800.4 1941.9h0M803.6 1942h0M796.6 1942.3h0M843.4 1942.5h0M811.2 1942.5h0M849.3 1942.6h0M804.7 1942.6h0M851.6 1942.7h0M846.1 1942.7h0M807.9 1942.7h0M811.5 1942.7h0M853.1 1943.1h0M798.4 1943.1h0M802.9 1943.1h0M811.6 1943.2h0M842.8 1943.3h0M807.5 1943.5h0M847.5 1943.6h0M811.7 1943.6h0M844 1943.7h0M850.8 1943.8h0M803.7 1943.8h0M799.8 1943.8h0M842.6 1944h0M808.2 1944.3h0M811.7 1944.4h0M801.4 1944.6h0M847.1 1944.6h0M799.5 1944.6h0M806 1944.7h0M855 1944.7h0M812.1 1944.7h0M843.9 1944.7h0M842.3 1944.7h0M855.9 1944.8h0M808.8 1944.8h0M849.8 1944.8h0M842.1 1945.3h0M846 1945.5h0M811.9 1945.6h0M804.3 1945.6h0M853.3 1945.6h0M842.1 1945.6h0M807.1 1945.7h0M812.6 1945.7h0M809.8 1945.7h0M848.2 1945.8h0M803.5 1946h0M850.9 1946.1h0M841.8 1946.1h0M812.7 1946.4h0M844.8 1946.5h0M842 1946.6h0M847 1946.7h0M807 1946.7h0M810 1946.7h0M853.3 1946.8h0M849.6 1946.8h0M803.6 1946.9h0M812.7 1946.9h0M841.5 1947.3h0M801 1947.3h0M846.5 1947.6h0M841.3 1947.6h0M813 1947.7h0M805 1947.7h0M810.1 1947.7h0M844.2 1947.8h0M849.5 1948h0M851.8 1948.3h0M853.5 1948.3h0M841.1 1948.3h0M809 1948.5h0M812.7 1948.6h0M841 1948.7h0M806 1948.7h0M799.7 1948.7h0M843.1 1948.7h0M802.3 1948.7h0M813.5 1948.7h0M847.3 1948.8h0M809.5 1948.9h0M851.2 1949.2h0M847.2 1949.5h0M840.9 1949.6h0M813.5 1949.6h0M803.6 1949.6h0M853.6 1949.6h0M811 1949.7h0M813.8 1949.7h0M843.9 1949.7h0M808.1 1949.7h0M849.3 1949.8h0M840.7 1949.9h0M840.3 1950.3h0M804.1 1950.4h0M814.1 1950.6h0M845.6 1950.6h0M849.3 1950.6h0M840.2 1950.7h0M810 1950.7h0M842.9 1950.7h0M813.3 1951h0M850.7 1951.1h0M806.7 1951.2h0M840 1951.3h0M803.6 1951.5h0M814.2 1951.5h0M844.5 1951.6h0M841 1951.7h0M807 1951.7h0M848.1 1951.7h0M809.8 1951.8h0M814.3 1951.8h0M814.6 1951.9h0M850.1 1952.1h0M840 1952.3h0M804.4 1952.4h0M814.9 1952.5h0M810.5 1952.6h0M840.5 1952.6h0M846.4 1952.6h0M813 1952.7h0M844.1 1952.7h0M839.5 1952.8h0M807.3 1952.8h0M815.1 1953.1h0M839.2 1953.5h0M849.2 1953.5h0M807.2 1953.6h0M805.2 1953.6h0M839.6 1953.6h0M811 1953.7h0M844 1953.7h0M814 1953.7h0M846.9 1953.9h0M839.2 1954h0M815.1 1954.1h0M807 1954.3h0M804.8 1954.4h0M838.9 1954.5h0M842.4 1954.6h0M815.5 1954.6h0M849.5 1954.6h0M812 1954.7h0M815.7 1954.8h0M809 1954.8h0M846.1 1954.8h0M838.8 1955h0M806.6 1955.1h0M838.8 1955.5h0M846.4 1955.6h0M813.3 1955.6h0M815.8 1955.6h0M841 1955.7h0M808.8 1955.7h0M838.4 1955.8h0M844.5 1955.9h0M806.5 1956h0M816 1956.2h0M838.2 1956.3h0M812.1 1956.5h0M846.7 1956.6h0M838.1 1956.7h0M816 1956.7h0M848.2 1956.7h0M843.9 1956.7h0M809.6 1956.8h0M840.9 1956.8h0M816.5 1957h0M837.9 1957.2h0M815 1957.5h0M816.6 1957.5h0M808.6 1957.6h0M813.1 1957.7h0M839 1957.7h0M841.9 1957.8h0M816.8 1957.8h0M844.5 1957.9h0M837.6 1958h0M808.7 1958.3h0M811.5 1958.5h0M816.8 1958.6h0M837.3 1958.6h0M813.9 1958.7h0M843.8 1958.7h0M840.7 1958.8h0M817.2 1958.9h0M837.3 1959h0M810.1 1959.2h0M845.3 1959.3h0M837.1 1959.5h0M816.6 1959.6h0M812 1959.7h0M840.9 1959.7h0M809.5 1959.7h0M807.2 1959.8h0M845.5 1959.9h0M817.5 1959.9h0M837.6 1959.9h0M813.7 1960.5h0M817.8 1960.5h0M837.1 1960.5h0M840.5 1960.6h0M816.1 1960.7h0M811.2 1960.7h0M836.7 1960.8h0M842.9 1960.8h0M818 1961.2h0M836.9 1961.5h0M815.5 1961.6h0M836.4 1961.6h0M818.1 1961.7h0M839.9 1961.7h0M813.2 1961.8h0M843.2 1961.9h0M809.7 1962h0M836.2 1962h0M818.6 1962.5h0M836 1962.6h0M818.5 1962.6h0M840.9 1962.7h0M815.9 1962.7h0M837.8 1962.7h0M843.2 1962.7h0M813.1 1963h0M835.8 1963h0M818.8 1963.3h0M813.5 1963.6h0M817 1963.7h0M838.1 1963.7h0M819 1963.7h0M842.7 1963.7h0M835.5 1963.7h0M835.4 1964.2h0M818.8 1964.5h0M840.8 1964.5h0M835.2 1964.6h0M814.7 1964.6h0M817.1 1964.7h0M838 1964.7h0M819.4 1964.9h0M812.8 1965h0M834.9 1965.2h0M841.5 1965.3h0M819.6 1965.5h0M818 1965.7h0M836 1965.7h0M840.2 1965.7h0M812 1965.9h0M814.6 1966h0M834.7 1966h0M820 1966.2h0M838.5 1966.6h0M834.5 1966.6h0M820 1966.7h0M816.7 1966.8h0M834.3 1966.8h0M840.5 1967.1h0M834.2 1967.3h0M815.2 1967.5h0M819.9 1967.5h0M838.4 1967.6h0M834.1 1967.6h0M816.9 1967.7h0M820.5 1967.7h0M820.7 1968.1h0M835 1968.2h0M834.1 1968.5h0M815.5 1968.6h0M820.6 1968.6h0M837.6 1968.6h0M818.2 1968.8h0M833.6 1968.8h0M821 1969.2h0M815 1969.3h0M833.4 1969.3h0M833.5 1969.5h0M838.9 1969.6h0M820.9 1969.6h0M836.1 1969.7h0M817.8 1969.8h0M833.3 1970h0M821.2 1970h0M815.6 1970.3h0M821.6 1970.5h0M833.1 1970.5h0M836.9 1970.6h0M817 1970.7h0M820.9 1970.7h0M833.5 1970.9h0M837.5 1970.9h0M821.9 1971.3h0M833 1971.5h0M820.3 1971.6h0M817.3 1971.6h0M822.1 1971.7h0M835.2 1971.8h0M832.5 1971.8h0M832.3 1972.4h0M822.1 1972.5h0M819.5 1972.6h0M834.5 1972.6h0M832.2 1972.6h0M817.5 1972.7h0M822.3 1972.8h0M835.5 1972.9h0M831.9 1973.2h0M822.7 1973.3h0M822.6 1973.6h0M834 1973.7h0M820.1 1973.7h0M831.7 1973.9h0M835.4 1973.9h0M822.9 1974.2h0M831.5 1974.4h0M836 1974.5h0M831.4 1974.6h0M820.5 1974.6h0M823 1974.6h0M818 1974.7h0M833.8 1974.7h0M823.3 1975h0M831.1 1975.2h0M823.5 1975.6h0M831.2 1975.6h0M820.9 1975.7h0M823.7 1975.9h0M833.5 1975.9h0M830.8 1976h0M823.9 1976.5h0M831 1976.7h0M821.3 1976.7h0M833.9 1976.8h0M824.1 1977.1h0M830.3 1977.4h0M822.4 1977.6h0M830.9 1977.7h0M824.4 1977.7h0M829.9 1978.5h0M824.7 1978.5h0M831.6 1978.5h0M823.4 1978.6h0M822.2 1978.7h0M829.7 1979h0M825 1979.5h0M830.7 1979.6h0M823.5 1979.6h0M831.8 1979.8h0M829.3 1980.3h0M824.5 1980.5h0M830 1980.7h0M824.4 1981h0M829.1 1981.5h0M824.5 1981.6h0M830 1981.8h0M826 1982.1h0M825.5 1982.5h0M828.9 1982.7h0M826 1983.5h0M828.7 1983.6h0M826.4 1984.5h0M827.8 1984.6h0M827 1985.2h0M827.5 1985.5h0M827.3 1986.3h0" fill="none" stroke="#000" stroke-width="7" stroke-linecap="round"/>
<text x="1075.5" y="1631" font-size="31.2" font-weight="bold">k</text>
<rect x="1234.7" y="1590.4" width="264.7" height="131.5" fill="#fff" stroke="#000" stroke-width="1.8" rx="28"/>
<text x="1368" y="1658" font-size="37.5" text-anchor="middle">1350 m<tspan font-size="25" dy="-12">6</tspan><tspan dy="12">A-</tspan></text>
<text x="1367.3" y="1691.5" font-size="37.5" text-anchor="middle">QTLs</text>
<path d="M1294 1733L1266.7 1764.5L1254.6 1754L1256.2 1791.1L1293.1 1787.4L1281.1 1777L1308.4 1745.5Z" fill="#000"/>
<path d="M1433.5 1745.5L1461.4 1777.7L1449.3 1788.2L1486.3 1791.8L1487.8 1754.7L1475.8 1765.2L1447.8 1733Z" fill="#000"/>
<text x="1181.8" y="1824.7" font-size="37.5" text-anchor="middle">RNA</text>
<text x="1318.5" y="1824.7" font-size="37.5" text-anchor="middle">Protein</text>
<ellipse cx="1210.5" cy="1898.2" rx="72.2" ry="62.8" fill="none" stroke="#000" stroke-width="1.8"/>
<ellipse cx="1293.6" cy="1898.5" rx="72.2" ry="63" fill="none" stroke="#000" stroke-width="1.8"/>
<text x="1187.7" y="1914.7" font-size="37.5" text-anchor="middle">97</text>
<text x="1249.6" y="1914.7" font-size="37.5" text-anchor="middle">4</text>
<text x="1313.3" y="1914.7" font-size="37.5" text-anchor="middle">5</text>
<rect x="1412.9" y="1808.4" width="226.6" height="154.7" fill="#fff" stroke="#000" stroke-width="1.8" rx="26"/>
<text x="1526.1" y="1855.8" font-size="37.5" text-anchor="middle">3 SNPs</text>
<text x="1526.1" y="1897.4" font-size="37.5" text-anchor="middle">associated</text>
<text x="1526.4" y="1938.2" font-size="37.5" text-anchor="middle">with ISUP</text>
<text x="1611" y="1630.3" font-size="31.2" font-weight="bold">l</text>
<rect x="1769.9" y="1569.7" width="225.7" height="70" fill="#000"/>
<rect x="1769.9" y="1639.6" width="225.7" height="68.7" fill="#7f7f7f"/>
<rect x="1769.9" y="1569.7" width="56.4" height="70" fill="none" stroke="#000" stroke-width="0.8"/>
<rect x="1769.9" y="1639.6" width="56.4" height="68.7" fill="none" stroke="#1a1a1a" stroke-width="0.8"/>
<rect x="1826.3" y="1569.7" width="56.1" height="70" fill="none" stroke="#000" stroke-width="0.8"/>
<rect x="1826.3" y="1639.6" width="56.1" height="68.7" fill="none" stroke="#1a1a1a" stroke-width="0.8"/>
<rect x="1882.4" y="1569.7" width="56.1" height="70" fill="none" stroke="#000" stroke-width="0.8"/>
<rect x="1882.4" y="1639.6" width="56.1" height="68.7" fill="none" stroke="#1a1a1a" stroke-width="0.8"/>
<rect x="1938.5" y="1569.7" width="57.1" height="70" fill="none" stroke="#000" stroke-width="0.8"/>
<rect x="1938.5" y="1639.6" width="57.1" height="68.7" fill="none" stroke="#1a1a1a" stroke-width="0.8"/>
<circle cx="1798.3" cy="1605.8" r="6.4" fill="#1e88ee"/>
<circle cx="1854.4" cy="1605.8" r="6.4" fill="#1e88ee"/>
<circle cx="1910.4" cy="1605.8" r="3.6" fill="#1e88ee"/>
<circle cx="1966.9" cy="1605.8" r="5.5" fill="#1e88ee"/>
<circle cx="1798.3" cy="1677" r="5.5" fill="#1e88ee"/>
<circle cx="1854.4" cy="1677" r="4.8" fill="#1e88ee"/>
<circle cx="1910.4" cy="1677" r="4.2" fill="#1e88ee"/>
<circle cx="1966.9" cy="1677" r="7.1" fill="#1e88ee"/>
<text x="1765.1" y="1611.6" font-size="31.8" font-weight="bold" text-anchor="end">RNA</text>
<text x="1764.4" y="1687.3" font-size="31.8" font-weight="bold" text-anchor="end">Protein</text>
<circle cx="2027.1" cy="1581.9" r="9.7" fill="#1e88ee"/>
<circle cx="2027.1" cy="1606.7" r="5.5" fill="#1e88ee"/>
<circle cx="2027.1" cy="1631.6" r="3.2" fill="#1e88ee"/>
<circle cx="2027.1" cy="1680.2" r="3.2" fill="#f77f0e"/>
<circle cx="2027.1" cy="1704.4" r="5.5" fill="#f77f0e"/>
<circle cx="2027.1" cy="1729.2" r="9.7" fill="#f77f0e"/>
<text x="2077.8" y="1587.4" font-size="22" text-anchor="end">-2</text>
<text x="2076.1" y="1611.6" font-size="22" text-anchor="end">-1</text>
<text x="2081" y="1637.4" font-size="22" text-anchor="end">-0.5</text>
<text x="2077.1" y="1661.5" font-size="22" text-anchor="end">0</text>
<text x="2081" y="1687.3" font-size="22" text-anchor="end">0.5</text>
<text x="2076.1" y="1712.2" font-size="22" text-anchor="end">1</text>
<text x="2077.8" y="1737.3" font-size="22" text-anchor="end">2</text>
<text x="2101.3" y="1660.6" font-size="37" text-anchor="middle"><tspan font-family="'Liberation Serif','DejaVu Serif',serif" font-weight="normal">β</tspan></text>
<text transform="translate(1803.1 1714.1) rotate(-90)" font-size="23.4" font-weight="bold" text-anchor="end">rs2549794 <tspan font-size="18.7" dy="-3">|</tspan><tspan dy="3"> ERAP2 </tspan><tspan font-size="18.7" dy="-3">|</tspan><tspan dy="3"> 2</tspan></text>
<text transform="translate(1859.5 1714.1) rotate(-90)" font-size="23.4" font-weight="bold" text-anchor="end">rs4869313 <tspan font-size="18.7" dy="-3">|</tspan><tspan dy="3"> ERAP2 </tspan><tspan font-size="18.7" dy="-3">|</tspan><tspan dy="3"> 1</tspan></text>
<text transform="translate(1915.3 1714.1) rotate(-90)" font-size="23.4" font-weight="bold" text-anchor="end">rs4951018 <tspan font-size="18.7" dy="-3">|</tspan><tspan dy="3"> SLC45A3 </tspan><tspan font-size="18.7" dy="-3">|</tspan><tspan dy="3"> 5</tspan></text>
<text transform="translate(1972.3 1714.1) rotate(-90)" font-size="23.4" font-weight="bold" text-anchor="end">rs7273815 <tspan font-size="18.7" dy="-3">|</tspan><tspan dy="3"> CPNE1 </tspan><tspan font-size="18.7" dy="-3">|</tspan><tspan dy="3"> 1</tspan></text>
<text transform="translate(1748.9 1724.4) rotate(-90)" font-size="23.4" font-weight="bold" text-anchor="end">SNP <tspan font-size="18.7" dy="-3">|</tspan><tspan dy="3"> Gene </tspan><tspan font-size="18.7" dy="-3">|</tspan><tspan dy="3"> Peak</tspan></text>
<rect x="2020.7" y="1762.5" width="14.5" height="66.1" fill="#000"/>
<rect x="2020.7" y="1828.5" width="14.5" height="65.8" fill="#7f7f7f"/>
<rect x="2020.7" y="1894.3" width="14.5" height="66.4" fill="#fff"/>
<rect x="2020.7" y="1762.5" width="14.5" height="198.3" fill="none" stroke="#333" stroke-width="0.8"/>
<line x1="2035.2" y1="1763.1" x2="2039.1" y2="1763.1" stroke="#333" stroke-width="0.8"/>
<line x1="2035.2" y1="1828.5" x2="2039.1" y2="1828.5" stroke="#333" stroke-width="0.8"/>
<line x1="2035.2" y1="1894.3" x2="2039.1" y2="1894.3" stroke="#333" stroke-width="0.8"/>
<line x1="2035.2" y1="1960.7" x2="2039.1" y2="1960.7" stroke="#333" stroke-width="0.8"/>
<text x="2046.5" y="1774.4" font-size="22">10<tspan font-size="13.2" dy="-7.9">-12</tspan></text>
<text x="2046.5" y="1842.1" font-size="22">10<tspan font-size="13.2" dy="-7.9">-2</tspan></text>
<text x="2046.5" y="1903.3" font-size="22">10<tspan font-size="13.2" dy="-7.9">-1</tspan></text>
<text x="2046.5" y="1965.5" font-size="22">1</text>
<text x="-2" y="2136.7" font-size="31.2" font-weight="bold">m</text>
<text x="322.5" y="2131.8" font-size="31.7" font-weight="bold" text-anchor="middle">rs4951018 <tspan font-size="25.4" dy="-4.1">|</tspan><tspan dy="4.1"> SLC45A3</tspan></text>
<line x1="184.7" y1="2147" x2="184.7" y2="2607.9" stroke="#000" stroke-width="2.4"/>
<line x1="183.7" y1="2606.9" x2="513.2" y2="2606.9" stroke="#000" stroke-width="2.4"/>
<text x="161.3" y="2217.7" font-size="31.8" font-weight="bold" text-anchor="end">4</text>
<text x="161.3" y="2291.2" font-size="31.8" font-weight="bold" text-anchor="end">2</text>
<text x="161.3" y="2364.4" font-size="31.8" font-weight="bold" text-anchor="end">0</text>
<text x="161.3" y="2437.6" font-size="31.8" font-weight="bold" text-anchor="end">-2</text>
<text x="161.3" y="2511.4" font-size="31.8" font-weight="bold" text-anchor="end">-4</text>
<text x="161.3" y="2584.6" font-size="31.8" font-weight="bold" text-anchor="end">-6</text>
<text x="238.2" y="2642.1" font-size="31.8" font-weight="bold" text-anchor="middle">AA</text>
<text x="340.4" y="2642.1" font-size="31.8" font-weight="bold" text-anchor="middle">AC</text>
<text x="442.2" y="2642.1" font-size="31.8" font-weight="bold" text-anchor="middle">CC</text>
<text x="354.1" y="2675.8" font-size="31.7" font-weight="bold" text-anchor="middle">Genotype</text>
<text transform="translate(104.6 2367.7) rotate(-90)" font-size="31.8" font-weight="bold" text-anchor="middle">RNA</text>
<text x="281.3" y="2190.3" font-size="28.3">P = 1.13 x 10<tspan font-size="20" dy="-13.5" dx="1">−4</tspan></text>
<path d="M232.9 2253.6h0M252.1 2267.1h0M266.6 2273.7h0M237.1 2276.4h0M259.1 2282.1h0M262.9 2301.4h0M245.6 2306h0M256.2 2307.5h0M264.2 2311.5h0M254.2 2322.5h0M230.2 2326.7h0M230.6 2319.6h0M242.1 2317.3h0M255 2344.2h0M231.4 2352.5h0M231.1 2355.3h0M241.5 2357.6h0M252.5 2354.5h0M228.3 2361.3h0M235.2 2366.9h0M243.3 2372.6h0M246.7 2376.1h0M261.1 2372.6h0M261.7 2374.4h0M228.8 2388.8h0M234 2389.9h0M245.3 2388.8h0M264.6 2389.7h0M251.3 2401.5h0M250.7 2404.4h0M236.9 2405.9h0M250.2 2407.2h0M251.9 2421.7h0M240.4 2425.5h0M256.9 2428.2h0M249 2448.5h0M253.1 2458h0M332.4 2316.1h0M367.2 2310.4h0M362.6 2312.7h0M362.6 2319.6h0M363.6 2325.9h0M337.8 2344.4h0M332.4 2359.4h0M328.6 2367.2h0M342.7 2365.7h0M343 2381.9h0M334.4 2383.6h0M336.9 2390.9h0M367 2395.1h0M366.7 2398h0M332.6 2401.2h0M342.4 2400.6h0M355.5 2402.4h0M344.2 2411.9h0M244.2 2175.6h0M259.4 2523.8h0M260 2578.3h0M365.9 2219.2h0M455 2339.4h0M431.6 2356.5h0M460 2416.3h0M455 2431.9h0M465 2451.2h0" fill="none" stroke="#a8a8a8" stroke-width="8.8" stroke-linecap="round" stroke-opacity="0.5"/>
<line x1="246.3" y1="2253.8" x2="246.3" y2="2317.3" stroke="#000" stroke-width="2.3"/>
<line x1="220.2" y1="2253.8" x2="272.5" y2="2253.8" stroke="#000" stroke-width="2.3"/>
<line x1="246.3" y1="2394.5" x2="246.3" y2="2457.8" stroke="#000" stroke-width="2.3"/>
<line x1="220.2" y1="2457.8" x2="272.5" y2="2457.8" stroke="#000" stroke-width="2.3"/>
<rect x="220.2" y="2317.3" width="52.3" height="77.2" fill="none" stroke="#000" stroke-width="2.3"/>
<line x1="220.2" y1="2368.7" x2="272.5" y2="2368.7" stroke="#000" stroke-width="2.3"/>
<line x1="348.6" y1="2218.3" x2="348.6" y2="2322" stroke="#000" stroke-width="2.3"/>
<line x1="323" y1="2218.3" x2="374.3" y2="2218.3" stroke="#000" stroke-width="2.3"/>
<line x1="348.6" y1="2395.5" x2="348.6" y2="2411.7" stroke="#000" stroke-width="2.3"/>
<line x1="323" y1="2411.7" x2="374.3" y2="2411.7" stroke="#000" stroke-width="2.3"/>
<rect x="323" y="2322" width="51.4" height="73.5" fill="none" stroke="#000" stroke-width="2.3"/>
<line x1="323" y1="2374.3" x2="374.3" y2="2374.3" stroke="#000" stroke-width="2.3"/>
<line x1="451.4" y1="2339.7" x2="451.4" y2="2357.2" stroke="#000" stroke-width="2.3"/>
<line x1="425.7" y1="2339.7" x2="477.1" y2="2339.7" stroke="#000" stroke-width="2.3"/>
<rect x="425.7" y="2357.2" width="51.4" height="94.4" fill="none" stroke="#000" stroke-width="2.3"/>
<line x1="425.7" y1="2424.1" x2="477.1" y2="2424.1" stroke="#000" stroke-width="2.3"/>
<text x="582" y="2136" font-size="31.2" font-weight="bold">n</text>
<text x="849.5" y="2131.8" font-size="31.7" font-weight="bold" text-anchor="middle">rs4951018 <tspan font-size="25.4" dy="-4.1">|</tspan><tspan dy="4.1"> SLC45A3</tspan></text>
<line x1="698.8" y1="2147" x2="698.8" y2="2610.4" stroke="#000" stroke-width="2.4"/>
<line x1="697.8" y1="2609.4" x2="1028" y2="2609.4" stroke="#000" stroke-width="2.4"/>
<text x="681.7" y="2185.3" font-size="31.8" font-weight="bold" text-anchor="end">4</text>
<text x="681.7" y="2282.5" font-size="31.8" font-weight="bold" text-anchor="end">2</text>
<text x="681.7" y="2379" font-size="31.8" font-weight="bold" text-anchor="end">0</text>
<text x="681.7" y="2475.6" font-size="31.8" font-weight="bold" text-anchor="end">-2</text>
<text x="681.7" y="2572.1" font-size="31.8" font-weight="bold" text-anchor="end">-4</text>
<text x="761.7" y="2642.1" font-size="31.8" font-weight="bold" text-anchor="middle">AA</text>
<text x="863.9" y="2642.1" font-size="31.8" font-weight="bold" text-anchor="middle">AC</text>
<text x="966.7" y="2642.1" font-size="31.8" font-weight="bold" text-anchor="middle">CC</text>
<text x="868.9" y="2675.8" font-size="31.7" font-weight="bold" text-anchor="middle">Genotype</text>
<text transform="translate(637 2365) rotate(-90)" font-size="31.8" font-weight="bold" text-anchor="middle">Protein</text>
<text x="819.3" y="2186.5" font-size="28.3">P = 6.09 x 10<tspan font-size="20" dy="-13.5" dx="1">−4</tspan></text>
<path d="M775.1 2175.7h0M774.1 2225.9h0M744.9 2251.2h0M764.5 2249.8h0M773.1 2266.3h0M765.3 2289.2h0M765.5 2298.8h0M775.5 2319.4h0M774.7 2345.3h0M746.5 2348.2h0M768.6 2356.9h0M764.9 2366.1h0M779.2 2370.2h0M771 2378h0M751.6 2387.6h0M778.6 2388.2h0M763.9 2390.6h0M766.9 2395.1h0M743.9 2406.9h0M756.3 2414.5h0M778.2 2423.9h0M774.1 2426.3h0M772 2491h0M768.6 2555.5h0M874.1 2218.6h0M873.7 2290h0M854.5 2318.8h0M848.6 2343.1h0M881.8 2364.1h0M879.4 2372.2h0M842.4 2393.1h0M869.4 2400.8h0M878.2 2403.5h0M873.1 2424.3h0M882.9 2427.8h0M855.1 2442.4h0M873.5 2488.6h0M851.2 2512h0M842.9 2528.2h0M845.3 2556.3h0M958.2 2227.8h0M951.6 2367.1h0M948.2 2414.7h0M946.5 2424.9h0M975.1 2487.6h0M969 2581h0" fill="none" stroke="#a8a8a8" stroke-width="8.8" stroke-linecap="round" stroke-opacity="0.5"/>
<line x1="759.8" y1="2175.7" x2="759.8" y2="2289.2" stroke="#000" stroke-width="2.1"/>
<line x1="733.9" y1="2175.7" x2="785.7" y2="2175.7" stroke="#000" stroke-width="2.1"/>
<line x1="759.8" y1="2394.7" x2="759.8" y2="2491" stroke="#000" stroke-width="2.1"/>
<line x1="733.9" y1="2491" x2="785.7" y2="2491" stroke="#000" stroke-width="2.1"/>
<rect x="733.9" y="2289.2" width="51.8" height="105.5" fill="none" stroke="#000" stroke-width="2.1"/>
<line x1="733.9" y1="2366.1" x2="785.7" y2="2366.1" stroke="#000" stroke-width="2.1"/>
<line x1="863" y1="2218.6" x2="863" y2="2353.3" stroke="#000" stroke-width="2.1"/>
<line x1="836.9" y1="2218.6" x2="889" y2="2218.6" stroke="#000" stroke-width="2.1"/>
<line x1="863" y1="2465.5" x2="863" y2="2556.3" stroke="#000" stroke-width="2.1"/>
<line x1="836.9" y1="2556.3" x2="889" y2="2556.3" stroke="#000" stroke-width="2.1"/>
<rect x="836.9" y="2353.3" width="52" height="112.2" fill="none" stroke="#000" stroke-width="2.1"/>
<line x1="836.9" y1="2401.8" x2="889" y2="2401.8" stroke="#000" stroke-width="2.1"/>
<line x1="965.9" y1="2227.8" x2="965.9" y2="2367.1" stroke="#000" stroke-width="2.1"/>
<line x1="939.8" y1="2227.8" x2="992" y2="2227.8" stroke="#000" stroke-width="2.1"/>
<line x1="965.9" y1="2487.6" x2="965.9" y2="2581" stroke="#000" stroke-width="2.1"/>
<line x1="939.8" y1="2581" x2="992" y2="2581" stroke="#000" stroke-width="2.1"/>
<rect x="939.8" y="2367.1" width="52.2" height="120.4" fill="none" stroke="#000" stroke-width="2.1"/>
<line x1="939.8" y1="2419.6" x2="992" y2="2419.6" stroke="#000" stroke-width="2.1"/>
<text x="1072" y="2130.3" font-size="31.2" font-weight="bold">o</text>
<text transform="translate(1197.4 2169.3) rotate(-90)" font-size="23.4" text-anchor="middle">ISUP Grade Group</text>
<text x="1231.5" y="2084.7" font-size="23.4" text-anchor="end">1</text>
<text x="1231.5" y="2148.7" font-size="23.4" text-anchor="end">2</text>
<text x="1231.5" y="2212.7" font-size="23.4" text-anchor="end">3</text>
<text x="1231.5" y="2276.7" font-size="23.4" text-anchor="end">4+</text>
<rect x="1234.4" y="2111" width="90" height="64" fill="#9ab4f8"/>
<rect x="1234.4" y="2175" width="90" height="64" fill="#e5ebfd"/>
<rect x="1234.4" y="2046.7" width="180.6" height="256.4" fill="none" stroke="#111" stroke-width="1.5"/>
<text x="1277.6" y="2089.2" font-size="24" text-anchor="middle">9</text>
<text x="1366.9" y="2089.2" font-size="24" text-anchor="middle">0</text>
<text x="1277.6" y="2153.2" font-size="24" text-anchor="middle">82</text>
<text x="1366.9" y="2153.2" font-size="24" text-anchor="middle">0</text>
<text x="1277.6" y="2217.2" font-size="24" text-anchor="middle">30</text>
<text x="1366.9" y="2217.2" font-size="24" text-anchor="middle">0</text>
<text x="1277.6" y="2281.2" font-size="24" text-anchor="middle">9</text>
<text x="1366.9" y="2281.2" font-size="24" text-anchor="middle">2</text>
<rect x="1421.9" y="2111" width="55.1" height="64" fill="#8fadf6"/>
<rect x="1421.9" y="2175" width="55.1" height="64" fill="#e2e8fc"/>
<rect x="1421.9" y="2239" width="55.1" height="64.1" fill="#f2f5fe"/>
<rect x="1421.9" y="2046.7" width="55.1" height="256.4" fill="none" stroke="#111" stroke-width="1.5"/>
<text x="1448.5" y="2089.2" font-size="24" text-anchor="middle">9</text>
<text x="1448.5" y="2153.2" font-size="24" text-anchor="middle">82</text>
<text x="1448.5" y="2217.2" font-size="24" text-anchor="middle">30</text>
<text x="1448.5" y="2281.2" font-size="24" text-anchor="middle">11</text>
<rect x="1234.4" y="2312.5" width="90" height="47.2" fill="#4d94ff"/>
<rect x="1234.4" y="2312.5" width="180.6" height="47.2" fill="none" stroke="#111" stroke-width="1.5"/>
<text x="1280.9" y="2346.3" font-size="24" text-anchor="middle">130</text>
<text x="1366.9" y="2346.3" font-size="24" text-anchor="middle">2</text>
<text x="1335.3" y="2038.3" font-size="23.4" text-anchor="middle">Q = 3.21 x 10<tspan font-size="14" dy="-8.4">-2</tspan></text>
<text x="1235.9" y="2379.5" font-size="24.1">AA + AB</text>
<text x="1347" y="2379.5" font-size="24.1">BB</text>
<text x="1328.7" y="2402.4" font-size="23.4" text-anchor="middle">rs143089027</text>
<rect x="1490.4" y="2111" width="90" height="64" fill="#9ab4f8"/>
<rect x="1490.4" y="2175" width="90" height="64" fill="#e5ebfd"/>
<rect x="1490.4" y="2046.7" width="180.7" height="256.4" fill="none" stroke="#111" stroke-width="1.5"/>
<text x="1533.6" y="2089.2" font-size="24" text-anchor="middle">9</text>
<text x="1622.9" y="2089.2" font-size="24" text-anchor="middle">0</text>
<text x="1533.6" y="2153.2" font-size="24" text-anchor="middle">82</text>
<text x="1622.9" y="2153.2" font-size="24" text-anchor="middle">0</text>
<text x="1533.6" y="2217.2" font-size="24" text-anchor="middle">30</text>
<text x="1622.9" y="2217.2" font-size="24" text-anchor="middle">0</text>
<text x="1533.6" y="2281.2" font-size="24" text-anchor="middle">9</text>
<text x="1622.9" y="2281.2" font-size="24" text-anchor="middle">2</text>
<rect x="1678" y="2111" width="55.4" height="64" fill="#8fadf6"/>
<rect x="1678" y="2175" width="55.4" height="64" fill="#e2e8fc"/>
<rect x="1678" y="2239" width="55.4" height="64.1" fill="#f2f5fe"/>
<rect x="1678" y="2046.7" width="55.4" height="256.4" fill="none" stroke="#111" stroke-width="1.5"/>
<text x="1704.7" y="2089.2" font-size="24" text-anchor="middle">9</text>
<text x="1704.7" y="2153.2" font-size="24" text-anchor="middle">82</text>
<text x="1704.7" y="2217.2" font-size="24" text-anchor="middle">30</text>
<text x="1704.7" y="2281.2" font-size="24" text-anchor="middle">11</text>
<rect x="1490.4" y="2312.5" width="90" height="47.2" fill="#4d94ff"/>
<rect x="1490.4" y="2312.5" width="180.7" height="47.2" fill="none" stroke="#111" stroke-width="1.5"/>
<text x="1536.9" y="2346.3" font-size="24" text-anchor="middle">130</text>
<text x="1622.9" y="2346.3" font-size="24" text-anchor="middle">2</text>
<text x="1589.4" y="2038.3" font-size="23.4" text-anchor="middle">Q = 3.21 x 10<tspan font-size="14" dy="-8.4">-2</tspan></text>
<text x="1491.9" y="2379.5" font-size="24.1">AA + AB</text>
<text x="1603" y="2379.5" font-size="24.1">BB</text>
<text x="1583" y="2402.4" font-size="23.4" text-anchor="middle">rs76338659</text>
<rect x="1744.9" y="2111" width="89.8" height="64" fill="#9ab4f8"/>
<rect x="1744.9" y="2175" width="89.8" height="64" fill="#e5ebfd"/>
<rect x="1744.9" y="2046.7" width="180.1" height="256.4" fill="none" stroke="#111" stroke-width="1.5"/>
<text x="1788.1" y="2089.2" font-size="24" text-anchor="middle">9</text>
<text x="1877.2" y="2089.2" font-size="24" text-anchor="middle">0</text>
<text x="1788.1" y="2153.2" font-size="24" text-anchor="middle">78</text>
<text x="1877.2" y="2153.2" font-size="24" text-anchor="middle">4</text>
<text x="1788.1" y="2217.2" font-size="24" text-anchor="middle">30</text>
<text x="1877.2" y="2217.2" font-size="24" text-anchor="middle">0</text>
<text x="1788.1" y="2281.2" font-size="24" text-anchor="middle">7</text>
<text x="1877.2" y="2281.2" font-size="24" text-anchor="middle">4</text>
<rect x="1932" y="2111" width="55.2" height="64" fill="#8fadf6"/>
<rect x="1932" y="2175" width="55.2" height="64" fill="#e2e8fc"/>
<rect x="1932" y="2239" width="55.2" height="64.1" fill="#f2f5fe"/>
<rect x="1932" y="2046.7" width="55.2" height="256.4" fill="none" stroke="#111" stroke-width="1.5"/>
<text x="1958.6" y="2089.2" font-size="24" text-anchor="middle">9</text>
<text x="1958.6" y="2153.2" font-size="24" text-anchor="middle">82</text>
<text x="1958.6" y="2217.2" font-size="24" text-anchor="middle">30</text>
<text x="1958.6" y="2281.2" font-size="24" text-anchor="middle">11</text>
<rect x="1744.9" y="2312.5" width="89.8" height="47.2" fill="#2690ff"/>
<rect x="1744.9" y="2312.5" width="180.1" height="47.2" fill="none" stroke="#111" stroke-width="1.5"/>
<text x="1791.4" y="2346.3" font-size="24" text-anchor="middle">124</text>
<text x="1877.2" y="2346.3" font-size="24" text-anchor="middle">8</text>
<text x="1838.9" y="2038.3" font-size="23.4" text-anchor="middle">Q = 5.26 x 10<tspan font-size="14" dy="-8.4">-2</tspan></text>
<text x="1746.4" y="2379.5" font-size="24.1">AA + AB</text>
<text x="1857.3" y="2379.5" font-size="24.1">BB</text>
<text x="1837" y="2402.4" font-size="23.4" text-anchor="middle">rs57557217</text>
<rect x="1236.6" y="2427.5" width="49.4" height="50.7" fill="#9ab4f8"/>
<rect x="1286" y="2427.5" width="49.4" height="50.7" fill="#d0dcfb"/>
<rect x="1236.6" y="2427.5" width="148.2" height="152.7" fill="none" stroke="#111" stroke-width="1.5"/>
<text x="1261.4" y="2461.4" font-size="24" text-anchor="middle">77</text>
<text x="1311.2" y="2461.4" font-size="24" text-anchor="middle">35</text>
<text x="1358.3" y="2461.4" font-size="24" text-anchor="middle">2</text>
<text x="1261.4" y="2512.4" font-size="24" text-anchor="middle">8</text>
<text x="1311.2" y="2512.4" font-size="24" text-anchor="middle">8</text>
<text x="1358.3" y="2512.4" font-size="24" text-anchor="middle">0</text>
<text x="1261.4" y="2563.7" font-size="24" text-anchor="middle">1</text>
<text x="1311.2" y="2563.7" font-size="24" text-anchor="middle">1</text>
<text x="1358.3" y="2563.7" font-size="24" text-anchor="middle">0</text>
<rect x="1401" y="2427.5" width="34.8" height="50.7" fill="#2e8cf5"/>
<rect x="1401" y="2478.2" width="34.8" height="51" fill="#eaeefc"/>
<rect x="1401" y="2427.5" width="34.8" height="152.7" fill="none" stroke="#111" stroke-width="1.5"/>
<text x="1418.4" y="2461.4" font-size="24" text-anchor="middle">114</text>
<text x="1418.4" y="2512.4" font-size="24" text-anchor="middle">16</text>
<text x="1418.4" y="2563.7" font-size="24" text-anchor="middle">2</text>
<rect x="1236.6" y="2595.7" width="49.4" height="32.3" fill="#86a9f7"/>
<rect x="1286" y="2595.7" width="49.4" height="32.3" fill="#c5d4fb"/>
<rect x="1236.6" y="2595.7" width="148.2" height="32.3" fill="none" stroke="#111" stroke-width="1.5"/>
<text x="1261.4" y="2620.6" font-size="24" text-anchor="middle">86</text>
<text x="1311.2" y="2620.6" font-size="24" text-anchor="middle">44</text>
<text x="1358.3" y="2620.6" font-size="24" text-anchor="middle">2</text>
<text x="1233.7" y="2458.1" font-size="23.4" text-anchor="end">AA</text>
<text x="1233.7" y="2508.8" font-size="23.4" text-anchor="end">AB</text>
<text x="1233.7" y="2559.9" font-size="23.4" text-anchor="end">BB</text>
<text transform="translate(1198.1 2502.2) rotate(-90)" font-size="23.4" text-anchor="middle">rs143089027</text>
<text x="1263.4" y="2648.7" font-size="23.4" text-anchor="middle">AA</text>
<text x="1312.8" y="2648.7" font-size="23.4" text-anchor="middle">AB</text>
<text x="1361.9" y="2648.7" font-size="23.4" text-anchor="middle">BB</text>
<text x="1314.4" y="2680.3" font-size="23.4" text-anchor="middle">rs76338659</text>
<rect x="1511.4" y="2422.9" width="49.4" height="50.7" fill="#b0c4f9"/>
<rect x="1560.8" y="2422.9" width="49.1" height="50.7" fill="#c3d2fb"/>
<rect x="1511.4" y="2422.9" width="147.9" height="152.8" fill="none" stroke="#111" stroke-width="1.5"/>
<text x="1536.6" y="2458.1" font-size="24" text-anchor="middle">60</text>
<text x="1585.7" y="2458.1" font-size="24" text-anchor="middle">47</text>
<text x="1631.9" y="2458.1" font-size="24" text-anchor="middle">7</text>
<text x="1536.6" y="2508.8" font-size="24" text-anchor="middle">8</text>
<text x="1585.7" y="2508.8" font-size="24" text-anchor="middle">8</text>
<text x="1631.9" y="2508.8" font-size="24" text-anchor="middle">0</text>
<text x="1536.6" y="2559.9" font-size="24" text-anchor="middle">1</text>
<text x="1585.7" y="2559.9" font-size="24" text-anchor="middle">0</text>
<text x="1631.9" y="2559.9" font-size="24" text-anchor="middle">1</text>
<rect x="1675.6" y="2422.9" width="35" height="50.7" fill="#2e8cf5"/>
<rect x="1675.6" y="2473.6" width="35" height="51.1" fill="#eaeefc"/>
<rect x="1675.6" y="2422.9" width="35" height="152.8" fill="none" stroke="#111" stroke-width="1.5"/>
<text x="1693.3" y="2458.1" font-size="24" text-anchor="middle">114</text>
<text x="1693.3" y="2508.8" font-size="24" text-anchor="middle">16</text>
<text x="1693.3" y="2559.9" font-size="24" text-anchor="middle">2</text>
<rect x="1511.4" y="2591.2" width="49.4" height="32" fill="#a3bbf8"/>
<rect x="1560.8" y="2591.2" width="49.1" height="32" fill="#b5c8fa"/>
<rect x="1511.4" y="2591.2" width="147.9" height="32" fill="none" stroke="#111" stroke-width="1.5"/>
<text x="1536.6" y="2616" font-size="24" text-anchor="middle">69</text>
<text x="1585.7" y="2616" font-size="24" text-anchor="middle">55</text>
<text x="1631.9" y="2616" font-size="24" text-anchor="middle">8</text>
<text x="1508.2" y="2453.3" font-size="23.4" text-anchor="end">AA</text>
<text x="1508.2" y="2504" font-size="23.4" text-anchor="end">AB</text>
<text x="1508.2" y="2555" font-size="23.4" text-anchor="end">BB</text>
<text transform="translate(1472 2496.8) rotate(-90)" font-size="23.4" text-anchor="middle">rs143089027</text>
<text x="1537.9" y="2644.5" font-size="23.4" text-anchor="middle">AA</text>
<text x="1586.6" y="2644.5" font-size="23.4" text-anchor="middle">AB</text>
<text x="1636.7" y="2644.5" font-size="23.4" text-anchor="middle">BB</text>
<text x="1589.4" y="2676.1" font-size="23.4" text-anchor="middle">rs57557217</text>
<rect x="1785.8" y="2424.8" width="49.1" height="51.2" fill="#aec2f9"/>
<rect x="1834.9" y="2424.8" width="49.3" height="51.2" fill="#c0d0fb"/>
<rect x="1785.8" y="2476" width="49.1" height="50.9" fill="#d6e0fc"/>
<rect x="1834.9" y="2476" width="49.3" height="50.9" fill="#e6ecfd"/>
<rect x="1785.8" y="2424.8" width="147.8" height="153.3" fill="none" stroke="#111" stroke-width="1.5"/>
<text x="1809.7" y="2459.3" font-size="24" text-anchor="middle">41</text>
<text x="1860" y="2459.3" font-size="24" text-anchor="middle">39</text>
<text x="1907.3" y="2459.3" font-size="24" text-anchor="middle">6</text>
<text x="1809.7" y="2510.1" font-size="24" text-anchor="middle">26</text>
<text x="1860" y="2510.1" font-size="24" text-anchor="middle">16</text>
<text x="1907.3" y="2510.1" font-size="24" text-anchor="middle">2</text>
<text x="1809.7" y="2561.6" font-size="24" text-anchor="middle">2</text>
<text x="1860" y="2561.6" font-size="24" text-anchor="middle">0</text>
<text x="1907.3" y="2561.6" font-size="24" text-anchor="middle">0</text>
<rect x="1949.8" y="2424.8" width="35" height="51.2" fill="#2e8cf5"/>
<rect x="1949.8" y="2476" width="35" height="50.9" fill="#a3bbf8"/>
<rect x="1949.8" y="2424.8" width="35" height="153.3" fill="none" stroke="#111" stroke-width="1.5"/>
<text x="1967.7" y="2459.3" font-size="24" text-anchor="middle">86</text>
<text x="1967.7" y="2510.1" font-size="24" text-anchor="middle">44</text>
<text x="1967.7" y="2561.6" font-size="24" text-anchor="middle">2</text>
<rect x="1785.8" y="2594" width="49.1" height="31.7" fill="#7fa5f7"/>
<rect x="1834.9" y="2594" width="49.3" height="31.7" fill="#9db8fa"/>
<rect x="1785.8" y="2594" width="147.8" height="31.7" fill="none" stroke="#111" stroke-width="1.5"/>
<text x="1809.7" y="2618.5" font-size="24" text-anchor="middle">69</text>
<text x="1860" y="2618.5" font-size="24" text-anchor="middle">55</text>
<text x="1907.3" y="2618.5" font-size="24" text-anchor="middle">8</text>
<text x="1782.2" y="2455.4" font-size="23.4" text-anchor="end">AA</text>
<text x="1782.2" y="2506.3" font-size="23.4" text-anchor="end">AB</text>
<text x="1782.2" y="2557.1" font-size="23.4" text-anchor="end">BB</text>
<text transform="translate(1745.4 2501) rotate(-90)" font-size="23.4" text-anchor="middle">rs76338659</text>
<text x="1812.1" y="2646" font-size="23.4" text-anchor="middle">AA</text>
<text x="1861.5" y="2646" font-size="23.4" text-anchor="middle">AB</text>
<text x="1910.9" y="2646" font-size="23.4" text-anchor="middle">BB</text>
<text x="1867.2" y="2676.9" font-size="23.4" text-anchor="middle">rs57557217</text>
</svg>
</body></html>
